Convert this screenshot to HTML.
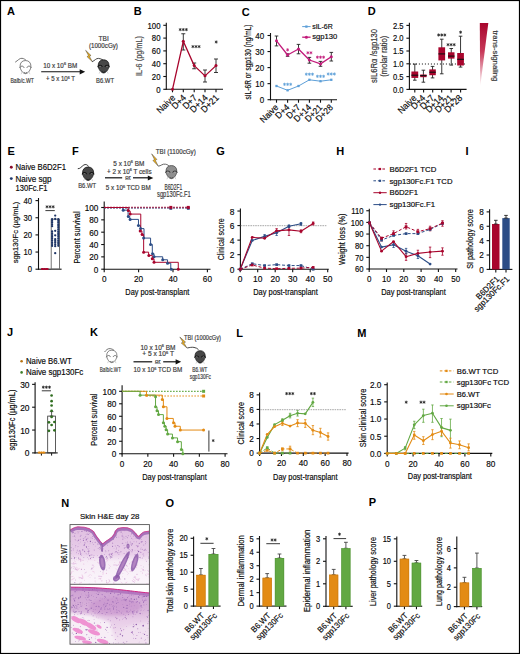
<!DOCTYPE html>
<html><head><meta charset="utf-8"><style>
html,body{margin:0;padding:0;background:#fff;}
body{width:520px;height:654px;overflow:hidden;}
svg{display:block;}
text{font-family:"Liberation Sans", sans-serif;}
</style></head><body>
<svg width="520" height="654" viewBox="0 0 520 654">
<defs>

<filter id="soft" x="-20%" y="-20%" width="140%" height="140%"><feGaussianBlur stdDeviation="1.6"/></filter>
<filter id="soft2" x="-20%" y="-20%" width="140%" height="140%"><feGaussianBlur stdDeviation="0.5"/></filter>
<linearGradient id="derm1" x1="0" y1="0" x2="0" y2="1">
<stop offset="0" stop-color="#dfbde0"/><stop offset="0.5" stop-color="#e9cfea"/><stop offset="0.62" stop-color="#f6ecf6"/><stop offset="1" stop-color="#fbf5fb"/>
</linearGradient>
<linearGradient id="derm2" x1="0" y1="0" x2="0" y2="1">
<stop offset="0" stop-color="#cc9ed2"/><stop offset="0.4" stop-color="#d8b2da"/><stop offset="0.6" stop-color="#e8cde8"/><stop offset="1" stop-color="#f4e6f3"/>
</linearGradient>
<linearGradient id="trig" x1="0" y1="0" x2="0" y2="1">
<stop offset="0" stop-color="#a8052d"/><stop offset="0.45" stop-color="#c83a5a"/><stop offset="1" stop-color="#ffffff"/>
</linearGradient>

</defs>
<rect x="0" y="0" width="520" height="654" fill="#fff"/>
<text x="7" y="15.3" font-size="11" font-weight="bold" fill="#000">A</text>
<text x="103.6" y="40.6" font-size="6.6" text-anchor="middle" fill="#3a3a3a" stroke="#3a3a3a" stroke-width="0.18">TBI</text>
<text x="103.4" y="48.2" font-size="6.8" text-anchor="middle" fill="#3a3a3a" stroke="#3a3a3a" stroke-width="0.18" textLength="29" lengthAdjust="spacingAndGlyphs">(1000cGy)</text>
<path d="M25.5,60.55 C29.11,60.55 30.91,62.93 30.91,66.25 C30.91,69.58 28.16,73.66 25.5,73.66 C22.84,73.66 20.09,69.58 20.09,66.25 C20.09,62.93 21.89,60.55 25.5,60.55 Z" fill="#ffffff" stroke="#5a5a5a" stroke-width="0.76" />
<path d="M19.71,67.96 C20.56,65.68 23.22,65.49 24.17,67.77" fill="none" stroke="#555" stroke-width="0.85" />
<path d="M31.29,67.96 C30.44,65.68 27.78,65.49 26.83,67.77" fill="none" stroke="#555" stroke-width="0.85" />
<path d="M23.79,72.33 Q25.5,74.04 27.21,72.33" fill="none" stroke="#5a5a5a" stroke-width="0.85" />
<line x1="22.08" y1="71.95" x2="21.05" y2="74.23" stroke="#b5b5b5" stroke-width="0.57"/>
<line x1="28.92" y1="71.95" x2="29.95" y2="74.23" stroke="#b5b5b5" stroke-width="0.57"/>
<path d="M15.2,62.2 C18,60.5 19.5,58 22,58.3 C24,58.5 25,59.5 26,60.2" fill="none" stroke="#666" stroke-width="0.9" />
<text x="22.2" y="83" font-size="6.6" text-anchor="middle" fill="#3a3a3a" stroke="#3a3a3a" stroke-width="0.18" textLength="23.5" lengthAdjust="spacingAndGlyphs">Balb/c.WT</text>
<line x1="41.2" y1="71.8" x2="81.2" y2="71.8" stroke="#111" stroke-width="1.1"/>
<path d="M85.2,71.8 L79.7,69.2 L79.7,74.4 Z" fill="#111" stroke="none" stroke-width="1" />
<text x="60.2" y="67.5" font-size="6.6" text-anchor="middle" fill="#3a3a3a" stroke="#3a3a3a" stroke-width="0.18" textLength="34" lengthAdjust="spacingAndGlyphs">10 x 10<tspan dy="-2.4" font-size="3.96">6</tspan><tspan dy="2.4"> BM</tspan></text>
<text x="60.5" y="81" font-size="6.6" text-anchor="middle" fill="#3a3a3a" stroke="#3a3a3a" stroke-width="0.18" textLength="29" lengthAdjust="spacingAndGlyphs">+ 5 x 10<tspan dy="-2.4" font-size="3.96">6</tspan><tspan dy="2.4"> T</tspan></text>
<path d="M85.6,50.3 L91.04,55.54 L89.41,56.34 L92.4,61.7 L86.96,56.57 L88.59,55.66 L85.6,50.3 Z" fill="#f1b21d" stroke="#3a3a3a" stroke-width="0.45" />
<path d="M92.1,61.7 C95,60.5 96,58.2 98.5,58.4 C100.5,58.6 101.5,59.2 103,60" fill="none" stroke="#333" stroke-width="0.9" />
<path d="M103.6,59.85 C107.21,59.85 109.02,62.23 109.02,65.55 C109.02,68.88 106.26,72.96 103.6,72.96 C100.94,72.96 98.18,68.88 98.18,65.55 C98.18,62.23 99.99,59.85 103.6,59.85 Z" fill="#474747" stroke="#1a1a1a" stroke-width="0.76" />
<path d="M97.8,67.26 C98.66,64.98 101.32,64.79 102.27,67.07" fill="none" stroke="#111" stroke-width="1.23" />
<path d="M109.39,67.26 C108.54,64.98 105.88,64.79 104.93,67.07" fill="none" stroke="#111" stroke-width="1.23" />
<path d="M98.56,67.07 C99.23,65.93 100.84,65.83 101.51,67.07" fill="none" stroke="#9a9a9a" stroke-width="0.57" />
<path d="M108.63,67.07 C107.97,65.93 106.35,65.83 105.69,67.07" fill="none" stroke="#9a9a9a" stroke-width="0.57" />
<path d="M101.89,71.63 Q103.6,73.34 105.31,71.63" fill="none" stroke="#1a1a1a" stroke-width="0.85" />
<line x1="100.18" y1="71.25" x2="99.15" y2="73.53" stroke="#b5b5b5" stroke-width="0.57"/>
<line x1="107.02" y1="71.25" x2="108.05" y2="73.53" stroke="#b5b5b5" stroke-width="0.57"/>
<text x="105" y="83" font-size="6.6" text-anchor="middle" fill="#3a3a3a" stroke="#3a3a3a" stroke-width="0.18" textLength="18" lengthAdjust="spacingAndGlyphs">B6.WT</text>
<text x="133.8" y="15.4" font-size="11" font-weight="bold" fill="#000">B</text>
<line x1="166.3" y1="22.8" x2="166.3" y2="89.85" stroke="#111" stroke-width="1.1"/>
<line x1="163.3" y1="25.3" x2="166.3" y2="25.3" stroke="#111" stroke-width="1.1"/>
<text x="160.5" y="28.51" font-size="8.97" text-anchor="end" stroke="#222" stroke-width="0.18" textLength="13.02" lengthAdjust="spacingAndGlyphs">100</text>
<line x1="163.3" y1="38.1" x2="166.3" y2="38.1" stroke="#111" stroke-width="1.1"/>
<text x="160.5" y="41.31" font-size="8.97" text-anchor="end" stroke="#222" stroke-width="0.18" textLength="8.68" lengthAdjust="spacingAndGlyphs">80</text>
<line x1="163.3" y1="50.9" x2="166.3" y2="50.9" stroke="#111" stroke-width="1.1"/>
<text x="160.5" y="54.11" font-size="8.97" text-anchor="end" stroke="#222" stroke-width="0.18" textLength="8.68" lengthAdjust="spacingAndGlyphs">60</text>
<line x1="163.3" y1="63.7" x2="166.3" y2="63.7" stroke="#111" stroke-width="1.1"/>
<text x="160.5" y="66.91" font-size="8.97" text-anchor="end" stroke="#222" stroke-width="0.18" textLength="8.68" lengthAdjust="spacingAndGlyphs">40</text>
<line x1="163.3" y1="76.5" x2="166.3" y2="76.5" stroke="#111" stroke-width="1.1"/>
<text x="160.5" y="79.71" font-size="8.97" text-anchor="end" stroke="#222" stroke-width="0.18" textLength="8.68" lengthAdjust="spacingAndGlyphs">20</text>
<line x1="163.3" y1="89.3" x2="166.3" y2="89.3" stroke="#111" stroke-width="1.1"/>
<text x="160.5" y="92.51" font-size="8.97" text-anchor="end" stroke="#222" stroke-width="0.18" textLength="4.34" lengthAdjust="spacingAndGlyphs">0</text>
<line x1="165.75" y1="89.3" x2="223" y2="89.3" stroke="#111" stroke-width="1.1"/>
<line x1="172.5" y1="89.3" x2="172.5" y2="92.3" stroke="#111" stroke-width="1.1"/>
<line x1="183.3" y1="89.3" x2="183.3" y2="92.3" stroke="#111" stroke-width="1.1"/>
<line x1="194.2" y1="89.3" x2="194.2" y2="92.3" stroke="#111" stroke-width="1.1"/>
<line x1="205" y1="89.3" x2="205" y2="92.3" stroke="#111" stroke-width="1.1"/>
<line x1="216" y1="89.3" x2="216" y2="92.3" stroke="#111" stroke-width="1.1"/>
<text x="175.9" y="98.4" font-size="9.13" text-anchor="end" stroke="#222" stroke-width="0.18" textLength="22.18" lengthAdjust="spacingAndGlyphs" transform="rotate(-45 175.9 98.4)">Naive</text>
<text x="186.7" y="98.4" font-size="9.13" text-anchor="end" stroke="#222" stroke-width="0.18" textLength="16.15" lengthAdjust="spacingAndGlyphs" transform="rotate(-45 186.7 98.4)">D+4</text>
<text x="197.6" y="98.4" font-size="9.13" text-anchor="end" stroke="#222" stroke-width="0.18" textLength="16.15" lengthAdjust="spacingAndGlyphs" transform="rotate(-45 197.6 98.4)">D+7</text>
<text x="208.4" y="98.4" font-size="9.13" text-anchor="end" stroke="#222" stroke-width="0.18" textLength="20.98" lengthAdjust="spacingAndGlyphs" transform="rotate(-45 208.4 98.4)">D+14</text>
<text x="219.4" y="98.4" font-size="9.13" text-anchor="end" stroke="#222" stroke-width="0.18" textLength="20.98" lengthAdjust="spacingAndGlyphs" transform="rotate(-45 219.4 98.4)">D+21</text>
<text x="142.3" y="56" font-size="9.4" text-anchor="middle" fill="#4a4a4a" stroke="#4a4a4a" stroke-width="0.18" textLength="40" lengthAdjust="spacingAndGlyphs" transform="rotate(-90 142.3 56)">IL-6 (pg/mL)</text>
<line x1="183.3" y1="33.75" x2="183.3" y2="50" stroke="#222" stroke-width="0.9"/>
<line x1="181.3" y1="33.75" x2="185.3" y2="33.75" stroke="#222" stroke-width="0.9"/>
<line x1="181.3" y1="50" x2="185.3" y2="50" stroke="#222" stroke-width="0.9"/>
<line x1="194.2" y1="63" x2="194.2" y2="68.75" stroke="#222" stroke-width="0.9"/>
<line x1="192.2" y1="63" x2="196.2" y2="63" stroke="#222" stroke-width="0.9"/>
<line x1="192.2" y1="68.75" x2="196.2" y2="68.75" stroke="#222" stroke-width="0.9"/>
<line x1="205" y1="70" x2="205" y2="82" stroke="#222" stroke-width="0.9"/>
<line x1="203" y1="70" x2="207" y2="70" stroke="#222" stroke-width="0.9"/>
<line x1="203" y1="82" x2="207" y2="82" stroke="#222" stroke-width="0.9"/>
<line x1="216" y1="59" x2="216" y2="72.5" stroke="#222" stroke-width="0.9"/>
<line x1="214" y1="59" x2="218" y2="59" stroke="#222" stroke-width="0.9"/>
<line x1="214" y1="72.5" x2="218" y2="72.5" stroke="#222" stroke-width="0.9"/>
<polyline points="172.5,89.3 183.3,41.3 194.2,65.62 205,75.86 216,65.62" fill="none" stroke="#a8052d" stroke-width="1.3" stroke-linejoin="round"/>
<circle cx="172.5" cy="89.3" r="1.5" fill="#a8052d"/>
<circle cx="183.3" cy="41.3" r="1.5" fill="#a8052d"/>
<circle cx="194.2" cy="65.62" r="1.5" fill="#a8052d"/>
<circle cx="205" cy="75.86" r="1.5" fill="#a8052d"/>
<circle cx="216" cy="65.62" r="1.5" fill="#a8052d"/>
<path d="M180.2,28.05L180.2,31.15M178.86,28.83L181.54,30.38M181.54,28.83L178.86,30.38M183.3,28.05L183.3,31.15M181.96,28.83L184.64,30.38M184.64,28.83L181.96,30.38M186.4,28.05L186.4,31.15M185.06,28.83L187.74,30.38M187.74,28.83L185.06,30.38" stroke="#222" stroke-width="0.8" fill="none"/>
<path d="M192.9,45.05L192.9,48.15M191.56,45.83L194.24,47.38M194.24,45.83L191.56,47.38M196,45.05L196,48.15M194.66,45.83L197.34,47.38M197.34,45.83L194.66,47.38M199.1,45.05L199.1,48.15M197.76,45.83L200.44,47.38M200.44,45.83L197.76,47.38" stroke="#222" stroke-width="0.8" fill="none"/>
<path d="M216.2,40.45L216.2,43.55M214.86,41.23L217.54,42.77M217.54,41.23L214.86,42.77" stroke="#222" stroke-width="0.8" fill="none"/>
<text x="241.8" y="15.5" font-size="11" font-weight="bold" fill="#000">C</text>
<line x1="270.5" y1="33" x2="270.5" y2="100.25" stroke="#111" stroke-width="1.1"/>
<line x1="267.5" y1="35.5" x2="270.5" y2="35.5" stroke="#111" stroke-width="1.1"/>
<text x="264.2" y="38.79" font-size="9.2" text-anchor="end" stroke="#222" stroke-width="0.18" textLength="8.9" lengthAdjust="spacingAndGlyphs">40</text>
<line x1="267.5" y1="51.55" x2="270.5" y2="51.55" stroke="#111" stroke-width="1.1"/>
<text x="264.2" y="54.84" font-size="9.2" text-anchor="end" stroke="#222" stroke-width="0.18" textLength="8.9" lengthAdjust="spacingAndGlyphs">30</text>
<line x1="267.5" y1="67.6" x2="270.5" y2="67.6" stroke="#111" stroke-width="1.1"/>
<text x="264.2" y="70.89" font-size="9.2" text-anchor="end" stroke="#222" stroke-width="0.18" textLength="8.9" lengthAdjust="spacingAndGlyphs">20</text>
<line x1="267.5" y1="83.65" x2="270.5" y2="83.65" stroke="#111" stroke-width="1.1"/>
<text x="264.2" y="86.94" font-size="9.2" text-anchor="end" stroke="#222" stroke-width="0.18" textLength="8.9" lengthAdjust="spacingAndGlyphs">10</text>
<line x1="267.5" y1="99.7" x2="270.5" y2="99.7" stroke="#111" stroke-width="1.1"/>
<text x="264.2" y="102.99" font-size="9.2" text-anchor="end" stroke="#222" stroke-width="0.18" textLength="4.45" lengthAdjust="spacingAndGlyphs">0</text>
<line x1="269.95" y1="99.7" x2="337" y2="99.7" stroke="#111" stroke-width="1.1"/>
<line x1="276.5" y1="99.7" x2="276.5" y2="102.7" stroke="#111" stroke-width="1.1"/>
<line x1="287.6" y1="99.7" x2="287.6" y2="102.7" stroke="#111" stroke-width="1.1"/>
<line x1="298.5" y1="99.7" x2="298.5" y2="102.7" stroke="#111" stroke-width="1.1"/>
<line x1="309.4" y1="99.7" x2="309.4" y2="102.7" stroke="#111" stroke-width="1.1"/>
<line x1="320.5" y1="99.7" x2="320.5" y2="102.7" stroke="#111" stroke-width="1.1"/>
<line x1="331.3" y1="99.7" x2="331.3" y2="102.7" stroke="#111" stroke-width="1.1"/>
<text x="278.9" y="108" font-size="8.91" text-anchor="end" stroke="#222" stroke-width="0.18" textLength="21.64" lengthAdjust="spacingAndGlyphs" transform="rotate(-45 278.9 108)">Naive</text>
<text x="290" y="108" font-size="8.91" text-anchor="end" stroke="#222" stroke-width="0.18" textLength="15.76" lengthAdjust="spacingAndGlyphs" transform="rotate(-45 290 108)">D+4</text>
<text x="300.9" y="108" font-size="8.91" text-anchor="end" stroke="#222" stroke-width="0.18" textLength="15.76" lengthAdjust="spacingAndGlyphs" transform="rotate(-45 300.9 108)">D+7</text>
<text x="311.8" y="108" font-size="8.91" text-anchor="end" stroke="#222" stroke-width="0.18" textLength="20.47" lengthAdjust="spacingAndGlyphs" transform="rotate(-45 311.8 108)">D+14</text>
<text x="322.9" y="108" font-size="8.91" text-anchor="end" stroke="#222" stroke-width="0.18" textLength="20.47" lengthAdjust="spacingAndGlyphs" transform="rotate(-45 322.9 108)">D+21</text>
<text x="333.7" y="108" font-size="8.91" text-anchor="end" stroke="#222" stroke-width="0.18" textLength="20.47" lengthAdjust="spacingAndGlyphs" transform="rotate(-45 333.7 108)">D+28</text>
<text x="251.07" y="62" font-size="8.4" text-anchor="middle" stroke="#222" stroke-width="0.18" textLength="75" lengthAdjust="spacingAndGlyphs" transform="rotate(-90 251.07 62)">sIL-6R or sgp130 (ng/mL)</text>
<line x1="276.5" y1="36" x2="276.5" y2="45.9" stroke="#222" stroke-width="0.9"/>
<line x1="274.7" y1="36" x2="278.3" y2="36" stroke="#222" stroke-width="0.9"/>
<line x1="274.7" y1="45.9" x2="278.3" y2="45.9" stroke="#222" stroke-width="0.9"/>
<line x1="287.6" y1="53.8" x2="287.6" y2="56.3" stroke="#222" stroke-width="0.9"/>
<line x1="285.8" y1="53.8" x2="289.4" y2="53.8" stroke="#222" stroke-width="0.9"/>
<line x1="285.8" y1="56.3" x2="289.4" y2="56.3" stroke="#222" stroke-width="0.9"/>
<line x1="298.5" y1="44.4" x2="298.5" y2="53.8" stroke="#222" stroke-width="0.9"/>
<line x1="296.7" y1="44.4" x2="300.3" y2="44.4" stroke="#222" stroke-width="0.9"/>
<line x1="296.7" y1="53.8" x2="300.3" y2="53.8" stroke="#222" stroke-width="0.9"/>
<line x1="309.4" y1="57.4" x2="309.4" y2="63.2" stroke="#222" stroke-width="0.9"/>
<line x1="307.6" y1="57.4" x2="311.2" y2="57.4" stroke="#222" stroke-width="0.9"/>
<line x1="307.6" y1="63.2" x2="311.2" y2="63.2" stroke="#222" stroke-width="0.9"/>
<line x1="320.5" y1="61.4" x2="320.5" y2="66.3" stroke="#222" stroke-width="0.9"/>
<line x1="318.7" y1="61.4" x2="322.3" y2="61.4" stroke="#222" stroke-width="0.9"/>
<line x1="318.7" y1="66.3" x2="322.3" y2="66.3" stroke="#222" stroke-width="0.9"/>
<line x1="331.3" y1="52.4" x2="331.3" y2="61" stroke="#222" stroke-width="0.9"/>
<line x1="329.5" y1="52.4" x2="333.1" y2="52.4" stroke="#222" stroke-width="0.9"/>
<line x1="329.5" y1="61" x2="333.1" y2="61" stroke="#222" stroke-width="0.9"/>
<polyline points="276.5,40.8 287.6,55 298.5,49 309.4,60 320.5,63.9 331.3,56.7" fill="none" stroke="#c21a7a" stroke-width="1.3" stroke-linejoin="round"/>
<circle cx="276.5" cy="40.8" r="1.5" fill="#c21a7a"/>
<circle cx="287.6" cy="55" r="1.5" fill="#c21a7a"/>
<circle cx="298.5" cy="49" r="1.5" fill="#c21a7a"/>
<circle cx="309.4" cy="60" r="1.5" fill="#c21a7a"/>
<circle cx="320.5" cy="63.9" r="1.5" fill="#c21a7a"/>
<circle cx="331.3" cy="56.7" r="1.5" fill="#c21a7a"/>
<polyline points="276.5,86 287.6,90.3 298.5,86 309.4,79.8 320.5,81.2 331.3,79.8" fill="none" stroke="#5d9fd8" stroke-width="1" stroke-linejoin="round"/>
<rect x="275.35" y="84.85" width="2.3" height="2.3" fill="#5d9fd8"/>
<rect x="286.45" y="89.15" width="2.3" height="2.3" fill="#5d9fd8"/>
<rect x="297.35" y="84.85" width="2.3" height="2.3" fill="#5d9fd8"/>
<rect x="308.25" y="78.65" width="2.3" height="2.3" fill="#5d9fd8"/>
<rect x="319.35" y="80.05" width="2.3" height="2.3" fill="#5d9fd8"/>
<rect x="330.15" y="78.65" width="2.3" height="2.3" fill="#5d9fd8"/>
<path d="M287.6,48.25L287.6,51.35M286.26,49.02L288.94,50.57M288.94,49.02L286.26,50.57" stroke="#c21a7a" stroke-width="0.8" fill="none"/>
<path d="M307.85,51.25L307.85,54.35M306.51,52.02L309.19,53.57M309.19,52.02L306.51,53.57M310.95,51.25L310.95,54.35M309.61,52.02L312.29,53.57M312.29,52.02L309.61,53.57" stroke="#c21a7a" stroke-width="0.8" fill="none"/>
<path d="M317.4,55.65L317.4,58.75M316.06,56.43L318.74,57.98M318.74,56.43L316.06,57.98M320.5,55.65L320.5,58.75M319.16,56.43L321.84,57.98M321.84,56.43L319.16,57.98M323.6,55.65L323.6,58.75M322.26,56.43L324.94,57.98M324.94,56.43L322.26,57.98" stroke="#c21a7a" stroke-width="0.8" fill="none"/>
<path d="M284.5,82.75L284.5,85.85M283.16,83.52L285.84,85.08M285.84,83.52L283.16,85.08M287.6,82.75L287.6,85.85M286.26,83.52L288.94,85.08M288.94,83.52L286.26,85.08M290.7,82.75L290.7,85.85M289.36,83.52L292.04,85.08M292.04,83.52L289.36,85.08" stroke="#5d9fd8" stroke-width="0.8" fill="none"/>
<path d="M306.3,72.65L306.3,75.75M304.96,73.42L307.64,74.98M307.64,73.42L304.96,74.98M309.4,72.65L309.4,75.75M308.06,73.42L310.74,74.98M310.74,73.42L308.06,74.98M312.5,72.65L312.5,75.75M311.16,73.42L313.84,74.98M313.84,73.42L311.16,74.98" stroke="#5d9fd8" stroke-width="0.8" fill="none"/>
<path d="M317.4,74.75L317.4,77.85M316.06,75.52L318.74,77.08M318.74,75.52L316.06,77.08M320.5,74.75L320.5,77.85M319.16,75.52L321.84,77.08M321.84,75.52L319.16,77.08M323.6,74.75L323.6,77.85M322.26,75.52L324.94,77.08M324.94,75.52L322.26,77.08" stroke="#5d9fd8" stroke-width="0.8" fill="none"/>
<path d="M328.2,72.45L328.2,75.55M326.86,73.22L329.54,74.78M329.54,73.22L326.86,74.78M331.3,72.45L331.3,75.55M329.96,73.22L332.64,74.78M332.64,73.22L329.96,74.78M334.4,72.45L334.4,75.55M333.06,73.22L335.74,74.78M335.74,73.22L333.06,74.78" stroke="#5d9fd8" stroke-width="0.8" fill="none"/>
<line x1="302.2" y1="26.6" x2="310.6" y2="26.6" stroke="#5d9fd8" stroke-width="1"/>
<rect x="305.25" y="25.45" width="2.3" height="2.3" fill="#5d9fd8"/>
<text x="312.2" y="29.3" font-size="7.6" stroke="#222" stroke-width="0.18" textLength="20.5" lengthAdjust="spacingAndGlyphs">sIL-6R</text>
<line x1="302.2" y1="37.2" x2="310.6" y2="37.2" stroke="#c21a7a" stroke-width="1.3"/>
<circle cx="306.4" cy="37.2" r="1.5" fill="#c21a7a"/>
<text x="312.2" y="39.4" font-size="7.6" stroke="#222" stroke-width="0.18" textLength="25" lengthAdjust="spacingAndGlyphs">sgp130</text>
<text x="367.7" y="15.4" font-size="11" font-weight="bold" fill="#000">D</text>
<line x1="409.4" y1="22.7" x2="409.4" y2="89.95" stroke="#111" stroke-width="1.1"/>
<line x1="406.4" y1="25.4" x2="409.4" y2="25.4" stroke="#111" stroke-width="1.1"/>
<text x="403.6" y="28.53" font-size="8.74" text-anchor="end" stroke="#222" stroke-width="0.18" textLength="10.57" lengthAdjust="spacingAndGlyphs">2.5</text>
<line x1="406.4" y1="38.2" x2="409.4" y2="38.2" stroke="#111" stroke-width="1.1"/>
<text x="403.6" y="41.33" font-size="8.74" text-anchor="end" stroke="#222" stroke-width="0.18" textLength="10.57" lengthAdjust="spacingAndGlyphs">2.0</text>
<line x1="406.4" y1="51" x2="409.4" y2="51" stroke="#111" stroke-width="1.1"/>
<text x="403.6" y="54.13" font-size="8.74" text-anchor="end" stroke="#222" stroke-width="0.18" textLength="10.57" lengthAdjust="spacingAndGlyphs">1.5</text>
<line x1="406.4" y1="63.8" x2="409.4" y2="63.8" stroke="#111" stroke-width="1.1"/>
<text x="403.6" y="66.93" font-size="8.74" text-anchor="end" stroke="#222" stroke-width="0.18" textLength="10.57" lengthAdjust="spacingAndGlyphs">1.0</text>
<line x1="406.4" y1="76.6" x2="409.4" y2="76.6" stroke="#111" stroke-width="1.1"/>
<text x="403.6" y="79.73" font-size="8.74" text-anchor="end" stroke="#222" stroke-width="0.18" textLength="10.57" lengthAdjust="spacingAndGlyphs">0.5</text>
<line x1="406.4" y1="89.4" x2="409.4" y2="89.4" stroke="#111" stroke-width="1.1"/>
<text x="403.6" y="92.53" font-size="8.74" text-anchor="end" stroke="#222" stroke-width="0.18" textLength="10.57" lengthAdjust="spacingAndGlyphs">0.0</text>
<line x1="408.85" y1="89.4" x2="466.6" y2="89.4" stroke="#111" stroke-width="1.1"/>
<line x1="414.8" y1="89.4" x2="414.8" y2="92.4" stroke="#111" stroke-width="1.1"/>
<line x1="423.6" y1="89.4" x2="423.6" y2="92.4" stroke="#111" stroke-width="1.1"/>
<line x1="432.7" y1="89.4" x2="432.7" y2="92.4" stroke="#111" stroke-width="1.1"/>
<line x1="441.7" y1="89.4" x2="441.7" y2="92.4" stroke="#111" stroke-width="1.1"/>
<line x1="451.1" y1="89.4" x2="451.1" y2="92.4" stroke="#111" stroke-width="1.1"/>
<line x1="460.6" y1="89.4" x2="460.6" y2="92.4" stroke="#111" stroke-width="1.1"/>
<text x="417.1" y="98.5" font-size="9.13" text-anchor="end" stroke="#222" stroke-width="0.18" textLength="22.18" lengthAdjust="spacingAndGlyphs" transform="rotate(-45 417.1 98.5)">Naive</text>
<text x="425.9" y="98.5" font-size="9.13" text-anchor="end" stroke="#222" stroke-width="0.18" textLength="16.15" lengthAdjust="spacingAndGlyphs" transform="rotate(-45 425.9 98.5)">D+4</text>
<text x="435" y="98.5" font-size="9.13" text-anchor="end" stroke="#222" stroke-width="0.18" textLength="16.15" lengthAdjust="spacingAndGlyphs" transform="rotate(-45 435 98.5)">D+7</text>
<text x="444" y="98.5" font-size="9.13" text-anchor="end" stroke="#222" stroke-width="0.18" textLength="20.98" lengthAdjust="spacingAndGlyphs" transform="rotate(-45 444 98.5)">D+14</text>
<text x="453.4" y="98.5" font-size="9.13" text-anchor="end" stroke="#222" stroke-width="0.18" textLength="20.98" lengthAdjust="spacingAndGlyphs" transform="rotate(-45 453.4 98.5)">D+21</text>
<text x="462.9" y="98.5" font-size="9.13" text-anchor="end" stroke="#222" stroke-width="0.18" textLength="20.98" lengthAdjust="spacingAndGlyphs" transform="rotate(-45 462.9 98.5)">D+28</text>
<line x1="409.9" y1="64" x2="466" y2="64" stroke="#222" stroke-width="1" stroke-dasharray="1.1,1.9"/>
<line x1="414.8" y1="64.1" x2="414.8" y2="80.2" stroke="#222" stroke-width="0.9"/>
<line x1="413" y1="64.1" x2="416.6" y2="64.1" stroke="#222" stroke-width="0.9"/>
<line x1="413" y1="80.2" x2="416.6" y2="80.2" stroke="#222" stroke-width="0.9"/>
<rect x="411.4" y="71.5" width="6.8" height="6.4" fill="#a8052d"/>
<line x1="411.4" y1="75.2" x2="418.2" y2="75.2" stroke="#111" stroke-width="1.1"/>
<line x1="423.4" y1="70.2" x2="423.4" y2="82.2" stroke="#222" stroke-width="0.9"/>
<line x1="421.6" y1="70.2" x2="425.2" y2="70.2" stroke="#222" stroke-width="0.9"/>
<line x1="421.6" y1="82.2" x2="425.2" y2="82.2" stroke="#222" stroke-width="0.9"/>
<rect x="420.2" y="74.5" width="6.4" height="2.7" fill="#a8052d"/>
<line x1="420.2" y1="75.6" x2="426.6" y2="75.6" stroke="#111" stroke-width="1.1"/>
<line x1="432.55" y1="66.4" x2="432.55" y2="77.9" stroke="#222" stroke-width="0.9"/>
<line x1="430.75" y1="66.4" x2="434.35" y2="66.4" stroke="#222" stroke-width="0.9"/>
<line x1="430.75" y1="77.9" x2="434.35" y2="77.9" stroke="#222" stroke-width="0.9"/>
<rect x="429.3" y="69.4" width="6.5" height="5.8" fill="#a8052d"/>
<line x1="429.3" y1="72.2" x2="435.8" y2="72.2" stroke="#111" stroke-width="1.1"/>
<line x1="441.75" y1="39.2" x2="441.75" y2="73.8" stroke="#222" stroke-width="0.9"/>
<line x1="439.95" y1="39.2" x2="443.55" y2="39.2" stroke="#222" stroke-width="0.9"/>
<line x1="439.95" y1="73.8" x2="443.55" y2="73.8" stroke="#222" stroke-width="0.9"/>
<rect x="438.4" y="47.3" width="6.7" height="13.1" fill="#a8052d"/>
<line x1="438.4" y1="53.9" x2="445.1" y2="53.9" stroke="#111" stroke-width="1.1"/>
<line x1="451.25" y1="48.5" x2="451.25" y2="65.1" stroke="#222" stroke-width="0.9"/>
<line x1="449.45" y1="48.5" x2="453.05" y2="48.5" stroke="#222" stroke-width="0.9"/>
<line x1="449.45" y1="65.1" x2="453.05" y2="65.1" stroke="#222" stroke-width="0.9"/>
<rect x="448" y="52.3" width="6.5" height="6.3" fill="#a8052d"/>
<line x1="448" y1="56.1" x2="454.5" y2="56.1" stroke="#111" stroke-width="1.1"/>
<line x1="460.55" y1="36.2" x2="460.55" y2="67.1" stroke="#222" stroke-width="0.9"/>
<line x1="458.75" y1="36.2" x2="462.35" y2="36.2" stroke="#222" stroke-width="0.9"/>
<line x1="458.75" y1="67.1" x2="462.35" y2="67.1" stroke="#222" stroke-width="0.9"/>
<rect x="457.2" y="53" width="6.7" height="12.5" fill="#a8052d"/>
<line x1="457.2" y1="59.3" x2="463.9" y2="59.3" stroke="#111" stroke-width="1.1"/>
<path d="M438.6,33.45L438.6,36.55M437.26,34.23L439.94,35.77M439.94,34.23L437.26,35.77M441.7,33.45L441.7,36.55M440.36,34.23L443.04,35.77M443.04,34.23L440.36,35.77M444.8,33.45L444.8,36.55M443.46,34.23L446.14,35.77M446.14,34.23L443.46,35.77" stroke="#222" stroke-width="0.8" fill="none"/>
<path d="M448,43.15L448,46.25M446.66,43.93L449.34,45.48M449.34,43.93L446.66,45.48M451.1,43.15L451.1,46.25M449.76,43.93L452.44,45.48M452.44,43.93L449.76,45.48M454.2,43.15L454.2,46.25M452.86,43.93L455.54,45.48M455.54,43.93L452.86,45.48" stroke="#222" stroke-width="0.8" fill="none"/>
<path d="M460.6,30.65L460.6,33.75M459.26,31.43L461.94,32.98M461.94,31.43L459.26,32.98" stroke="#222" stroke-width="0.8" fill="none"/>
<text x="377" y="56" font-size="8.4" text-anchor="middle" fill="#333" stroke="#333" stroke-width="0.18" textLength="54" lengthAdjust="spacingAndGlyphs" transform="rotate(-90 377 56)">sIL6R&#945; /sgp130</text>
<text x="387.3" y="56.2" font-size="8.4" text-anchor="middle" fill="#333" stroke="#333" stroke-width="0.18" textLength="41" lengthAdjust="spacingAndGlyphs" transform="rotate(-90 387.3 56.2)">(molar ratio)</text>
<path d="M479.8,23 L488.3,23 L480.2,86.8 Z" fill="url(#trig)" stroke="none" stroke-width="1" />
<text x="492.9" y="56" font-size="7.2" text-anchor="middle" fill="#333" stroke="#333" stroke-width="0.18" textLength="51" lengthAdjust="spacingAndGlyphs" transform="rotate(90 492.9 56)">trans-signaling</text>
<text x="7.5" y="155.2" font-size="11" font-weight="bold" fill="#000">E</text>
<circle cx="11.3" cy="167.2" r="1.45" fill="#8a0a28"/>
<text x="15.5" y="169.9" font-size="9.4" stroke="#222" stroke-width="0.18" textLength="50.5" lengthAdjust="spacingAndGlyphs">Naive B6D2F1</text>
<circle cx="11.3" cy="178.6" r="1.45" fill="#1f3a6e"/>
<text x="15.5" y="181.7" font-size="9.4" stroke="#222" stroke-width="0.18" textLength="36" lengthAdjust="spacingAndGlyphs">Naive sgp</text>
<text x="15.5" y="191.3" font-size="9.4" stroke="#222" stroke-width="0.18" textLength="32" lengthAdjust="spacingAndGlyphs">130Fc.F1</text>
<line x1="38.5" y1="198" x2="38.5" y2="269.75" stroke="#111" stroke-width="1.1"/>
<line x1="35.5" y1="200.6" x2="38.5" y2="200.6" stroke="#111" stroke-width="1.1"/>
<text x="32" y="203.77" font-size="8.85" text-anchor="end" stroke="#222" stroke-width="0.18" textLength="8.57" lengthAdjust="spacingAndGlyphs">40</text>
<line x1="35.5" y1="217.75" x2="38.5" y2="217.75" stroke="#111" stroke-width="1.1"/>
<text x="32" y="220.92" font-size="8.85" text-anchor="end" stroke="#222" stroke-width="0.18" textLength="8.57" lengthAdjust="spacingAndGlyphs">30</text>
<line x1="35.5" y1="234.9" x2="38.5" y2="234.9" stroke="#111" stroke-width="1.1"/>
<text x="32" y="238.07" font-size="8.85" text-anchor="end" stroke="#222" stroke-width="0.18" textLength="8.57" lengthAdjust="spacingAndGlyphs">20</text>
<line x1="35.5" y1="252.05" x2="38.5" y2="252.05" stroke="#111" stroke-width="1.1"/>
<text x="32" y="255.22" font-size="8.85" text-anchor="end" stroke="#222" stroke-width="0.18" textLength="8.57" lengthAdjust="spacingAndGlyphs">10</text>
<line x1="35.5" y1="269.2" x2="38.5" y2="269.2" stroke="#111" stroke-width="1.1"/>
<text x="32" y="272.37" font-size="8.85" text-anchor="end" stroke="#222" stroke-width="0.18" textLength="4.28" lengthAdjust="spacingAndGlyphs">0</text>
<line x1="38.1" y1="269.2" x2="61.6" y2="269.2" stroke="#111" stroke-width="1.1"/>
<rect x="51.2" y="219.2" width="8.3" height="50" fill="none" stroke="#666" stroke-width="0.9"/>
<line x1="41" y1="269" x2="48.6" y2="269" stroke="#a8052d" stroke-width="1.6"/>
<circle cx="42.5" cy="269" r="1" fill="#a8052d"/>
<circle cx="44.7" cy="269" r="1" fill="#a8052d"/>
<circle cx="46.9" cy="269" r="1" fill="#a8052d"/>
<circle cx="52.1" cy="219.2" r="1.15" fill="#1e3566"/>
<circle cx="52.1" cy="220.9" r="1.15" fill="#1e3566"/>
<circle cx="52.1" cy="222.6" r="1.15" fill="#1e3566"/>
<circle cx="52.1" cy="224.3" r="1.15" fill="#1e3566"/>
<circle cx="52.1" cy="226.2" r="1.15" fill="#1e3566"/>
<circle cx="52.1" cy="231.5" r="1.15" fill="#1e3566"/>
<circle cx="52.1" cy="233.3" r="1.15" fill="#1e3566"/>
<circle cx="52.1" cy="235.1" r="1.15" fill="#1e3566"/>
<circle cx="52.1" cy="236.9" r="1.15" fill="#1e3566"/>
<circle cx="52.1" cy="238.7" r="1.15" fill="#1e3566"/>
<circle cx="52.1" cy="240.5" r="1.15" fill="#1e3566"/>
<circle cx="52.1" cy="242.3" r="1.15" fill="#1e3566"/>
<circle cx="52.1" cy="244.1" r="1.15" fill="#1e3566"/>
<circle cx="52.1" cy="245.9" r="1.15" fill="#1e3566"/>
<circle cx="58.3" cy="219.2" r="1.15" fill="#1e3566"/>
<circle cx="58.3" cy="220.9" r="1.15" fill="#1e3566"/>
<circle cx="58.3" cy="222.6" r="1.15" fill="#1e3566"/>
<circle cx="58.3" cy="224.3" r="1.15" fill="#1e3566"/>
<circle cx="58.3" cy="226" r="1.15" fill="#1e3566"/>
<circle cx="58.3" cy="227.8" r="1.15" fill="#1e3566"/>
<circle cx="58.3" cy="229.6" r="1.15" fill="#1e3566"/>
<circle cx="58.3" cy="231.4" r="1.15" fill="#1e3566"/>
<circle cx="58.3" cy="233.2" r="1.15" fill="#1e3566"/>
<circle cx="58.3" cy="235" r="1.15" fill="#1e3566"/>
<circle cx="58.3" cy="236.8" r="1.15" fill="#1e3566"/>
<circle cx="58.3" cy="238.6" r="1.15" fill="#1e3566"/>
<circle cx="58.3" cy="240.4" r="1.15" fill="#1e3566"/>
<circle cx="58.3" cy="242.2" r="1.15" fill="#1e3566"/>
<circle cx="58.3" cy="244" r="1.15" fill="#1e3566"/>
<circle cx="58.3" cy="245.8" r="1.15" fill="#1e3566"/>
<circle cx="55.2" cy="219" r="1.15" fill="#1e3566"/>
<circle cx="55.2" cy="230.8" r="1.15" fill="#1e3566"/>
<circle cx="55.2" cy="235.3" r="1.15" fill="#1e3566"/>
<circle cx="55.2" cy="239.2" r="1.15" fill="#1e3566"/>
<circle cx="55.2" cy="240.9" r="1.15" fill="#1e3566"/>
<circle cx="55.2" cy="242.6" r="1.15" fill="#1e3566"/>
<circle cx="55.2" cy="244.3" r="1.15" fill="#1e3566"/>
<circle cx="55.2" cy="246.2" r="1.15" fill="#1e3566"/>
<circle cx="55.2" cy="215.6" r="1.15" fill="#1e3566"/>
<circle cx="55.2" cy="253.2" r="1.15" fill="#1e3566"/>
<path d="M47,205.25L47,208.35M45.66,206.03L48.34,207.58M48.34,206.03L45.66,207.58M50.1,205.25L50.1,208.35M48.76,206.03L51.44,207.58M51.44,206.03L48.76,207.58M53.2,205.25L53.2,208.35M51.86,206.03L54.54,207.58M54.54,206.03L51.86,207.58" stroke="#222" stroke-width="0.8" fill="none"/>
<line x1="45.4" y1="210.6" x2="54.8" y2="210.6" stroke="#222" stroke-width="0.9"/>
<text x="17.74" y="232.5" font-size="8" text-anchor="middle" stroke="#222" stroke-width="0.18" textLength="61.5" lengthAdjust="spacingAndGlyphs" transform="rotate(-90 17.74 232.5)">sgp130Fc (&#181;g/mL)</text>
<text x="72.1" y="155.2" font-size="11" font-weight="bold" fill="#000">F</text>
<path d="M77.8,168.7 C80,169 81.5,166.5 83.8,165 C85.5,164 87.5,164.5 88.5,166.5" fill="none" stroke="#222" stroke-width="0.9" />
<path d="M88.1,167.01 C91.79,167.01 93.63,169.44 93.63,172.83 C93.63,176.23 90.82,180.4 88.1,180.4 C85.38,180.4 82.57,176.23 82.57,172.83 C82.57,169.44 84.41,167.01 88.1,167.01 Z" fill="#474747" stroke="#1a1a1a" stroke-width="0.78" />
<path d="M82.18,174.58 C83.06,172.25 85.77,172.05 86.74,174.38" fill="none" stroke="#111" stroke-width="1.26" />
<path d="M94.02,174.58 C93.14,172.25 90.43,172.05 89.46,174.38" fill="none" stroke="#111" stroke-width="1.26" />
<path d="M82.96,174.38 C83.64,173.22 85.29,173.12 85.97,174.38" fill="none" stroke="#9a9a9a" stroke-width="0.58" />
<path d="M93.24,174.38 C92.56,173.22 90.91,173.12 90.23,174.38" fill="none" stroke="#9a9a9a" stroke-width="0.58" />
<path d="M86.35,179.04 Q88.1,180.78 89.85,179.04" fill="none" stroke="#1a1a1a" stroke-width="0.87" />
<line x1="84.61" y1="178.65" x2="83.56" y2="180.98" stroke="#b5b5b5" stroke-width="0.58"/>
<line x1="91.59" y1="178.65" x2="92.64" y2="180.98" stroke="#b5b5b5" stroke-width="0.58"/>
<text x="87.2" y="188.1" font-size="7.4" text-anchor="middle" fill="#3a3a3a" stroke="#3a3a3a" stroke-width="0.18" textLength="18" lengthAdjust="spacingAndGlyphs">B6.WT</text>
<text x="128.8" y="165.6" font-size="6.6" text-anchor="middle" fill="#3a3a3a" stroke="#3a3a3a" stroke-width="0.18" textLength="31" lengthAdjust="spacingAndGlyphs">5 x 10<tspan dy="-2.4" font-size="3.96">6</tspan><tspan dy="2.4"> BM</tspan></text>
<text x="129.3" y="173.8" font-size="6.6" text-anchor="middle" fill="#3a3a3a" stroke="#3a3a3a" stroke-width="0.18" textLength="44.5" lengthAdjust="spacingAndGlyphs">+ 2 x 10<tspan dy="-2.4" font-size="3.96">6</tspan><tspan dy="2.4"> T cells</tspan></text>
<line x1="105" y1="177.8" x2="122.2" y2="177.8" stroke="#111" stroke-width="1.2"/>
<line x1="133" y1="177.8" x2="149" y2="177.8" stroke="#111" stroke-width="1.2"/>
<path d="M153.3,178 L147.8,175.4 L147.8,180.6 Z" fill="#111" stroke="none" stroke-width="1" />
<text x="128" y="178.7" font-size="6.2" text-anchor="middle" fill="#3a3a3a" stroke="#3a3a3a" stroke-width="0.18">or</text>
<line x1="125" y1="179.4" x2="131" y2="179.4" stroke="#444" stroke-width="0.5"/>
<text x="128.3" y="190.3" font-size="6.6" text-anchor="middle" fill="#3a3a3a" stroke="#3a3a3a" stroke-width="0.18" textLength="45" lengthAdjust="spacingAndGlyphs">5 x 10<tspan dy="-2.4" font-size="3.96">6</tspan><tspan dy="2.4"> TCD BM</tspan></text>
<text x="175.8" y="153.8" font-size="6.8" text-anchor="middle" fill="#3a3a3a" stroke="#3a3a3a" stroke-width="0.18" textLength="40" lengthAdjust="spacingAndGlyphs">TBI (1100cGy)</text>
<path d="M151.6,153.8 L156.88,159.41 L155.3,160.27 L158.2,166 L152.92,160.51 L154.5,159.53 L151.6,153.8 Z" fill="#f1b21d" stroke="#3a3a3a" stroke-width="0.45" />
<path d="M158.2,166.2 C161,166 162.5,163.5 165.5,164.2 C167.5,164.6 168.5,165.3 169.5,166.5" fill="none" stroke="#555" stroke-width="0.9" />
<path d="M171.4,165.55 C175.01,165.55 176.81,167.92 176.81,171.25 C176.81,174.57 174.06,178.66 171.4,178.66 C168.74,178.66 165.99,174.57 165.99,171.25 C165.99,167.92 167.79,165.55 171.4,165.55 Z" fill="#8f8f8f" stroke="#4a4a4a" stroke-width="0.76" />
<path d="M165.61,172.96 C166.46,170.68 169.12,170.49 170.07,172.77" fill="none" stroke="#3a3a3a" stroke-width="1.14" />
<path d="M177.19,172.96 C176.34,170.68 173.68,170.49 172.73,172.77" fill="none" stroke="#3a3a3a" stroke-width="1.14" />
<path d="M166.37,172.77 C167.03,171.63 168.65,171.53 169.31,172.77" fill="none" stroke="#d0d0d0" stroke-width="0.57" />
<path d="M176.44,172.77 C175.77,171.63 174.16,171.53 173.49,172.77" fill="none" stroke="#d0d0d0" stroke-width="0.57" />
<path d="M169.69,177.33 Q171.4,179.04 173.11,177.33" fill="none" stroke="#4a4a4a" stroke-width="0.85" />
<line x1="167.98" y1="176.95" x2="166.95" y2="179.23" stroke="#b5b5b5" stroke-width="0.57"/>
<line x1="174.82" y1="176.95" x2="175.85" y2="179.23" stroke="#b5b5b5" stroke-width="0.57"/>
<text x="173.3" y="189.7" font-size="8.2" text-anchor="middle" fill="#3a3a3a" stroke="#3a3a3a" stroke-width="0.18" textLength="17.8" lengthAdjust="spacingAndGlyphs">B6D2F1</text>
<text x="173.9" y="196.5" font-size="8.2" text-anchor="middle" fill="#3a3a3a" stroke="#3a3a3a" stroke-width="0.18" textLength="33.8" lengthAdjust="spacingAndGlyphs">sgp130Fc.F1</text>
<line x1="104.2" y1="201.5" x2="104.2" y2="269.75" stroke="#111" stroke-width="1.1"/>
<line x1="101.2" y1="207.5" x2="104.2" y2="207.5" stroke="#111" stroke-width="1.1"/>
<text x="98.4" y="210.88" font-size="9.43" text-anchor="end" stroke="#222" stroke-width="0.18" textLength="13.69" lengthAdjust="spacingAndGlyphs">100</text>
<line x1="101.2" y1="219.84" x2="104.2" y2="219.84" stroke="#111" stroke-width="1.1"/>
<text x="98.4" y="223.22" font-size="9.43" text-anchor="end" stroke="#222" stroke-width="0.18" textLength="9.13" lengthAdjust="spacingAndGlyphs">80</text>
<line x1="101.2" y1="232.18" x2="104.2" y2="232.18" stroke="#111" stroke-width="1.1"/>
<text x="98.4" y="235.56" font-size="9.43" text-anchor="end" stroke="#222" stroke-width="0.18" textLength="9.13" lengthAdjust="spacingAndGlyphs">60</text>
<line x1="101.2" y1="244.52" x2="104.2" y2="244.52" stroke="#111" stroke-width="1.1"/>
<text x="98.4" y="247.9" font-size="9.43" text-anchor="end" stroke="#222" stroke-width="0.18" textLength="9.13" lengthAdjust="spacingAndGlyphs">40</text>
<line x1="101.2" y1="256.86" x2="104.2" y2="256.86" stroke="#111" stroke-width="1.1"/>
<text x="98.4" y="260.24" font-size="9.43" text-anchor="end" stroke="#222" stroke-width="0.18" textLength="9.13" lengthAdjust="spacingAndGlyphs">20</text>
<line x1="101.2" y1="269.2" x2="104.2" y2="269.2" stroke="#111" stroke-width="1.1"/>
<text x="98.4" y="272.58" font-size="9.43" text-anchor="end" stroke="#222" stroke-width="0.18" textLength="4.56" lengthAdjust="spacingAndGlyphs">0</text>
<line x1="103.65" y1="269.2" x2="210.5" y2="269.2" stroke="#111" stroke-width="1.1"/>
<line x1="104.2" y1="269.2" x2="104.2" y2="272.2" stroke="#111" stroke-width="1.1"/>
<text x="104.2" y="282.38" font-size="9.43" text-anchor="middle" stroke="#222" stroke-width="0.18" textLength="4.56" lengthAdjust="spacingAndGlyphs">0</text>
<line x1="138.6" y1="269.2" x2="138.6" y2="272.2" stroke="#111" stroke-width="1.1"/>
<text x="138.6" y="282.38" font-size="9.43" text-anchor="middle" stroke="#222" stroke-width="0.18" textLength="9.13" lengthAdjust="spacingAndGlyphs">20</text>
<line x1="173" y1="269.2" x2="173" y2="272.2" stroke="#111" stroke-width="1.1"/>
<text x="173" y="282.38" font-size="9.43" text-anchor="middle" stroke="#222" stroke-width="0.18" textLength="9.13" lengthAdjust="spacingAndGlyphs">40</text>
<line x1="207.4" y1="269.2" x2="207.4" y2="272.2" stroke="#111" stroke-width="1.1"/>
<text x="207.4" y="282.38" font-size="9.43" text-anchor="middle" stroke="#222" stroke-width="0.18" textLength="9.13" lengthAdjust="spacingAndGlyphs">60</text>
<text x="79.7" y="237.5" font-size="8.8" text-anchor="middle" stroke="#222" stroke-width="0.18" textLength="52.2" lengthAdjust="spacingAndGlyphs" transform="rotate(-90 79.7 237.5)">Percent survival</text>
<text x="157.3" y="295.2" font-size="8.6" text-anchor="middle" stroke="#222" stroke-width="0.18" textLength="64" lengthAdjust="spacingAndGlyphs">Day post-transplant</text>
<line x1="104.2" y1="207.5" x2="188.5" y2="207.5" stroke="#a8052d" stroke-width="1.4" stroke-dasharray="1.6,1.4"/>
<line x1="104.2" y1="208.2" x2="188.5" y2="208.2" stroke="#2c4d86" stroke-width="0.8" stroke-dasharray="1.6,1.4"/>
<rect x="169.4" y="207" width="2.8" height="2.8" fill="#2c4d86"/>
<rect x="186.9" y="207" width="2.8" height="2.8" fill="#2c4d86"/>
<rect x="169.3" y="205.9" width="3" height="3" fill="#a8052d"/>
<rect x="186.8" y="205.9" width="3" height="3" fill="#a8052d"/>
<polyline points="104.2,207.5 122.88,207.5 122.88,210.15 128.08,210.15 128.08,216.38 129.81,216.38 129.81,219.38 138.46,219.38 138.46,225.61 140.54,225.61 140.54,228.61 144,228.61 144,238.08 150.58,238.08 150.58,244.42 152.31,244.42 152.31,253.65 154.04,253.65 154.04,256.77 162.69,256.77 162.69,259.77 167.54,259.77 167.54,263.23 170.77,263.23 170.77,269.23" fill="none" stroke="#2c4d86" stroke-width="1" stroke-linejoin="miter"/>
<polyline points="104.2,207.5 128.08,207.5 128.08,210.96 130.15,210.96 130.15,214.08 140.77,214.08 140.77,230.92 141.92,230.92 141.92,234.61 143.65,234.61 143.65,252.15 148.61,252.15 148.61,255.38 152.31,255.38 152.31,258.84 154.04,258.84 154.04,262.31 178.27,262.31 178.27,269.23" fill="none" stroke="#a8052d" stroke-width="1" stroke-linejoin="miter"/>
<circle cx="123.23" cy="210.15" r="1.5" fill="#2c4d86"/>
<circle cx="128.31" cy="216.38" r="1.5" fill="#2c4d86"/>
<circle cx="130.15" cy="219.38" r="1.5" fill="#2c4d86"/>
<circle cx="138.46" cy="225.61" r="1.5" fill="#2c4d86"/>
<circle cx="140.54" cy="228.61" r="1.5" fill="#2c4d86"/>
<circle cx="143.65" cy="238.08" r="1.5" fill="#2c4d86"/>
<circle cx="150.58" cy="244.42" r="1.5" fill="#2c4d86"/>
<circle cx="152.54" cy="253.65" r="1.5" fill="#2c4d86"/>
<circle cx="154.04" cy="256.77" r="1.5" fill="#2c4d86"/>
<circle cx="162.69" cy="259.77" r="1.5" fill="#2c4d86"/>
<circle cx="167.54" cy="263.23" r="1.5" fill="#2c4d86"/>
<circle cx="171.34" cy="269.23" r="1.5" fill="#2c4d86"/>
<circle cx="128.31" cy="210.61" r="1.5" fill="#a8052d"/>
<circle cx="130.15" cy="214.08" r="1.5" fill="#a8052d"/>
<circle cx="140.19" cy="230.92" r="1.5" fill="#a8052d"/>
<circle cx="142.15" cy="234.61" r="1.5" fill="#a8052d"/>
<circle cx="143.65" cy="252.15" r="1.5" fill="#a8052d"/>
<circle cx="148.85" cy="255.38" r="1.5" fill="#a8052d"/>
<circle cx="152.31" cy="258.84" r="1.5" fill="#a8052d"/>
<circle cx="154.04" cy="262.31" r="1.5" fill="#a8052d"/>
<circle cx="178.27" cy="269.23" r="1.5" fill="#a8052d"/>
<text x="216.2" y="155.2" font-size="11" font-weight="bold" fill="#000">G</text>
<line x1="240.4" y1="208.5" x2="240.4" y2="269.75" stroke="#111" stroke-width="1.1"/>
<line x1="237.4" y1="211.04" x2="240.4" y2="211.04" stroke="#111" stroke-width="1.1"/>
<text x="234.3" y="214.5" font-size="9.66" text-anchor="end" stroke="#222" stroke-width="0.18" textLength="4.67" lengthAdjust="spacingAndGlyphs">8</text>
<line x1="237.4" y1="225.58" x2="240.4" y2="225.58" stroke="#111" stroke-width="1.1"/>
<text x="234.3" y="229.04" font-size="9.66" text-anchor="end" stroke="#222" stroke-width="0.18" textLength="4.67" lengthAdjust="spacingAndGlyphs">6</text>
<line x1="237.4" y1="240.12" x2="240.4" y2="240.12" stroke="#111" stroke-width="1.1"/>
<text x="234.3" y="243.58" font-size="9.66" text-anchor="end" stroke="#222" stroke-width="0.18" textLength="4.67" lengthAdjust="spacingAndGlyphs">4</text>
<line x1="237.4" y1="254.66" x2="240.4" y2="254.66" stroke="#111" stroke-width="1.1"/>
<text x="234.3" y="258.12" font-size="9.66" text-anchor="end" stroke="#222" stroke-width="0.18" textLength="4.67" lengthAdjust="spacingAndGlyphs">2</text>
<line x1="237.4" y1="269.2" x2="240.4" y2="269.2" stroke="#111" stroke-width="1.1"/>
<text x="234.3" y="272.66" font-size="9.66" text-anchor="end" stroke="#222" stroke-width="0.18" textLength="4.67" lengthAdjust="spacingAndGlyphs">0</text>
<line x1="239.85" y1="269.2" x2="328.8" y2="269.2" stroke="#111" stroke-width="1.1"/>
<line x1="240.2" y1="269.2" x2="240.2" y2="272.2" stroke="#111" stroke-width="1.1"/>
<text x="240.2" y="282.46" font-size="9.66" text-anchor="middle" stroke="#222" stroke-width="0.18" textLength="4.67" lengthAdjust="spacingAndGlyphs">0</text>
<line x1="257.7" y1="269.2" x2="257.7" y2="272.2" stroke="#111" stroke-width="1.1"/>
<text x="257.7" y="282.46" font-size="9.66" text-anchor="middle" stroke="#222" stroke-width="0.18" textLength="9.35" lengthAdjust="spacingAndGlyphs">10</text>
<line x1="275.2" y1="269.2" x2="275.2" y2="272.2" stroke="#111" stroke-width="1.1"/>
<text x="275.2" y="282.46" font-size="9.66" text-anchor="middle" stroke="#222" stroke-width="0.18" textLength="9.35" lengthAdjust="spacingAndGlyphs">20</text>
<line x1="292.7" y1="269.2" x2="292.7" y2="272.2" stroke="#111" stroke-width="1.1"/>
<text x="292.7" y="282.46" font-size="9.66" text-anchor="middle" stroke="#222" stroke-width="0.18" textLength="9.35" lengthAdjust="spacingAndGlyphs">30</text>
<line x1="310.2" y1="269.2" x2="310.2" y2="272.2" stroke="#111" stroke-width="1.1"/>
<text x="310.2" y="282.46" font-size="9.66" text-anchor="middle" stroke="#222" stroke-width="0.18" textLength="9.35" lengthAdjust="spacingAndGlyphs">40</text>
<line x1="327.7" y1="269.2" x2="327.7" y2="272.2" stroke="#111" stroke-width="1.1"/>
<text x="327.7" y="282.46" font-size="9.66" text-anchor="middle" stroke="#222" stroke-width="0.18" textLength="9.35" lengthAdjust="spacingAndGlyphs">50</text>
<text x="224.5" y="239.3" font-size="8.8" text-anchor="middle" stroke="#222" stroke-width="0.18" textLength="42" lengthAdjust="spacingAndGlyphs" transform="rotate(-90 224.5 239.3)">Clinical score</text>
<text x="285.5" y="295.2" font-size="8.6" text-anchor="middle" stroke="#222" stroke-width="0.18" textLength="64.5" lengthAdjust="spacingAndGlyphs">Day post-transplant</text>
<line x1="240.8" y1="225.7" x2="327" y2="225.7" stroke="#a8a8a8" stroke-width="1" stroke-dasharray="1.6,0.8"/>
<line x1="264.61" y1="234.54" x2="264.61" y2="238.6" stroke="#2c4d86" stroke-width="0.8"/>
<line x1="263.41" y1="234.54" x2="265.81" y2="234.54" stroke="#2c4d86" stroke-width="0.8"/>
<line x1="263.41" y1="238.6" x2="265.81" y2="238.6" stroke="#2c4d86" stroke-width="0.8"/>
<line x1="276.61" y1="230.48" x2="276.61" y2="235.46" stroke="#2c4d86" stroke-width="0.8"/>
<line x1="275.41" y1="230.48" x2="277.81" y2="230.48" stroke="#2c4d86" stroke-width="0.8"/>
<line x1="275.41" y1="235.46" x2="277.81" y2="235.46" stroke="#2c4d86" stroke-width="0.8"/>
<line x1="276.61" y1="228.63" x2="276.61" y2="233.06" stroke="#a8052d" stroke-width="0.8"/>
<line x1="275.41" y1="228.63" x2="277.81" y2="228.63" stroke="#a8052d" stroke-width="0.8"/>
<line x1="275.41" y1="233.06" x2="277.81" y2="233.06" stroke="#a8052d" stroke-width="0.8"/>
<line x1="288.98" y1="227.15" x2="288.98" y2="235.46" stroke="#a8052d" stroke-width="0.8"/>
<line x1="287.78" y1="227.15" x2="290.18" y2="227.15" stroke="#a8052d" stroke-width="0.8"/>
<line x1="287.78" y1="235.46" x2="290.18" y2="235.46" stroke="#a8052d" stroke-width="0.8"/>
<line x1="288.98" y1="224.94" x2="288.98" y2="227.52" stroke="#2c4d86" stroke-width="0.8"/>
<line x1="287.78" y1="224.94" x2="290.18" y2="224.94" stroke="#2c4d86" stroke-width="0.8"/>
<line x1="287.78" y1="227.52" x2="290.18" y2="227.52" stroke="#2c4d86" stroke-width="0.8"/>
<line x1="300.98" y1="222.54" x2="300.98" y2="225.31" stroke="#2c4d86" stroke-width="0.8"/>
<line x1="299.78" y1="222.54" x2="302.18" y2="222.54" stroke="#2c4d86" stroke-width="0.8"/>
<line x1="299.78" y1="225.31" x2="302.18" y2="225.31" stroke="#2c4d86" stroke-width="0.8"/>
<line x1="300.98" y1="229.92" x2="300.98" y2="232.69" stroke="#a8052d" stroke-width="0.8"/>
<line x1="299.78" y1="229.92" x2="302.18" y2="229.92" stroke="#a8052d" stroke-width="0.8"/>
<line x1="299.78" y1="232.69" x2="302.18" y2="232.69" stroke="#a8052d" stroke-width="0.8"/>
<line x1="313.16" y1="221.98" x2="313.16" y2="224.94" stroke="#a8052d" stroke-width="0.8"/>
<line x1="311.96" y1="221.98" x2="314.36" y2="221.98" stroke="#a8052d" stroke-width="0.8"/>
<line x1="311.96" y1="224.94" x2="314.36" y2="224.94" stroke="#a8052d" stroke-width="0.8"/>
<polyline points="240.25,269.24 252.25,263.7 264.61,265.55 276.61,264.63 288.98,265.55 300.98,265.55 313.16,269.24" fill="none" stroke="#2c4d86" stroke-width="1" stroke-linejoin="round" stroke-dasharray="3,1.8"/>
<polyline points="240.25,269.24 252.25,265 264.61,268.13 276.61,268.69 288.98,268.32 300.98,268.13 313.16,267.4" fill="none" stroke="#a8052d" stroke-width="1" stroke-linejoin="round" stroke-dasharray="3,1.8"/>
<rect x="238.9" y="267.89" width="2.7" height="2.7" fill="#2c4d86"/>
<rect x="250.9" y="262.35" width="2.7" height="2.7" fill="#2c4d86"/>
<rect x="263.26" y="264.2" width="2.7" height="2.7" fill="#2c4d86"/>
<rect x="275.26" y="263.28" width="2.7" height="2.7" fill="#2c4d86"/>
<rect x="287.63" y="264.2" width="2.7" height="2.7" fill="#2c4d86"/>
<rect x="299.63" y="264.2" width="2.7" height="2.7" fill="#2c4d86"/>
<rect x="311.81" y="267.89" width="2.7" height="2.7" fill="#2c4d86"/>
<rect x="238.9" y="267.89" width="2.7" height="2.7" fill="#a8052d"/>
<rect x="250.9" y="263.65" width="2.7" height="2.7" fill="#a8052d"/>
<rect x="263.26" y="266.78" width="2.7" height="2.7" fill="#a8052d"/>
<rect x="275.26" y="267.34" width="2.7" height="2.7" fill="#a8052d"/>
<rect x="287.63" y="266.97" width="2.7" height="2.7" fill="#a8052d"/>
<rect x="299.63" y="266.78" width="2.7" height="2.7" fill="#a8052d"/>
<rect x="311.81" y="266.05" width="2.7" height="2.7" fill="#a8052d"/>
<polyline points="240.25,269.24 252.25,240.44 264.61,236.38 276.61,232.69 288.98,226.23 300.98,223.83" fill="none" stroke="#2c4d86" stroke-width="1.1" stroke-linejoin="round"/>
<polyline points="240.25,269.24 252.25,237.31 264.61,238.23 276.61,230.84 288.98,229.92 300.98,231.21 313.16,223.46" fill="none" stroke="#a8052d" stroke-width="1.1" stroke-linejoin="round"/>
<circle cx="240.25" cy="269.24" r="1.4" fill="#2c4d86"/>
<circle cx="252.25" cy="240.44" r="1.4" fill="#2c4d86"/>
<circle cx="264.61" cy="236.38" r="1.4" fill="#2c4d86"/>
<circle cx="276.61" cy="232.69" r="1.4" fill="#2c4d86"/>
<circle cx="288.98" cy="226.23" r="1.4" fill="#2c4d86"/>
<circle cx="300.98" cy="223.83" r="1.4" fill="#2c4d86"/>
<circle cx="240.25" cy="269.24" r="1.4" fill="#a8052d"/>
<circle cx="252.25" cy="237.31" r="1.4" fill="#a8052d"/>
<circle cx="264.61" cy="238.23" r="1.4" fill="#a8052d"/>
<circle cx="276.61" cy="230.84" r="1.4" fill="#a8052d"/>
<circle cx="288.98" cy="229.92" r="1.4" fill="#a8052d"/>
<circle cx="300.98" cy="231.21" r="1.4" fill="#a8052d"/>
<circle cx="313.16" cy="223.46" r="1.4" fill="#a8052d"/>
<text x="336.2" y="155.2" font-size="11" font-weight="bold" fill="#000">H</text>
<line x1="369.3" y1="208.7" x2="369.3" y2="269.55" stroke="#111" stroke-width="1.1"/>
<line x1="366.3" y1="210.75" x2="369.3" y2="210.75" stroke="#111" stroke-width="1.1"/>
<text x="363.5" y="213.92" font-size="8.85" text-anchor="end" stroke="#222" stroke-width="0.18" textLength="12.28" lengthAdjust="spacingAndGlyphs">110</text>
<line x1="366.3" y1="222.4" x2="369.3" y2="222.4" stroke="#111" stroke-width="1.1"/>
<text x="363.5" y="225.57" font-size="8.85" text-anchor="end" stroke="#222" stroke-width="0.18" textLength="12.85" lengthAdjust="spacingAndGlyphs">100</text>
<line x1="366.3" y1="234.05" x2="369.3" y2="234.05" stroke="#111" stroke-width="1.1"/>
<text x="363.5" y="237.22" font-size="8.85" text-anchor="end" stroke="#222" stroke-width="0.18" textLength="8.57" lengthAdjust="spacingAndGlyphs">90</text>
<line x1="366.3" y1="245.7" x2="369.3" y2="245.7" stroke="#111" stroke-width="1.1"/>
<text x="363.5" y="248.87" font-size="8.85" text-anchor="end" stroke="#222" stroke-width="0.18" textLength="8.57" lengthAdjust="spacingAndGlyphs">80</text>
<line x1="366.3" y1="257.35" x2="369.3" y2="257.35" stroke="#111" stroke-width="1.1"/>
<text x="363.5" y="260.52" font-size="8.85" text-anchor="end" stroke="#222" stroke-width="0.18" textLength="8.57" lengthAdjust="spacingAndGlyphs">70</text>
<line x1="366.3" y1="269" x2="369.3" y2="269" stroke="#111" stroke-width="1.1"/>
<text x="363.5" y="272.17" font-size="8.85" text-anchor="end" stroke="#222" stroke-width="0.18" textLength="8.57" lengthAdjust="spacingAndGlyphs">60</text>
<line x1="368.75" y1="269" x2="457.5" y2="269" stroke="#111" stroke-width="1.1"/>
<line x1="369.2" y1="269" x2="369.2" y2="272" stroke="#111" stroke-width="1.1"/>
<text x="369.2" y="282.09" font-size="9.2" text-anchor="middle" stroke="#222" stroke-width="0.18" textLength="4.45" lengthAdjust="spacingAndGlyphs">0</text>
<line x1="386.5" y1="269" x2="386.5" y2="272" stroke="#111" stroke-width="1.1"/>
<text x="386.5" y="282.09" font-size="9.2" text-anchor="middle" stroke="#222" stroke-width="0.18" textLength="8.9" lengthAdjust="spacingAndGlyphs">10</text>
<line x1="403.8" y1="269" x2="403.8" y2="272" stroke="#111" stroke-width="1.1"/>
<text x="403.8" y="282.09" font-size="9.2" text-anchor="middle" stroke="#222" stroke-width="0.18" textLength="8.9" lengthAdjust="spacingAndGlyphs">20</text>
<line x1="421.1" y1="269" x2="421.1" y2="272" stroke="#111" stroke-width="1.1"/>
<text x="421.1" y="282.09" font-size="9.2" text-anchor="middle" stroke="#222" stroke-width="0.18" textLength="8.9" lengthAdjust="spacingAndGlyphs">30</text>
<line x1="438.4" y1="269" x2="438.4" y2="272" stroke="#111" stroke-width="1.1"/>
<text x="438.4" y="282.09" font-size="9.2" text-anchor="middle" stroke="#222" stroke-width="0.18" textLength="8.9" lengthAdjust="spacingAndGlyphs">40</text>
<line x1="455.7" y1="269" x2="455.7" y2="272" stroke="#111" stroke-width="1.1"/>
<text x="455.7" y="282.09" font-size="9.2" text-anchor="middle" stroke="#222" stroke-width="0.18" textLength="8.9" lengthAdjust="spacingAndGlyphs">50</text>
<text x="345.5" y="239.3" font-size="8.8" text-anchor="middle" stroke="#222" stroke-width="0.18" textLength="51.5" lengthAdjust="spacingAndGlyphs" transform="rotate(-90 345.5 239.3)">Weight loss (%)</text>
<text x="413.5" y="295.2" font-size="8.6" text-anchor="middle" stroke="#222" stroke-width="0.18" textLength="64.5" lengthAdjust="spacingAndGlyphs">Day post-transplant</text>
<line x1="406.09" y1="223.46" x2="406.09" y2="229" stroke="#a8052d" stroke-width="0.8"/>
<line x1="404.89" y1="223.46" x2="407.29" y2="223.46" stroke="#a8052d" stroke-width="0.8"/>
<line x1="404.89" y1="229" x2="407.29" y2="229" stroke="#a8052d" stroke-width="0.8"/>
<line x1="442.46" y1="220.69" x2="442.46" y2="226.23" stroke="#a8052d" stroke-width="0.8"/>
<line x1="441.26" y1="220.69" x2="443.66" y2="220.69" stroke="#a8052d" stroke-width="0.8"/>
<line x1="441.26" y1="226.23" x2="443.66" y2="226.23" stroke="#a8052d" stroke-width="0.8"/>
<line x1="393.54" y1="230.84" x2="393.54" y2="235.46" stroke="#a8052d" stroke-width="0.8"/>
<line x1="392.34" y1="230.84" x2="394.74" y2="230.84" stroke="#a8052d" stroke-width="0.8"/>
<line x1="392.34" y1="235.46" x2="394.74" y2="235.46" stroke="#a8052d" stroke-width="0.8"/>
<line x1="430.09" y1="226.23" x2="430.09" y2="230.84" stroke="#a8052d" stroke-width="0.8"/>
<line x1="428.89" y1="226.23" x2="431.29" y2="226.23" stroke="#a8052d" stroke-width="0.8"/>
<line x1="428.89" y1="230.84" x2="431.29" y2="230.84" stroke="#a8052d" stroke-width="0.8"/>
<line x1="417.9" y1="229.37" x2="417.9" y2="234.17" stroke="#a8052d" stroke-width="0.8"/>
<line x1="416.7" y1="229.37" x2="419.1" y2="229.37" stroke="#a8052d" stroke-width="0.8"/>
<line x1="416.7" y1="234.17" x2="419.1" y2="234.17" stroke="#a8052d" stroke-width="0.8"/>
<line x1="406.09" y1="253.37" x2="406.09" y2="260.38" stroke="#a8052d" stroke-width="0.8"/>
<line x1="404.89" y1="253.37" x2="407.29" y2="253.37" stroke="#a8052d" stroke-width="0.8"/>
<line x1="404.89" y1="260.38" x2="407.29" y2="260.38" stroke="#a8052d" stroke-width="0.8"/>
<line x1="430.09" y1="247.09" x2="430.09" y2="257.61" stroke="#a8052d" stroke-width="0.8"/>
<line x1="428.89" y1="247.09" x2="431.29" y2="247.09" stroke="#a8052d" stroke-width="0.8"/>
<line x1="428.89" y1="257.61" x2="431.29" y2="257.61" stroke="#a8052d" stroke-width="0.8"/>
<line x1="442.46" y1="247.83" x2="442.46" y2="255.21" stroke="#a8052d" stroke-width="0.8"/>
<line x1="441.26" y1="247.83" x2="443.66" y2="247.83" stroke="#a8052d" stroke-width="0.8"/>
<line x1="441.26" y1="255.21" x2="443.66" y2="255.21" stroke="#a8052d" stroke-width="0.8"/>
<line x1="417.9" y1="250.23" x2="417.9" y2="255.77" stroke="#a8052d" stroke-width="0.8"/>
<line x1="416.7" y1="250.23" x2="419.1" y2="250.23" stroke="#a8052d" stroke-width="0.8"/>
<line x1="416.7" y1="255.77" x2="419.1" y2="255.77" stroke="#a8052d" stroke-width="0.8"/>
<line x1="393.54" y1="241.92" x2="393.54" y2="247.46" stroke="#2c4d86" stroke-width="0.8"/>
<line x1="392.34" y1="241.92" x2="394.74" y2="241.92" stroke="#2c4d86" stroke-width="0.8"/>
<line x1="392.34" y1="247.46" x2="394.74" y2="247.46" stroke="#2c4d86" stroke-width="0.8"/>
<line x1="406.09" y1="248.38" x2="406.09" y2="253.92" stroke="#2c4d86" stroke-width="0.8"/>
<line x1="404.89" y1="248.38" x2="407.29" y2="248.38" stroke="#2c4d86" stroke-width="0.8"/>
<line x1="404.89" y1="253.92" x2="407.29" y2="253.92" stroke="#2c4d86" stroke-width="0.8"/>
<line x1="417.9" y1="253.37" x2="417.9" y2="258.54" stroke="#2c4d86" stroke-width="0.8"/>
<line x1="416.7" y1="253.37" x2="419.1" y2="253.37" stroke="#2c4d86" stroke-width="0.8"/>
<line x1="416.7" y1="258.54" x2="419.1" y2="258.54" stroke="#2c4d86" stroke-width="0.8"/>
<line x1="381.54" y1="237.31" x2="381.54" y2="241" stroke="#a8052d" stroke-width="0.8"/>
<line x1="380.34" y1="237.31" x2="382.74" y2="237.31" stroke="#a8052d" stroke-width="0.8"/>
<line x1="380.34" y1="241" x2="382.74" y2="241" stroke="#a8052d" stroke-width="0.8"/>
<polyline points="369.54,222.91 381.54,240.07 393.54,235.46 406.09,233.61 417.9,233.61 430.09,229.37 442.46,223.46" fill="none" stroke="#2c4d86" stroke-width="1" stroke-linejoin="round" stroke-dasharray="3,1.8"/>
<polyline points="369.54,222.91 381.54,238.23 393.54,233.61 406.09,226.78 417.9,231.77 430.09,228.63 442.46,223.09" fill="none" stroke="#a8052d" stroke-width="1" stroke-linejoin="round" stroke-dasharray="3,1.8"/>
<rect x="368.19" y="221.56" width="2.7" height="2.7" fill="#2c4d86"/>
<rect x="380.19" y="238.72" width="2.7" height="2.7" fill="#2c4d86"/>
<rect x="392.19" y="234.11" width="2.7" height="2.7" fill="#2c4d86"/>
<rect x="404.74" y="232.26" width="2.7" height="2.7" fill="#2c4d86"/>
<rect x="416.55" y="232.26" width="2.7" height="2.7" fill="#2c4d86"/>
<rect x="428.74" y="228.02" width="2.7" height="2.7" fill="#2c4d86"/>
<rect x="441.11" y="222.11" width="2.7" height="2.7" fill="#2c4d86"/>
<rect x="368.14" y="221.51" width="2.8" height="2.8" fill="#a8052d"/>
<rect x="380.14" y="236.83" width="2.8" height="2.8" fill="#a8052d"/>
<rect x="392.14" y="232.21" width="2.8" height="2.8" fill="#a8052d"/>
<rect x="404.69" y="225.38" width="2.8" height="2.8" fill="#a8052d"/>
<rect x="416.5" y="230.37" width="2.8" height="2.8" fill="#a8052d"/>
<rect x="428.69" y="227.23" width="2.8" height="2.8" fill="#a8052d"/>
<rect x="441.06" y="221.69" width="2.8" height="2.8" fill="#a8052d"/>
<polyline points="369.54,222.91 381.54,247.09 393.54,244.69 406.09,251.15 417.9,255.77 430.09,264.07" fill="none" stroke="#2c4d86" stroke-width="1.1" stroke-linejoin="round"/>
<polyline points="369.54,222.91 381.54,251.15 393.54,241.55 406.09,256.69 417.9,253.37 430.09,252.07 442.46,251.15" fill="none" stroke="#a8052d" stroke-width="1.1" stroke-linejoin="round"/>
<circle cx="369.54" cy="222.91" r="1.4" fill="#2c4d86"/>
<circle cx="381.54" cy="247.09" r="1.4" fill="#2c4d86"/>
<circle cx="393.54" cy="244.69" r="1.4" fill="#2c4d86"/>
<circle cx="406.09" cy="251.15" r="1.4" fill="#2c4d86"/>
<circle cx="417.9" cy="255.77" r="1.4" fill="#2c4d86"/>
<circle cx="430.09" cy="264.07" r="1.4" fill="#2c4d86"/>
<circle cx="369.54" cy="222.91" r="1.4" fill="#a8052d"/>
<circle cx="381.54" cy="251.15" r="1.4" fill="#a8052d"/>
<circle cx="393.54" cy="241.55" r="1.4" fill="#a8052d"/>
<circle cx="406.09" cy="256.69" r="1.4" fill="#a8052d"/>
<circle cx="417.9" cy="253.37" r="1.4" fill="#a8052d"/>
<circle cx="430.09" cy="252.07" r="1.4" fill="#a8052d"/>
<circle cx="442.46" cy="251.15" r="1.4" fill="#a8052d"/>
<line x1="373.4" y1="169" x2="386.7" y2="169" stroke="#a8052d" stroke-width="1" stroke-dasharray="2.6,1.9"/>
<rect x="378.9" y="167.9" width="2.2" height="2.2" fill="#a8052d"/>
<text x="389.5" y="171.7" font-size="7.6" stroke="#222" stroke-width="0.18" textLength="46.8" lengthAdjust="spacingAndGlyphs">B6D2F1 TCD</text>
<line x1="373.4" y1="180.8" x2="386.7" y2="180.8" stroke="#2c4d86" stroke-width="1" stroke-dasharray="2.6,1.9"/>
<rect x="378.9" y="179.7" width="2.2" height="2.2" fill="#2c4d86"/>
<text x="389.5" y="183.5" font-size="7.6" stroke="#222" stroke-width="0.18" textLength="63" lengthAdjust="spacingAndGlyphs">sgp130Fc.F1 TCD</text>
<line x1="373.4" y1="192.7" x2="386.7" y2="192.7" stroke="#a8052d" stroke-width="1"/>
<circle cx="380" cy="192.7" r="1.2" fill="#a8052d"/>
<text x="389.5" y="195.4" font-size="7.6" stroke="#222" stroke-width="0.18" textLength="28.5" lengthAdjust="spacingAndGlyphs">B6D2F1</text>
<line x1="373.4" y1="204.6" x2="386.7" y2="204.6" stroke="#2c4d86" stroke-width="1"/>
<circle cx="380" cy="204.6" r="1.2" fill="#2c4d86"/>
<text x="389.5" y="207.3" font-size="7.6" stroke="#222" stroke-width="0.18" textLength="45.5" lengthAdjust="spacingAndGlyphs">sgp130Fc.F1</text>
<text x="465.5" y="155.2" font-size="11" font-weight="bold" fill="#000">I</text>
<line x1="489.6" y1="209.3" x2="489.6" y2="269.95" stroke="#111" stroke-width="1.1"/>
<line x1="486.6" y1="211.88" x2="489.6" y2="211.88" stroke="#111" stroke-width="1.1"/>
<text x="483.8" y="215.26" font-size="9.43" text-anchor="end" stroke="#222" stroke-width="0.18" textLength="4.56" lengthAdjust="spacingAndGlyphs">8</text>
<line x1="486.6" y1="226.26" x2="489.6" y2="226.26" stroke="#111" stroke-width="1.1"/>
<text x="483.8" y="229.64" font-size="9.43" text-anchor="end" stroke="#222" stroke-width="0.18" textLength="4.56" lengthAdjust="spacingAndGlyphs">6</text>
<line x1="486.6" y1="240.64" x2="489.6" y2="240.64" stroke="#111" stroke-width="1.1"/>
<text x="483.8" y="244.02" font-size="9.43" text-anchor="end" stroke="#222" stroke-width="0.18" textLength="4.56" lengthAdjust="spacingAndGlyphs">4</text>
<line x1="486.6" y1="255.02" x2="489.6" y2="255.02" stroke="#111" stroke-width="1.1"/>
<text x="483.8" y="258.4" font-size="9.43" text-anchor="end" stroke="#222" stroke-width="0.18" textLength="4.56" lengthAdjust="spacingAndGlyphs">2</text>
<line x1="486.6" y1="269.4" x2="489.6" y2="269.4" stroke="#111" stroke-width="1.1"/>
<text x="483.8" y="272.78" font-size="9.43" text-anchor="end" stroke="#222" stroke-width="0.18" textLength="4.56" lengthAdjust="spacingAndGlyphs">0</text>
<line x1="489.05" y1="269.4" x2="512.4" y2="269.4" stroke="#111" stroke-width="1.1"/>
<line x1="495.8" y1="269.4" x2="495.8" y2="272.4" stroke="#111" stroke-width="1.1"/>
<line x1="506" y1="269.4" x2="506" y2="272.4" stroke="#111" stroke-width="1.1"/>
<rect x="492" y="224" width="7.5" height="45.4" fill="#a8052d"/>
<rect x="502.3" y="218.1" width="7.4" height="51.3" fill="#2c4d86"/>
<line x1="495.8" y1="220.3" x2="495.8" y2="224" stroke="#222" stroke-width="0.9"/>
<line x1="494" y1="220.3" x2="497.6" y2="220.3" stroke="#222" stroke-width="0.9"/>
<line x1="494" y1="224" x2="497.6" y2="224" stroke="#222" stroke-width="0.9"/>
<line x1="506" y1="215.4" x2="506" y2="218.1" stroke="#222" stroke-width="0.9"/>
<line x1="504.2" y1="215.4" x2="507.8" y2="215.4" stroke="#222" stroke-width="0.9"/>
<line x1="504.2" y1="218.1" x2="507.8" y2="218.1" stroke="#222" stroke-width="0.9"/>
<text x="472.7" y="239" font-size="8.8" text-anchor="middle" stroke="#222" stroke-width="0.18" textLength="59.5" lengthAdjust="spacingAndGlyphs" transform="rotate(-90 472.7 239)">SI pathology score</text>
<text x="499.8" y="279.5" font-size="8.36" text-anchor="end" stroke="#222" stroke-width="0.18" textLength="29.14" lengthAdjust="spacingAndGlyphs" transform="rotate(-45 499.8 279.5)">B6D2F1</text>
<text x="510" y="279.5" font-size="8.36" text-anchor="end" stroke="#222" stroke-width="0.18" textLength="46.35" lengthAdjust="spacingAndGlyphs" transform="rotate(-45 510 279.5)">sgp130Fc.F1</text>
<text x="6.9" y="336.3" font-size="11" font-weight="bold" fill="#000">J</text>
<circle cx="21.6" cy="361.3" r="1.3" fill="#b8720f"/>
<text x="26" y="364.3" font-size="9.2" stroke="#222" stroke-width="0.18" textLength="45.8" lengthAdjust="spacingAndGlyphs">Naive B6.WT</text>
<circle cx="21.6" cy="372.4" r="1.3" fill="#3f7f2a"/>
<text x="26" y="375.4" font-size="9.2" stroke="#222" stroke-width="0.18" textLength="57.3" lengthAdjust="spacingAndGlyphs">Naive sgp130Fc</text>
<line x1="35.1" y1="382.3" x2="35.1" y2="453.45" stroke="#111" stroke-width="1.1"/>
<line x1="32.1" y1="384.35" x2="35.1" y2="384.35" stroke="#111" stroke-width="1.1"/>
<text x="29.5" y="387.81" font-size="9.66" text-anchor="end" stroke="#222" stroke-width="0.18" textLength="9.35" lengthAdjust="spacingAndGlyphs">30</text>
<line x1="32.1" y1="407.2" x2="35.1" y2="407.2" stroke="#111" stroke-width="1.1"/>
<text x="29.5" y="410.66" font-size="9.66" text-anchor="end" stroke="#222" stroke-width="0.18" textLength="9.35" lengthAdjust="spacingAndGlyphs">20</text>
<line x1="32.1" y1="430.05" x2="35.1" y2="430.05" stroke="#111" stroke-width="1.1"/>
<text x="29.5" y="433.51" font-size="9.66" text-anchor="end" stroke="#222" stroke-width="0.18" textLength="9.35" lengthAdjust="spacingAndGlyphs">10</text>
<line x1="32.1" y1="452.9" x2="35.1" y2="452.9" stroke="#111" stroke-width="1.1"/>
<text x="29.5" y="456.36" font-size="9.66" text-anchor="end" stroke="#222" stroke-width="0.18" textLength="4.67" lengthAdjust="spacingAndGlyphs">0</text>
<line x1="34.6" y1="452.9" x2="57.7" y2="452.9" stroke="#111" stroke-width="1.1"/>
<line x1="41.4" y1="452.9" x2="41.4" y2="455.6" stroke="#111" stroke-width="1"/>
<line x1="51.6" y1="452.9" x2="51.6" y2="455.6" stroke="#111" stroke-width="1"/>
<rect x="47.7" y="416.1" width="7.8" height="36.8" fill="none" stroke="#333" stroke-width="0.8"/>
<line x1="51.6" y1="411.6" x2="51.6" y2="416.1" stroke="#333" stroke-width="0.8"/>
<line x1="49.8" y1="411.6" x2="53.4" y2="411.6" stroke="#333" stroke-width="0.8"/>
<line x1="49.8" y1="416.1" x2="53.4" y2="416.1" stroke="#333" stroke-width="0.8"/>
<line x1="37.8" y1="452.6" x2="45.4" y2="452.6" stroke="#e38b14" stroke-width="1.6"/>
<circle cx="39.3" cy="452.6" r="1" fill="#e38b14"/>
<circle cx="41.5" cy="452.6" r="1" fill="#e38b14"/>
<circle cx="43.7" cy="452.6" r="1" fill="#e38b14"/>
<circle cx="51.6" cy="395.5" r="1.35" fill="#2f6e1f"/>
<circle cx="51.6" cy="401.2" r="1.35" fill="#2f6e1f"/>
<circle cx="51.6" cy="405.5" r="1.35" fill="#2f6e1f"/>
<circle cx="51.6" cy="410.8" r="1.35" fill="#2f6e1f"/>
<circle cx="51.6" cy="416.9" r="1.35" fill="#2f6e1f"/>
<circle cx="48.9" cy="422.3" r="1.35" fill="#2f6e1f"/>
<circle cx="54.4" cy="422" r="1.35" fill="#2f6e1f"/>
<circle cx="51.6" cy="425" r="1.35" fill="#2f6e1f"/>
<circle cx="48.9" cy="430.8" r="1.35" fill="#2f6e1f"/>
<circle cx="54.4" cy="430.3" r="1.35" fill="#2f6e1f"/>
<path d="M43.3,385.65L43.3,388.75M41.96,386.43L44.64,387.97M44.64,386.43L41.96,387.97M46.4,385.65L46.4,388.75M45.06,386.43L47.74,387.97M47.74,386.43L45.06,387.97M49.5,385.65L49.5,388.75M48.16,386.43L50.84,387.97M50.84,386.43L48.16,387.97" stroke="#222" stroke-width="0.8" fill="none"/>
<line x1="41.8" y1="390.8" x2="51" y2="390.8" stroke="#222" stroke-width="0.9"/>
<text x="15.34" y="420" font-size="8.6" text-anchor="middle" stroke="#222" stroke-width="0.18" textLength="61" lengthAdjust="spacingAndGlyphs" transform="rotate(-90 15.34 420)">sgp130Fc (&#181;g/mL)</text>
<text x="90" y="336.4" font-size="11" font-weight="bold" fill="#000">K</text>
<path d="M104.5,352 C106,350.5 107.5,348.2 110.2,348.6 C112,348.9 113,349.5 114,350.3" fill="none" stroke="#666" stroke-width="0.9" />
<path d="M111.8,350.2 C115.22,350.2 116.93,352.45 116.93,355.6 C116.93,358.75 114.32,362.62 111.8,362.62 C109.28,362.62 106.67,358.75 106.67,355.6 C106.67,352.45 108.38,350.2 111.8,350.2 Z" fill="#ffffff" stroke="#5a5a5a" stroke-width="0.72" />
<path d="M106.31,357.22 C107.12,355.06 109.64,354.88 110.54,357.04" fill="none" stroke="#555" stroke-width="0.81" />
<path d="M117.29,357.22 C116.48,355.06 113.96,354.88 113.06,357.04" fill="none" stroke="#555" stroke-width="0.81" />
<path d="M110.18,361.36 Q111.8,362.98 113.42,361.36" fill="none" stroke="#5a5a5a" stroke-width="0.81" />
<line x1="108.56" y1="361" x2="107.59" y2="363.16" stroke="#b5b5b5" stroke-width="0.54"/>
<line x1="115.04" y1="361" x2="116.01" y2="363.16" stroke="#b5b5b5" stroke-width="0.54"/>
<text x="110.4" y="372" font-size="6.8" text-anchor="middle" fill="#3a3a3a" stroke="#3a3a3a" stroke-width="0.18" textLength="21.3" lengthAdjust="spacingAndGlyphs">Balb/c.WT</text>
<text x="158" y="349.5" font-size="6.6" text-anchor="middle" fill="#3a3a3a" stroke="#3a3a3a" stroke-width="0.18" textLength="35" lengthAdjust="spacingAndGlyphs">10 x 10<tspan dy="-2.4" font-size="3.96">6</tspan><tspan dy="2.4"> BM</tspan></text>
<text x="158.1" y="356.3" font-size="6.6" text-anchor="middle" fill="#3a3a3a" stroke="#3a3a3a" stroke-width="0.18" textLength="31.7" lengthAdjust="spacingAndGlyphs">+ 5 x 10<tspan dy="-2.4" font-size="3.96">6</tspan><tspan dy="2.4"> T</tspan></text>
<line x1="133.5" y1="361.8" x2="152.2" y2="361.8" stroke="#111" stroke-width="1.2"/>
<line x1="163.2" y1="361.8" x2="177" y2="361.8" stroke="#111" stroke-width="1.2"/>
<path d="M181.2,361.8 L175.6,359.2 L175.6,364.4 Z" fill="#111" stroke="none" stroke-width="1" />
<text x="157.8" y="362.7" font-size="6.2" text-anchor="middle" fill="#3a3a3a" stroke="#3a3a3a" stroke-width="0.18">or</text>
<line x1="154.8" y1="363.4" x2="160.8" y2="363.4" stroke="#444" stroke-width="0.5"/>
<text x="157.9" y="372" font-size="6.6" text-anchor="middle" fill="#3a3a3a" stroke="#3a3a3a" stroke-width="0.18" textLength="48.7" lengthAdjust="spacingAndGlyphs">10 x 10<tspan dy="-2.4" font-size="3.96">6</tspan><tspan dy="2.4"> TCD BM</tspan></text>
<path d="M179.8,337 L185.56,342.06 L183.83,342.83 L187,348 L181.24,343.05 L182.97,342.17 L179.8,337 Z" fill="#f1b21d" stroke="#3a3a3a" stroke-width="0.45" />
<text x="202.5" y="339.5" font-size="6.8" text-anchor="middle" fill="#3a3a3a" stroke="#3a3a3a" stroke-width="0.18" textLength="37" lengthAdjust="spacingAndGlyphs">TBI (1000cGy)</text>
<path d="M187.2,348 C190,347.5 191.5,347 194,347.4 C196,347.8 197.5,348.5 198.5,349.6" fill="none" stroke="#333" stroke-width="0.9" />
<path d="M200.1,350.7 C203.52,350.7 205.23,352.95 205.23,356.1 C205.23,359.25 202.62,363.12 200.1,363.12 C197.58,363.12 194.97,359.25 194.97,356.1 C194.97,352.95 196.68,350.7 200.1,350.7 Z" fill="#474747" stroke="#1a1a1a" stroke-width="0.72" />
<path d="M194.61,357.72 C195.42,355.56 197.94,355.38 198.84,357.54" fill="none" stroke="#111" stroke-width="1.17" />
<path d="M205.59,357.72 C204.78,355.56 202.26,355.38 201.36,357.54" fill="none" stroke="#111" stroke-width="1.17" />
<path d="M195.33,357.54 C195.96,356.46 197.49,356.37 198.12,357.54" fill="none" stroke="#9a9a9a" stroke-width="0.54" />
<path d="M204.87,357.54 C204.24,356.46 202.71,356.37 202.08,357.54" fill="none" stroke="#9a9a9a" stroke-width="0.54" />
<path d="M198.48,361.86 Q200.1,363.48 201.72,361.86" fill="none" stroke="#1a1a1a" stroke-width="0.81" />
<line x1="196.86" y1="361.5" x2="195.89" y2="363.66" stroke="#b5b5b5" stroke-width="0.54"/>
<line x1="203.34" y1="361.5" x2="204.31" y2="363.66" stroke="#b5b5b5" stroke-width="0.54"/>
<text x="199.8" y="372" font-size="6.8" text-anchor="middle" fill="#3a3a3a" stroke="#3a3a3a" stroke-width="0.18" textLength="15" lengthAdjust="spacingAndGlyphs">B6.WT</text>
<text x="200.4" y="378.7" font-size="6.8" text-anchor="middle" fill="#3a3a3a" stroke="#3a3a3a" stroke-width="0.18" textLength="21.3" lengthAdjust="spacingAndGlyphs">sgp130Fc</text>
<line x1="122.1" y1="385.3" x2="122.1" y2="454.3" stroke="#111" stroke-width="1.1"/>
<line x1="119.1" y1="391.3" x2="122.1" y2="391.3" stroke="#111" stroke-width="1.1"/>
<text x="116.3" y="394.68" font-size="9.43" text-anchor="end" stroke="#222" stroke-width="0.18" textLength="13.69" lengthAdjust="spacingAndGlyphs">100</text>
<line x1="119.1" y1="403.79" x2="122.1" y2="403.79" stroke="#111" stroke-width="1.1"/>
<text x="116.3" y="407.17" font-size="9.43" text-anchor="end" stroke="#222" stroke-width="0.18" textLength="9.13" lengthAdjust="spacingAndGlyphs">80</text>
<line x1="119.1" y1="416.28" x2="122.1" y2="416.28" stroke="#111" stroke-width="1.1"/>
<text x="116.3" y="419.66" font-size="9.43" text-anchor="end" stroke="#222" stroke-width="0.18" textLength="9.13" lengthAdjust="spacingAndGlyphs">60</text>
<line x1="119.1" y1="428.77" x2="122.1" y2="428.77" stroke="#111" stroke-width="1.1"/>
<text x="116.3" y="432.15" font-size="9.43" text-anchor="end" stroke="#222" stroke-width="0.18" textLength="9.13" lengthAdjust="spacingAndGlyphs">40</text>
<line x1="119.1" y1="441.26" x2="122.1" y2="441.26" stroke="#111" stroke-width="1.1"/>
<text x="116.3" y="444.64" font-size="9.43" text-anchor="end" stroke="#222" stroke-width="0.18" textLength="9.13" lengthAdjust="spacingAndGlyphs">20</text>
<line x1="119.1" y1="453.75" x2="122.1" y2="453.75" stroke="#111" stroke-width="1.1"/>
<text x="116.3" y="457.13" font-size="9.43" text-anchor="end" stroke="#222" stroke-width="0.18" textLength="4.56" lengthAdjust="spacingAndGlyphs">0</text>
<line x1="121.55" y1="453.75" x2="227.5" y2="453.75" stroke="#111" stroke-width="1.1"/>
<line x1="122.1" y1="453.75" x2="122.1" y2="456.75" stroke="#111" stroke-width="1.1"/>
<text x="122.1" y="466.93" font-size="9.43" text-anchor="middle" stroke="#222" stroke-width="0.18" textLength="4.56" lengthAdjust="spacingAndGlyphs">0</text>
<line x1="147.85" y1="453.75" x2="147.85" y2="456.75" stroke="#111" stroke-width="1.1"/>
<text x="147.85" y="466.93" font-size="9.43" text-anchor="middle" stroke="#222" stroke-width="0.18" textLength="9.13" lengthAdjust="spacingAndGlyphs">20</text>
<line x1="173.6" y1="453.75" x2="173.6" y2="456.75" stroke="#111" stroke-width="1.1"/>
<text x="173.6" y="466.93" font-size="9.43" text-anchor="middle" stroke="#222" stroke-width="0.18" textLength="9.13" lengthAdjust="spacingAndGlyphs">40</text>
<line x1="199.35" y1="453.75" x2="199.35" y2="456.75" stroke="#111" stroke-width="1.1"/>
<text x="199.35" y="466.93" font-size="9.43" text-anchor="middle" stroke="#222" stroke-width="0.18" textLength="9.13" lengthAdjust="spacingAndGlyphs">60</text>
<line x1="225.1" y1="453.75" x2="225.1" y2="456.75" stroke="#111" stroke-width="1.1"/>
<text x="225.1" y="466.93" font-size="9.43" text-anchor="middle" stroke="#222" stroke-width="0.18" textLength="9.13" lengthAdjust="spacingAndGlyphs">80</text>
<text x="97.3" y="419.6" font-size="8.8" text-anchor="middle" stroke="#222" stroke-width="0.18" textLength="52.2" lengthAdjust="spacingAndGlyphs" transform="rotate(-90 97.3 419.6)">Percent survival</text>
<text x="174.5" y="479.6" font-size="8.6" text-anchor="middle" stroke="#222" stroke-width="0.18" textLength="64.5" lengthAdjust="spacingAndGlyphs">Day post-transplant</text>
<line x1="122.1" y1="391.3" x2="203.6" y2="391.3" stroke="#62a843" stroke-width="1.2" stroke-dasharray="1.5,1.5"/>
<rect x="202.1" y="389.8" width="3" height="3" fill="#62a843"/>
<line x1="146.4" y1="396" x2="203.6" y2="396" stroke="#e38b14" stroke-width="1.2" stroke-dasharray="1.5,1.5"/>
<rect x="202.1" y="394.5" width="3" height="3" fill="#e38b14"/>
<polyline points="122.1,391.3 146.44,391.3 146.44,395.15 162.31,395.15 162.31,399.39 163.37,399.39 163.37,406.79 166.96,406.79 166.96,418.43 173.31,418.43 173.31,422.66 175,422.66 175,426.25 180.29,426.25 180.29,430.06 203.56,430.06" fill="none" stroke="#e38b14" stroke-width="1" stroke-linejoin="miter"/>
<polyline points="122.1,391.3 140.1,391.3 140.1,395.15 155.54,395.15 155.54,406.79 157.02,406.79 157.02,410.81 158.5,410.81 158.5,414.62 163.37,414.62 163.37,422.66 164.43,422.66 164.43,426.25 166.12,426.25 166.12,429.85 167.6,429.85 167.6,434.08 172.46,434.08 172.46,437.89 177.54,437.89 177.54,441.7 181.35,441.7 181.35,449.52 182.83,449.52 182.83,453.75" fill="none" stroke="#62a843" stroke-width="1" stroke-linejoin="miter"/>
<circle cx="146.44" cy="395.15" r="1.5" fill="#e38b14"/>
<circle cx="162.31" cy="399.39" r="1.5" fill="#e38b14"/>
<circle cx="163.37" cy="406.79" r="1.5" fill="#e38b14"/>
<circle cx="166.96" cy="418.43" r="1.5" fill="#e38b14"/>
<circle cx="173.52" cy="422.66" r="1.5" fill="#e38b14"/>
<circle cx="175" cy="426.25" r="1.5" fill="#e38b14"/>
<circle cx="180.29" cy="430.06" r="1.5" fill="#e38b14"/>
<circle cx="203.56" cy="430.06" r="1.5" fill="#e38b14"/>
<circle cx="140.1" cy="395.15" r="1.5" fill="#62a843"/>
<circle cx="155.54" cy="396.64" r="1.5" fill="#62a843"/>
<circle cx="155.54" cy="406.79" r="1.5" fill="#62a843"/>
<circle cx="157.02" cy="410.81" r="1.5" fill="#62a843"/>
<circle cx="158.5" cy="414.62" r="1.5" fill="#62a843"/>
<circle cx="163.37" cy="422.66" r="1.5" fill="#62a843"/>
<circle cx="164.85" cy="426.25" r="1.5" fill="#62a843"/>
<circle cx="166.12" cy="429.85" r="1.5" fill="#62a843"/>
<circle cx="167.6" cy="434.08" r="1.5" fill="#62a843"/>
<circle cx="172.46" cy="437.89" r="1.5" fill="#62a843"/>
<circle cx="177.54" cy="441.7" r="1.5" fill="#62a843"/>
<circle cx="181.35" cy="449.52" r="1.5" fill="#62a843"/>
<circle cx="182.83" cy="453.75" r="1.5" fill="#62a843"/>
<line x1="208.9" y1="430.5" x2="208.9" y2="451.6" stroke="#222" stroke-width="0.9"/>
<path d="M213.2,439.15L213.2,442.05M211.94,439.87L214.46,441.33M214.46,439.87L211.94,441.33" stroke="#222" stroke-width="0.75" fill="none"/>
<text x="236.2" y="336.5" font-size="11" font-weight="bold" fill="#000">L</text>
<line x1="259.6" y1="392.5" x2="259.6" y2="453.65" stroke="#111" stroke-width="1.1"/>
<line x1="256.6" y1="394.86" x2="259.6" y2="394.86" stroke="#111" stroke-width="1.1"/>
<text x="253.8" y="398.24" font-size="9.43" text-anchor="end" stroke="#222" stroke-width="0.18" textLength="4.56" lengthAdjust="spacingAndGlyphs">8</text>
<line x1="256.6" y1="409.42" x2="259.6" y2="409.42" stroke="#111" stroke-width="1.1"/>
<text x="253.8" y="412.8" font-size="9.43" text-anchor="end" stroke="#222" stroke-width="0.18" textLength="4.56" lengthAdjust="spacingAndGlyphs">6</text>
<line x1="256.6" y1="423.98" x2="259.6" y2="423.98" stroke="#111" stroke-width="1.1"/>
<text x="253.8" y="427.36" font-size="9.43" text-anchor="end" stroke="#222" stroke-width="0.18" textLength="4.56" lengthAdjust="spacingAndGlyphs">4</text>
<line x1="256.6" y1="438.54" x2="259.6" y2="438.54" stroke="#111" stroke-width="1.1"/>
<text x="253.8" y="441.92" font-size="9.43" text-anchor="end" stroke="#222" stroke-width="0.18" textLength="4.56" lengthAdjust="spacingAndGlyphs">2</text>
<line x1="256.6" y1="453.1" x2="259.6" y2="453.1" stroke="#111" stroke-width="1.1"/>
<text x="253.8" y="456.48" font-size="9.43" text-anchor="end" stroke="#222" stroke-width="0.18" textLength="4.56" lengthAdjust="spacingAndGlyphs">0</text>
<line x1="259.05" y1="453.1" x2="348.6" y2="453.1" stroke="#111" stroke-width="1.1"/>
<line x1="259.6" y1="453.1" x2="259.6" y2="456.1" stroke="#111" stroke-width="1.1"/>
<text x="259.6" y="466.28" font-size="9.43" text-anchor="middle" stroke="#222" stroke-width="0.18" textLength="4.56" lengthAdjust="spacingAndGlyphs">0</text>
<line x1="281.45" y1="453.1" x2="281.45" y2="456.1" stroke="#111" stroke-width="1.1"/>
<text x="281.45" y="466.28" font-size="9.43" text-anchor="middle" stroke="#222" stroke-width="0.18" textLength="9.13" lengthAdjust="spacingAndGlyphs">20</text>
<line x1="303.3" y1="453.1" x2="303.3" y2="456.1" stroke="#111" stroke-width="1.1"/>
<text x="303.3" y="466.28" font-size="9.43" text-anchor="middle" stroke="#222" stroke-width="0.18" textLength="9.13" lengthAdjust="spacingAndGlyphs">40</text>
<line x1="325.15" y1="453.1" x2="325.15" y2="456.1" stroke="#111" stroke-width="1.1"/>
<text x="325.15" y="466.28" font-size="9.43" text-anchor="middle" stroke="#222" stroke-width="0.18" textLength="9.13" lengthAdjust="spacingAndGlyphs">60</text>
<line x1="347" y1="453.1" x2="347" y2="456.1" stroke="#111" stroke-width="1.1"/>
<text x="347" y="466.28" font-size="9.43" text-anchor="middle" stroke="#222" stroke-width="0.18" textLength="9.13" lengthAdjust="spacingAndGlyphs">80</text>
<text x="244.2" y="423.2" font-size="8.8" text-anchor="middle" stroke="#222" stroke-width="0.18" textLength="42.5" lengthAdjust="spacingAndGlyphs" transform="rotate(-90 244.2 423.2)">Clinical score</text>
<text x="305.3" y="479.6" font-size="8.6" text-anchor="middle" stroke="#222" stroke-width="0.18" textLength="64.5" lengthAdjust="spacingAndGlyphs">Day post-transplant</text>
<line x1="260.2" y1="409.7" x2="346" y2="409.7" stroke="#a8a8a8" stroke-width="1" stroke-dasharray="1.6,0.8"/>
<line x1="312.91" y1="398.15" x2="312.91" y2="406.56" stroke="#62a843" stroke-width="0.8"/>
<line x1="311.71" y1="398.15" x2="314.11" y2="398.15" stroke="#62a843" stroke-width="0.8"/>
<line x1="311.71" y1="406.56" x2="314.11" y2="406.56" stroke="#62a843" stroke-width="0.8"/>
<line x1="297.56" y1="410.58" x2="297.56" y2="416.06" stroke="#62a843" stroke-width="0.8"/>
<line x1="296.36" y1="410.58" x2="298.76" y2="410.58" stroke="#62a843" stroke-width="0.8"/>
<line x1="296.36" y1="416.06" x2="298.76" y2="416.06" stroke="#62a843" stroke-width="0.8"/>
<line x1="290.07" y1="413.32" x2="290.07" y2="417.88" stroke="#62a843" stroke-width="0.8"/>
<line x1="288.87" y1="413.32" x2="291.27" y2="413.32" stroke="#62a843" stroke-width="0.8"/>
<line x1="288.87" y1="417.88" x2="291.27" y2="417.88" stroke="#62a843" stroke-width="0.8"/>
<line x1="282.4" y1="418.8" x2="282.4" y2="421.54" stroke="#62a843" stroke-width="0.8"/>
<line x1="281.2" y1="418.8" x2="283.6" y2="418.8" stroke="#62a843" stroke-width="0.8"/>
<line x1="281.2" y1="421.54" x2="283.6" y2="421.54" stroke="#62a843" stroke-width="0.8"/>
<line x1="297.56" y1="419.71" x2="297.56" y2="426.65" stroke="#e38b14" stroke-width="0.8"/>
<line x1="296.36" y1="419.71" x2="298.76" y2="419.71" stroke="#e38b14" stroke-width="0.8"/>
<line x1="296.36" y1="426.65" x2="298.76" y2="426.65" stroke="#e38b14" stroke-width="0.8"/>
<line x1="305.24" y1="419.71" x2="305.24" y2="427.38" stroke="#e38b14" stroke-width="0.8"/>
<line x1="304.04" y1="419.71" x2="306.44" y2="419.71" stroke="#e38b14" stroke-width="0.8"/>
<line x1="304.04" y1="427.38" x2="306.44" y2="427.38" stroke="#e38b14" stroke-width="0.8"/>
<line x1="312.91" y1="425.56" x2="312.91" y2="434.69" stroke="#e38b14" stroke-width="0.8"/>
<line x1="311.71" y1="425.56" x2="314.11" y2="425.56" stroke="#e38b14" stroke-width="0.8"/>
<line x1="311.71" y1="434.69" x2="314.11" y2="434.69" stroke="#e38b14" stroke-width="0.8"/>
<line x1="320.4" y1="428.3" x2="320.4" y2="437.06" stroke="#e38b14" stroke-width="0.8"/>
<line x1="319.2" y1="428.3" x2="321.6" y2="428.3" stroke="#e38b14" stroke-width="0.8"/>
<line x1="319.2" y1="437.06" x2="321.6" y2="437.06" stroke="#e38b14" stroke-width="0.8"/>
<line x1="328.07" y1="432.86" x2="328.07" y2="440.17" stroke="#e38b14" stroke-width="0.8"/>
<line x1="326.87" y1="432.86" x2="329.27" y2="432.86" stroke="#e38b14" stroke-width="0.8"/>
<line x1="326.87" y1="440.17" x2="329.27" y2="440.17" stroke="#e38b14" stroke-width="0.8"/>
<line x1="282.4" y1="421.17" x2="282.4" y2="425.56" stroke="#e38b14" stroke-width="0.8"/>
<line x1="281.2" y1="421.17" x2="283.6" y2="421.17" stroke="#e38b14" stroke-width="0.8"/>
<line x1="281.2" y1="425.56" x2="283.6" y2="425.56" stroke="#e38b14" stroke-width="0.8"/>
<line x1="290.07" y1="446.2" x2="290.07" y2="452.23" stroke="#e38b14" stroke-width="0.8"/>
<line x1="288.87" y1="446.2" x2="291.27" y2="446.2" stroke="#e38b14" stroke-width="0.8"/>
<line x1="288.87" y1="452.23" x2="291.27" y2="452.23" stroke="#e38b14" stroke-width="0.8"/>
<line x1="282.4" y1="448.03" x2="282.4" y2="450.77" stroke="#e38b14" stroke-width="0.8"/>
<line x1="281.2" y1="448.03" x2="283.6" y2="448.03" stroke="#e38b14" stroke-width="0.8"/>
<line x1="281.2" y1="450.77" x2="283.6" y2="450.77" stroke="#e38b14" stroke-width="0.8"/>
<line x1="267.24" y1="446.75" x2="267.24" y2="449.3" stroke="#62a843" stroke-width="0.8"/>
<line x1="266.04" y1="446.75" x2="268.44" y2="446.75" stroke="#62a843" stroke-width="0.8"/>
<line x1="266.04" y1="449.3" x2="268.44" y2="449.3" stroke="#62a843" stroke-width="0.8"/>
<polyline points="259.57,453.14 267.24,448.03 274.55,453.14 282.4,453.14 290.07,453.14" fill="none" stroke="#62a843" stroke-width="1" stroke-linejoin="round" stroke-dasharray="3,1.8"/>
<polyline points="259.57,453.14 267.24,450.4 274.55,453.14 282.4,448.94 290.07,448.94 297.56,453.14 305.24,453.14 312.91,453.14 320.4,453.14 328.07,453.14" fill="none" stroke="#e38b14" stroke-width="1" stroke-linejoin="round" stroke-dasharray="3,1.8"/>
<rect x="258.22" y="451.79" width="2.7" height="2.7" fill="#62a843"/>
<rect x="265.89" y="446.68" width="2.7" height="2.7" fill="#62a843"/>
<rect x="273.2" y="451.79" width="2.7" height="2.7" fill="#62a843"/>
<rect x="281.05" y="451.79" width="2.7" height="2.7" fill="#62a843"/>
<rect x="288.72" y="451.79" width="2.7" height="2.7" fill="#62a843"/>
<rect x="258.22" y="451.79" width="2.7" height="2.7" fill="#e38b14"/>
<rect x="265.89" y="449.05" width="2.7" height="2.7" fill="#e38b14"/>
<rect x="273.2" y="451.79" width="2.7" height="2.7" fill="#e38b14"/>
<rect x="281.05" y="447.59" width="2.7" height="2.7" fill="#e38b14"/>
<rect x="288.72" y="447.59" width="2.7" height="2.7" fill="#e38b14"/>
<rect x="296.21" y="451.79" width="2.7" height="2.7" fill="#e38b14"/>
<rect x="303.89" y="451.79" width="2.7" height="2.7" fill="#e38b14"/>
<rect x="311.56" y="451.79" width="2.7" height="2.7" fill="#e38b14"/>
<rect x="319.05" y="451.79" width="2.7" height="2.7" fill="#e38b14"/>
<rect x="326.72" y="451.79" width="2.7" height="2.7" fill="#e38b14"/>
<polyline points="259.57,453.14 267.24,437.43 274.55,424.64 282.4,420.26 290.07,415.69 297.56,413.32 305.24,413.86 312.91,402.35" fill="none" stroke="#62a843" stroke-width="1.1" stroke-linejoin="round"/>
<polyline points="259.57,453.14 267.24,434.32 274.55,426.65 282.4,423.36 290.07,426.1 297.56,423 305.24,423.36 312.91,430.31 320.4,432.5 328.07,436.52" fill="none" stroke="#e38b14" stroke-width="1.1" stroke-linejoin="round"/>
<circle cx="259.57" cy="453.14" r="1.4" fill="#62a843"/>
<circle cx="267.24" cy="437.43" r="1.4" fill="#62a843"/>
<circle cx="274.55" cy="424.64" r="1.4" fill="#62a843"/>
<circle cx="282.4" cy="420.26" r="1.4" fill="#62a843"/>
<circle cx="290.07" cy="415.69" r="1.4" fill="#62a843"/>
<circle cx="297.56" cy="413.32" r="1.4" fill="#62a843"/>
<circle cx="305.24" cy="413.86" r="1.4" fill="#62a843"/>
<circle cx="312.91" cy="402.35" r="1.4" fill="#62a843"/>
<circle cx="259.57" cy="453.14" r="1.4" fill="#e38b14"/>
<circle cx="267.24" cy="434.32" r="1.4" fill="#e38b14"/>
<circle cx="274.55" cy="426.65" r="1.4" fill="#e38b14"/>
<circle cx="282.4" cy="423.36" r="1.4" fill="#e38b14"/>
<circle cx="290.07" cy="426.1" r="1.4" fill="#e38b14"/>
<circle cx="297.56" cy="423" r="1.4" fill="#e38b14"/>
<circle cx="305.24" cy="423.36" r="1.4" fill="#e38b14"/>
<circle cx="312.91" cy="430.31" r="1.4" fill="#e38b14"/>
<circle cx="320.4" cy="432.5" r="1.4" fill="#e38b14"/>
<circle cx="328.07" cy="436.52" r="1.4" fill="#e38b14"/>
<path d="M286.6,392.05L286.6,395.15M285.26,392.83L287.94,394.38M287.94,392.83L285.26,394.38M289.7,392.05L289.7,395.15M288.36,392.83L291.04,394.38M291.04,392.83L288.36,394.38M292.8,392.05L292.8,395.15M291.46,392.83L294.14,394.38M294.14,392.83L291.46,394.38" stroke="#222" stroke-width="0.8" fill="none"/>
<path d="M311.35,392.05L311.35,395.15M310.01,392.83L312.69,394.38M312.69,392.83L310.01,394.38M314.45,392.05L314.45,395.15M313.11,392.83L315.79,394.38M315.79,392.83L313.11,394.38" stroke="#222" stroke-width="0.8" fill="none"/>
<text x="357.2" y="336.5" font-size="11" font-weight="bold" fill="#000">M</text>
<line x1="387.2" y1="382.4" x2="387.2" y2="453.95" stroke="#111" stroke-width="1.1"/>
<line x1="384.2" y1="384.7" x2="387.2" y2="384.7" stroke="#111" stroke-width="1.1"/>
<text x="381.4" y="388.08" font-size="9.43" text-anchor="end" stroke="#222" stroke-width="0.18" textLength="11.4" lengthAdjust="spacingAndGlyphs">2.0</text>
<line x1="384.2" y1="401.88" x2="387.2" y2="401.88" stroke="#111" stroke-width="1.1"/>
<text x="381.4" y="405.25" font-size="9.43" text-anchor="end" stroke="#222" stroke-width="0.18" textLength="11.4" lengthAdjust="spacingAndGlyphs">1.5</text>
<line x1="384.2" y1="419.05" x2="387.2" y2="419.05" stroke="#111" stroke-width="1.1"/>
<text x="381.4" y="422.43" font-size="9.43" text-anchor="end" stroke="#222" stroke-width="0.18" textLength="11.4" lengthAdjust="spacingAndGlyphs">1.0</text>
<line x1="384.2" y1="436.22" x2="387.2" y2="436.22" stroke="#111" stroke-width="1.1"/>
<text x="381.4" y="439.6" font-size="9.43" text-anchor="end" stroke="#222" stroke-width="0.18" textLength="11.4" lengthAdjust="spacingAndGlyphs">0.5</text>
<line x1="384.2" y1="453.4" x2="387.2" y2="453.4" stroke="#111" stroke-width="1.1"/>
<text x="381.4" y="456.78" font-size="9.43" text-anchor="end" stroke="#222" stroke-width="0.18" textLength="11.4" lengthAdjust="spacingAndGlyphs">0.0</text>
<line x1="386.65" y1="453.4" x2="492.3" y2="453.4" stroke="#111" stroke-width="1.1"/>
<line x1="387.2" y1="453.4" x2="387.2" y2="456.4" stroke="#111" stroke-width="1.1"/>
<text x="387.2" y="466.58" font-size="9.43" text-anchor="middle" stroke="#222" stroke-width="0.18" textLength="4.56" lengthAdjust="spacingAndGlyphs">0</text>
<line x1="413.1" y1="453.4" x2="413.1" y2="456.4" stroke="#111" stroke-width="1.1"/>
<text x="413.1" y="466.58" font-size="9.43" text-anchor="middle" stroke="#222" stroke-width="0.18" textLength="9.13" lengthAdjust="spacingAndGlyphs">20</text>
<line x1="439" y1="453.4" x2="439" y2="456.4" stroke="#111" stroke-width="1.1"/>
<text x="439" y="466.58" font-size="9.43" text-anchor="middle" stroke="#222" stroke-width="0.18" textLength="9.13" lengthAdjust="spacingAndGlyphs">40</text>
<line x1="464.9" y1="453.4" x2="464.9" y2="456.4" stroke="#111" stroke-width="1.1"/>
<text x="464.9" y="466.58" font-size="9.43" text-anchor="middle" stroke="#222" stroke-width="0.18" textLength="9.13" lengthAdjust="spacingAndGlyphs">60</text>
<line x1="490.8" y1="453.4" x2="490.8" y2="456.4" stroke="#111" stroke-width="1.1"/>
<text x="490.8" y="466.58" font-size="9.43" text-anchor="middle" stroke="#222" stroke-width="0.18" textLength="9.13" lengthAdjust="spacingAndGlyphs">80</text>
<text x="366.1" y="418" font-size="8.8" text-anchor="middle" stroke="#222" stroke-width="0.18" textLength="58.5" lengthAdjust="spacingAndGlyphs" transform="rotate(-90 366.1 418)">Skin clinical score</text>
<text x="439.8" y="478.6" font-size="8.6" text-anchor="middle" stroke="#222" stroke-width="0.18" textLength="64" lengthAdjust="spacingAndGlyphs">Day post-transplant</text>
<line x1="405.16" y1="446.64" x2="405.16" y2="449.81" stroke="#62a843" stroke-width="0.8"/>
<line x1="403.96" y1="446.64" x2="406.36" y2="446.64" stroke="#62a843" stroke-width="0.8"/>
<line x1="403.96" y1="449.81" x2="406.36" y2="449.81" stroke="#62a843" stroke-width="0.8"/>
<line x1="414.25" y1="421.25" x2="414.25" y2="428.66" stroke="#62a843" stroke-width="0.8"/>
<line x1="413.05" y1="421.25" x2="415.45" y2="421.25" stroke="#62a843" stroke-width="0.8"/>
<line x1="413.05" y1="428.66" x2="415.45" y2="428.66" stroke="#62a843" stroke-width="0.8"/>
<line x1="423.35" y1="409.19" x2="423.35" y2="422.31" stroke="#62a843" stroke-width="0.8"/>
<line x1="422.15" y1="409.19" x2="424.55" y2="409.19" stroke="#62a843" stroke-width="0.8"/>
<line x1="422.15" y1="422.31" x2="424.55" y2="422.31" stroke="#62a843" stroke-width="0.8"/>
<line x1="432.45" y1="404.96" x2="432.45" y2="422.31" stroke="#62a843" stroke-width="0.8"/>
<line x1="431.25" y1="404.96" x2="433.65" y2="404.96" stroke="#62a843" stroke-width="0.8"/>
<line x1="431.25" y1="422.31" x2="433.65" y2="422.31" stroke="#62a843" stroke-width="0.8"/>
<line x1="441.54" y1="418.5" x2="441.54" y2="436.7" stroke="#62a843" stroke-width="0.8"/>
<line x1="440.34" y1="418.5" x2="442.74" y2="418.5" stroke="#62a843" stroke-width="0.8"/>
<line x1="440.34" y1="436.7" x2="442.74" y2="436.7" stroke="#62a843" stroke-width="0.8"/>
<line x1="450.43" y1="419.14" x2="450.43" y2="441.35" stroke="#62a843" stroke-width="0.8"/>
<line x1="449.23" y1="419.14" x2="451.63" y2="419.14" stroke="#62a843" stroke-width="0.8"/>
<line x1="449.23" y1="441.35" x2="451.63" y2="441.35" stroke="#62a843" stroke-width="0.8"/>
<line x1="414.25" y1="431.41" x2="414.25" y2="439.23" stroke="#e38b14" stroke-width="0.8"/>
<line x1="413.05" y1="431.41" x2="415.45" y2="431.41" stroke="#e38b14" stroke-width="0.8"/>
<line x1="413.05" y1="439.23" x2="415.45" y2="439.23" stroke="#e38b14" stroke-width="0.8"/>
<line x1="423.35" y1="436.7" x2="423.35" y2="444.52" stroke="#e38b14" stroke-width="0.8"/>
<line x1="422.15" y1="436.7" x2="424.55" y2="436.7" stroke="#e38b14" stroke-width="0.8"/>
<line x1="422.15" y1="444.52" x2="424.55" y2="444.52" stroke="#e38b14" stroke-width="0.8"/>
<line x1="432.45" y1="429.71" x2="432.45" y2="439.66" stroke="#e38b14" stroke-width="0.8"/>
<line x1="431.25" y1="429.71" x2="433.65" y2="429.71" stroke="#e38b14" stroke-width="0.8"/>
<line x1="431.25" y1="439.66" x2="433.65" y2="439.66" stroke="#e38b14" stroke-width="0.8"/>
<line x1="441.54" y1="426.96" x2="441.54" y2="435.43" stroke="#e38b14" stroke-width="0.8"/>
<line x1="440.34" y1="426.96" x2="442.74" y2="426.96" stroke="#e38b14" stroke-width="0.8"/>
<line x1="440.34" y1="435.43" x2="442.74" y2="435.43" stroke="#e38b14" stroke-width="0.8"/>
<line x1="450.43" y1="438.18" x2="450.43" y2="448.12" stroke="#e38b14" stroke-width="0.8"/>
<line x1="449.23" y1="438.18" x2="451.63" y2="438.18" stroke="#e38b14" stroke-width="0.8"/>
<line x1="449.23" y1="448.12" x2="451.63" y2="448.12" stroke="#e38b14" stroke-width="0.8"/>
<line x1="459.52" y1="440.93" x2="459.52" y2="448.75" stroke="#e38b14" stroke-width="0.8"/>
<line x1="458.32" y1="440.93" x2="460.72" y2="440.93" stroke="#e38b14" stroke-width="0.8"/>
<line x1="458.32" y1="448.75" x2="460.72" y2="448.75" stroke="#e38b14" stroke-width="0.8"/>
<line x1="468.62" y1="443.89" x2="468.62" y2="450.87" stroke="#e38b14" stroke-width="0.8"/>
<line x1="467.42" y1="443.89" x2="469.82" y2="443.89" stroke="#e38b14" stroke-width="0.8"/>
<line x1="467.42" y1="450.87" x2="469.82" y2="450.87" stroke="#e38b14" stroke-width="0.8"/>
<polyline points="387.17,453.41 396.27,453.41 405.16,453.41 414.25,453.41 423.35,453.41 432.45,453.41 441.54,453.41 450.43,453.41 459.52,453.41 468.62,453.41" fill="none" stroke="#62a843" stroke-width="1" stroke-linejoin="round" stroke-dasharray="3,1.8"/>
<rect x="385.82" y="452.06" width="2.7" height="2.7" fill="#e38b14"/>
<rect x="394.92" y="452.06" width="2.7" height="2.7" fill="#e38b14"/>
<rect x="403.81" y="452.06" width="2.7" height="2.7" fill="#e38b14"/>
<rect x="412.9" y="452.06" width="2.7" height="2.7" fill="#e38b14"/>
<rect x="422" y="452.06" width="2.7" height="2.7" fill="#e38b14"/>
<rect x="431.1" y="452.06" width="2.7" height="2.7" fill="#e38b14"/>
<rect x="440.19" y="452.06" width="2.7" height="2.7" fill="#e38b14"/>
<rect x="449.08" y="452.06" width="2.7" height="2.7" fill="#e38b14"/>
<rect x="458.17" y="452.06" width="2.7" height="2.7" fill="#e38b14"/>
<rect x="467.27" y="452.06" width="2.7" height="2.7" fill="#e38b14"/>
<polyline points="387.17,453.41 396.27,453.41 405.16,448.12 414.25,424.85 423.35,415.54 432.45,413.21 441.54,427.6 450.43,430.35" fill="none" stroke="#62a843" stroke-width="1.1" stroke-linejoin="round"/>
<polyline points="387.17,453.41 396.27,453.41 405.16,453.41 414.25,435 423.35,440.72 432.45,434.58 441.54,431.2 450.43,443.04 459.52,444.73 468.62,447.7" fill="none" stroke="#e38b14" stroke-width="1.1" stroke-linejoin="round"/>
<circle cx="387.17" cy="453.41" r="1.4" fill="#62a843"/>
<circle cx="396.27" cy="453.41" r="1.4" fill="#62a843"/>
<circle cx="405.16" cy="448.12" r="1.4" fill="#62a843"/>
<circle cx="414.25" cy="424.85" r="1.4" fill="#62a843"/>
<circle cx="423.35" cy="415.54" r="1.4" fill="#62a843"/>
<circle cx="432.45" cy="413.21" r="1.4" fill="#62a843"/>
<circle cx="441.54" cy="427.6" r="1.4" fill="#62a843"/>
<circle cx="450.43" cy="430.35" r="1.4" fill="#62a843"/>
<circle cx="387.17" cy="453.41" r="1.4" fill="#e38b14"/>
<circle cx="396.27" cy="453.41" r="1.4" fill="#e38b14"/>
<circle cx="405.16" cy="453.41" r="1.4" fill="#e38b14"/>
<circle cx="414.25" cy="435" r="1.4" fill="#e38b14"/>
<circle cx="423.35" cy="440.72" r="1.4" fill="#e38b14"/>
<circle cx="432.45" cy="434.58" r="1.4" fill="#e38b14"/>
<circle cx="441.54" cy="431.2" r="1.4" fill="#e38b14"/>
<circle cx="450.43" cy="443.04" r="1.4" fill="#e38b14"/>
<circle cx="459.52" cy="444.73" r="1.4" fill="#e38b14"/>
<circle cx="468.62" cy="447.7" r="1.4" fill="#e38b14"/>
<path d="M406.2,400.65L406.2,403.75M404.86,401.43L407.54,402.97M407.54,401.43L404.86,402.97" stroke="#222" stroke-width="0.8" fill="none"/>
<path d="M420.95,400.65L420.95,403.75M419.61,401.43L422.29,402.97M422.29,401.43L419.61,402.97M424.05,400.65L424.05,403.75M422.71,401.43L425.39,402.97M425.39,401.43L422.71,402.97" stroke="#222" stroke-width="0.8" fill="none"/>
<line x1="439.8" y1="370.9" x2="453.7" y2="370.9" stroke="#e38b14" stroke-width="1" stroke-dasharray="2.6,1.9"/>
<rect x="445.35" y="369.75" width="2.3" height="2.3" fill="#e38b14"/>
<text x="456.8" y="373.5" font-size="7.4" stroke="#222" stroke-width="0.18" textLength="41.5" lengthAdjust="spacingAndGlyphs">B6.WT TCD</text>
<line x1="439.8" y1="382" x2="453.7" y2="382" stroke="#62a843" stroke-width="1" stroke-dasharray="2.6,1.9"/>
<rect x="445.35" y="380.85" width="2.3" height="2.3" fill="#62a843"/>
<text x="456.8" y="384.6" font-size="7.4" stroke="#222" stroke-width="0.18" textLength="52.3" lengthAdjust="spacingAndGlyphs">sgp130Fc TCD</text>
<line x1="439.8" y1="394" x2="453.7" y2="394" stroke="#e38b14" stroke-width="1"/>
<circle cx="446.5" cy="394" r="1.3" fill="#e38b14"/>
<text x="456.8" y="396.6" font-size="7.4" stroke="#222" stroke-width="0.18" textLength="23" lengthAdjust="spacingAndGlyphs">B6.WT</text>
<line x1="439.8" y1="405.8" x2="453.7" y2="405.8" stroke="#62a843" stroke-width="1"/>
<circle cx="446.5" cy="405.8" r="1.3" fill="#62a843"/>
<text x="456.8" y="408.4" font-size="7.4" stroke="#222" stroke-width="0.18" textLength="34.2" lengthAdjust="spacingAndGlyphs">sgp130Fc</text>
<text x="61.3" y="506.6" font-size="11" font-weight="bold" fill="#000">N</text>
<text x="80" y="519.4" font-size="7.9" stroke="#222" stroke-width="0.18" textLength="59.5" lengthAdjust="spacingAndGlyphs">Skin H&amp;E day 28</text>
<text x="66.6" y="553.5" font-size="8.2" text-anchor="middle" stroke="#222" stroke-width="0.18" textLength="19.5" lengthAdjust="spacingAndGlyphs" transform="rotate(-90 66.6 553.5)">B6.WT</text>
<text x="66.6" y="614.5" font-size="8.2" text-anchor="middle" stroke="#222" stroke-width="0.18" textLength="34.5" lengthAdjust="spacingAndGlyphs" transform="rotate(-90 66.6 614.5)">sgp130Fc</text>
<clipPath id="cp1"><rect x="70.0" y="524.6" width="79.4" height="59.4"/></clipPath>
<clipPath id="cp1d"><path d="M70.42,529.8 L74.46,527.6 L77.69,526.8 L84.15,527.2 L89,528.5 L93.04,531.09 L95.46,535.12 L97.89,538.35 L100.31,541.59 L102.73,544.01 L105.96,541.26 L109.2,539.16 L112.43,536.74 L114.85,533.51 L115.98,530.28 L118.08,528.34 L122.93,527.53 L127.77,527.85 L131.81,529.47 L135.04,532.7 L137.47,535.93 L139.08,536.42 L141.51,533.51 L143.93,531.89 L149.58,531.09 L149.4,584 L70.0,584 Z"/></clipPath>
<g clip-path="url(#cp1)">
<rect x="70" y="524.6" width="79.4" height="59.4" fill="#ffffff"/>
<g clip-path="url(#cp1d)">
<rect x="70.0" y="524.6" width="79.4" height="59.4" fill="url(#derm1)"/>
<circle cx="95.71" cy="533.56" r="0.32" fill="#9a6ab5"/>
<circle cx="112.55" cy="546.32" r="0.57" fill="#9a6ab5"/>
<circle cx="87.05" cy="529.71" r="0.32" fill="#c9a2d3"/>
<circle cx="77.2" cy="549.82" r="0.34" fill="#b88cc8"/>
<circle cx="87.73" cy="561.87" r="0.31" fill="#e6b8dc"/>
<circle cx="87.55" cy="557.67" r="0.39" fill="#b384c6"/>
<circle cx="81.45" cy="531.6" r="0.47" fill="#8a5aa8"/>
<circle cx="124.15" cy="530.72" r="0.49" fill="#b88cc8"/>
<circle cx="99.57" cy="557.14" r="0.47" fill="#9a6ab5"/>
<circle cx="119.15" cy="554.09" r="0.43" fill="#b88cc8"/>
<circle cx="147.83" cy="531.61" r="0.35" fill="#c9a2d3"/>
<circle cx="146.38" cy="529.21" r="0.47" fill="#b88cc8"/>
<circle cx="139.51" cy="543.24" r="0.48" fill="#8a5aa8"/>
<circle cx="116.04" cy="551.7" r="0.58" fill="#9a6ab5"/>
<circle cx="125.7" cy="563.04" r="0.39" fill="#e6b8dc"/>
<circle cx="106.66" cy="534.58" r="0.45" fill="#9a6ab5"/>
<circle cx="87.33" cy="541.67" r="0.42" fill="#b384c6"/>
<circle cx="142.8" cy="554.09" r="0.43" fill="#b384c6"/>
<circle cx="113.63" cy="577.07" r="0.51" fill="#b894c8"/>
<circle cx="88.32" cy="529.53" r="0.37" fill="#b384c6"/>
<circle cx="88.53" cy="553.41" r="0.35" fill="#b88cc8"/>
<circle cx="92.39" cy="533.25" r="0.41" fill="#b88cc8"/>
<circle cx="74.29" cy="578.03" r="0.42" fill="#e6b8dc"/>
<circle cx="101.29" cy="553.2" r="0.32" fill="#c9a2d3"/>
<circle cx="75.35" cy="537" r="0.33" fill="#b384c6"/>
<circle cx="117.7" cy="530.68" r="0.35" fill="#b88cc8"/>
<circle cx="78.06" cy="546.2" r="0.32" fill="#9a6ab5"/>
<circle cx="86.51" cy="546.95" r="0.59" fill="#8a5aa8"/>
<circle cx="117.82" cy="552.76" r="0.55" fill="#9a6ab5"/>
<circle cx="148.85" cy="552.28" r="0.39" fill="#c9a2d3"/>
<circle cx="81.44" cy="569.13" r="0.55" fill="#e6b8dc"/>
<circle cx="82.82" cy="525.97" r="0.41" fill="#b88cc8"/>
<circle cx="124.79" cy="578.9" r="0.59" fill="#b894c8"/>
<circle cx="99.12" cy="534.52" r="0.46" fill="#b384c6"/>
<circle cx="131.86" cy="544.18" r="0.48" fill="#b384c6"/>
<circle cx="89.01" cy="548.4" r="0.36" fill="#b384c6"/>
<circle cx="109.13" cy="568.02" r="0.44" fill="#b894c8"/>
<circle cx="147.38" cy="529.38" r="0.37" fill="#9a6ab5"/>
<circle cx="85.62" cy="536.74" r="0.6" fill="#b88cc8"/>
<circle cx="118.45" cy="524.71" r="0.54" fill="#8a5aa8"/>
<circle cx="76.73" cy="563.84" r="0.44" fill="#ddb8dc"/>
<circle cx="101.87" cy="580.84" r="0.6" fill="#ddb8dc"/>
<circle cx="113.53" cy="525.87" r="0.46" fill="#9a6ab5"/>
<circle cx="144.13" cy="550.37" r="0.55" fill="#b384c6"/>
<circle cx="86.76" cy="539.56" r="0.45" fill="#8a5aa8"/>
<circle cx="130.64" cy="543.96" r="0.43" fill="#b88cc8"/>
<circle cx="106.38" cy="559.25" r="0.55" fill="#e6b8dc"/>
<circle cx="139.73" cy="532.37" r="0.46" fill="#b384c6"/>
<circle cx="71.49" cy="550.74" r="0.48" fill="#b384c6"/>
<circle cx="131.62" cy="533.5" r="0.44" fill="#b384c6"/>
<circle cx="127.58" cy="557.65" r="0.5" fill="#8a5aa8"/>
<circle cx="112.14" cy="553.26" r="0.56" fill="#9a6ab5"/>
<circle cx="74.51" cy="535.96" r="0.53" fill="#9a6ab5"/>
<circle cx="110.31" cy="557.97" r="0.43" fill="#9a6ab5"/>
<circle cx="118.63" cy="554.63" r="0.36" fill="#b88cc8"/>
<circle cx="92.01" cy="554.78" r="0.45" fill="#c9a2d3"/>
<circle cx="89.66" cy="555.68" r="0.58" fill="#8a5aa8"/>
<circle cx="140.88" cy="536.63" r="0.34" fill="#c9a2d3"/>
<circle cx="79.66" cy="550.86" r="0.5" fill="#9a6ab5"/>
<circle cx="104.01" cy="537.23" r="0.54" fill="#8a5aa8"/>
<circle cx="141.22" cy="533.77" r="0.34" fill="#8a5aa8"/>
<circle cx="145.63" cy="548.26" r="0.35" fill="#c9a2d3"/>
<circle cx="123.03" cy="537.89" r="0.6" fill="#c9a2d3"/>
<circle cx="102.06" cy="549.62" r="0.4" fill="#8a5aa8"/>
<circle cx="127.34" cy="525.76" r="0.44" fill="#b88cc8"/>
<circle cx="125.83" cy="547.43" r="0.49" fill="#b88cc8"/>
<circle cx="110.67" cy="528.42" r="0.59" fill="#b384c6"/>
<circle cx="78.32" cy="540.37" r="0.57" fill="#9a6ab5"/>
<circle cx="84.42" cy="569.49" r="0.42" fill="#b894c8"/>
<circle cx="112.61" cy="555.18" r="0.51" fill="#c9a2d3"/>
<circle cx="77.1" cy="528.02" r="0.43" fill="#b384c6"/>
<circle cx="133.65" cy="529.57" r="0.32" fill="#b384c6"/>
<circle cx="138.5" cy="551.55" r="0.6" fill="#8a5aa8"/>
<circle cx="73.43" cy="566.75" r="0.38" fill="#ddb8dc"/>
<circle cx="112.17" cy="536.83" r="0.45" fill="#c9a2d3"/>
<circle cx="84.13" cy="545.21" r="0.6" fill="#9a6ab5"/>
<circle cx="72.93" cy="525.69" r="0.47" fill="#b88cc8"/>
<circle cx="85.04" cy="552.8" r="0.33" fill="#c9a2d3"/>
<circle cx="135.02" cy="550.27" r="0.46" fill="#c9a2d3"/>
<circle cx="87.09" cy="538.24" r="0.55" fill="#b384c6"/>
<circle cx="97.6" cy="527.83" r="0.3" fill="#b384c6"/>
<circle cx="125" cy="527.29" r="0.35" fill="#b384c6"/>
<circle cx="105.4" cy="540.24" r="0.59" fill="#8a5aa8"/>
<circle cx="113.44" cy="539.12" r="0.37" fill="#8a5aa8"/>
<circle cx="84.53" cy="544.52" r="0.44" fill="#9a6ab5"/>
<circle cx="109.92" cy="536.54" r="0.53" fill="#b88cc8"/>
<circle cx="116.59" cy="548" r="0.39" fill="#8a5aa8"/>
<circle cx="129.59" cy="563.66" r="0.53" fill="#e6b8dc"/>
<circle cx="127.22" cy="553.95" r="0.52" fill="#8a5aa8"/>
<circle cx="121.07" cy="527.2" r="0.49" fill="#b88cc8"/>
<circle cx="111.59" cy="554.56" r="0.55" fill="#9a6ab5"/>
<circle cx="125.05" cy="538.26" r="0.31" fill="#9a6ab5"/>
<circle cx="105.84" cy="527.62" r="0.49" fill="#9a6ab5"/>
<circle cx="124.04" cy="553.66" r="0.44" fill="#9a6ab5"/>
<circle cx="75.57" cy="579.99" r="0.5" fill="#d2b0d8"/>
<circle cx="75.91" cy="540.37" r="0.37" fill="#b384c6"/>
<circle cx="121.6" cy="551.94" r="0.32" fill="#c9a2d3"/>
<circle cx="142.29" cy="541.67" r="0.49" fill="#9a6ab5"/>
<circle cx="121.04" cy="529.2" r="0.4" fill="#b384c6"/>
<circle cx="80.6" cy="553.26" r="0.38" fill="#c9a2d3"/>
<circle cx="93.09" cy="555.28" r="0.44" fill="#c9a2d3"/>
<circle cx="94.75" cy="529.7" r="0.31" fill="#c9a2d3"/>
<circle cx="106.44" cy="573.3" r="0.6" fill="#e6b8dc"/>
<circle cx="100.72" cy="579.04" r="0.47" fill="#d2b0d8"/>
<circle cx="81.25" cy="555.73" r="0.34" fill="#8a5aa8"/>
<circle cx="135.13" cy="554.82" r="0.51" fill="#9a6ab5"/>
<circle cx="71.97" cy="524.81" r="0.5" fill="#c9a2d3"/>
<circle cx="99.86" cy="531.78" r="0.3" fill="#8a5aa8"/>
<circle cx="143.56" cy="566.95" r="0.38" fill="#b894c8"/>
<circle cx="75.16" cy="547.78" r="0.32" fill="#b88cc8"/>
<circle cx="143.48" cy="569.49" r="0.33" fill="#b894c8"/>
<circle cx="136.27" cy="541.57" r="0.37" fill="#b384c6"/>
<circle cx="91.1" cy="554.95" r="0.53" fill="#b384c6"/>
<circle cx="132.34" cy="550.01" r="0.54" fill="#9a6ab5"/>
<circle cx="120.09" cy="578.86" r="0.52" fill="#ddb8dc"/>
<circle cx="107.49" cy="545.01" r="0.38" fill="#8a5aa8"/>
<circle cx="88.95" cy="553.3" r="0.34" fill="#c9a2d3"/>
<circle cx="121.07" cy="529.07" r="0.57" fill="#b88cc8"/>
<circle cx="109.47" cy="537.67" r="0.6" fill="#8a5aa8"/>
<circle cx="105.73" cy="532.89" r="0.37" fill="#b384c6"/>
<circle cx="83.87" cy="557.62" r="0.37" fill="#8a5aa8"/>
<circle cx="90.51" cy="558.44" r="0.52" fill="#9a6ab5"/>
<circle cx="102.77" cy="549.18" r="0.36" fill="#b88cc8"/>
<circle cx="115.6" cy="545.99" r="0.46" fill="#b88cc8"/>
<circle cx="141.21" cy="547.44" r="0.43" fill="#c9a2d3"/>
<circle cx="94.77" cy="572.97" r="0.31" fill="#ddb8dc"/>
<circle cx="116.62" cy="524.61" r="0.58" fill="#c9a2d3"/>
<circle cx="143.7" cy="555.95" r="0.59" fill="#c9a2d3"/>
<circle cx="89.73" cy="531.08" r="0.35" fill="#b384c6"/>
<circle cx="147.17" cy="531.07" r="0.33" fill="#c9a2d3"/>
<circle cx="131.68" cy="524.68" r="0.37" fill="#b384c6"/>
<circle cx="80.16" cy="539.56" r="0.51" fill="#c9a2d3"/>
<circle cx="78.9" cy="528.78" r="0.58" fill="#b88cc8"/>
<circle cx="85.22" cy="540.1" r="0.3" fill="#b88cc8"/>
<circle cx="111.79" cy="557.09" r="0.59" fill="#9a6ab5"/>
<circle cx="125.95" cy="542.86" r="0.36" fill="#9a6ab5"/>
<circle cx="88.09" cy="549.8" r="0.37" fill="#8a5aa8"/>
<circle cx="72.71" cy="544.68" r="0.41" fill="#c9a2d3"/>
<circle cx="101.47" cy="525" r="0.52" fill="#8a5aa8"/>
<circle cx="110.09" cy="536.79" r="0.39" fill="#b384c6"/>
<circle cx="135.11" cy="538.31" r="0.38" fill="#b384c6"/>
<circle cx="140.61" cy="531.08" r="0.45" fill="#b88cc8"/>
<circle cx="84.87" cy="537.87" r="0.57" fill="#c9a2d3"/>
<circle cx="74.48" cy="559.93" r="0.36" fill="#d2b0d8"/>
<circle cx="147.35" cy="533.03" r="0.51" fill="#9a6ab5"/>
<circle cx="84.62" cy="551.31" r="0.52" fill="#8a5aa8"/>
<circle cx="84.73" cy="580.19" r="0.39" fill="#d2b0d8"/>
<circle cx="127.59" cy="574.44" r="0.35" fill="#e6b8dc"/>
<circle cx="70.23" cy="541.22" r="0.43" fill="#8a5aa8"/>
<circle cx="140.28" cy="557.93" r="0.41" fill="#b384c6"/>
<circle cx="131.04" cy="542.94" r="0.33" fill="#c9a2d3"/>
<circle cx="126" cy="536.23" r="0.58" fill="#b88cc8"/>
<circle cx="85.33" cy="546.24" r="0.31" fill="#c9a2d3"/>
<circle cx="102.62" cy="572.82" r="0.41" fill="#d2b0d8"/>
<circle cx="85.48" cy="528.33" r="0.4" fill="#b88cc8"/>
<circle cx="91.89" cy="524.82" r="0.57" fill="#b88cc8"/>
<circle cx="88.57" cy="552.83" r="0.59" fill="#c9a2d3"/>
<circle cx="100.69" cy="539.51" r="0.54" fill="#c9a2d3"/>
<circle cx="80.54" cy="554.09" r="0.54" fill="#9a6ab5"/>
<circle cx="128.64" cy="573.47" r="0.4" fill="#ddb8dc"/>
<circle cx="95.37" cy="546.09" r="0.32" fill="#b88cc8"/>
<circle cx="75.14" cy="526.61" r="0.46" fill="#b88cc8"/>
<circle cx="82.76" cy="549.94" r="0.6" fill="#9a6ab5"/>
<circle cx="91.03" cy="529.59" r="0.43" fill="#9a6ab5"/>
<circle cx="80.55" cy="551.98" r="0.52" fill="#b384c6"/>
<circle cx="136.77" cy="542.05" r="0.38" fill="#b88cc8"/>
<circle cx="90.17" cy="540.06" r="0.37" fill="#c9a2d3"/>
<circle cx="89.48" cy="533.71" r="0.36" fill="#b88cc8"/>
<circle cx="75.15" cy="539.55" r="0.45" fill="#b384c6"/>
<circle cx="148.68" cy="530.68" r="0.56" fill="#c9a2d3"/>
<circle cx="88.35" cy="551.23" r="0.31" fill="#8a5aa8"/>
<circle cx="93.32" cy="531.68" r="0.48" fill="#b384c6"/>
<circle cx="135.74" cy="536.13" r="0.41" fill="#9a6ab5"/>
<circle cx="138.77" cy="551.28" r="0.53" fill="#8a5aa8"/>
<circle cx="122.78" cy="524.98" r="0.51" fill="#b88cc8"/>
<circle cx="97.77" cy="526.82" r="0.34" fill="#8a5aa8"/>
<circle cx="86.2" cy="539.74" r="0.52" fill="#b88cc8"/>
<circle cx="142.57" cy="573" r="0.5" fill="#e6b8dc"/>
<circle cx="84.7" cy="543.14" r="0.31" fill="#b384c6"/>
<circle cx="109.35" cy="553.32" r="0.33" fill="#c9a2d3"/>
<circle cx="101.39" cy="557.28" r="0.33" fill="#b88cc8"/>
<circle cx="92.49" cy="542.87" r="0.39" fill="#9a6ab5"/>
<circle cx="114.98" cy="545.82" r="0.31" fill="#c9a2d3"/>
<circle cx="101.02" cy="548.66" r="0.43" fill="#9a6ab5"/>
<circle cx="82.43" cy="531.34" r="0.42" fill="#9a6ab5"/>
<circle cx="140.1" cy="551.98" r="0.34" fill="#b384c6"/>
<circle cx="74.1" cy="533.06" r="0.33" fill="#c9a2d3"/>
<circle cx="119.4" cy="546.63" r="0.35" fill="#b88cc8"/>
<circle cx="97.63" cy="534.21" r="0.58" fill="#b384c6"/>
<circle cx="78.64" cy="553.74" r="0.39" fill="#b384c6"/>
<circle cx="136.48" cy="527.18" r="0.39" fill="#c9a2d3"/>
<circle cx="126.56" cy="565.48" r="0.49" fill="#ddb8dc"/>
<circle cx="118.81" cy="536.25" r="0.35" fill="#c9a2d3"/>
<circle cx="87.32" cy="548.34" r="0.35" fill="#b88cc8"/>
<circle cx="98.52" cy="533.48" r="0.31" fill="#b384c6"/>
<circle cx="136.55" cy="531.59" r="0.44" fill="#b88cc8"/>
<circle cx="94.47" cy="539.41" r="0.5" fill="#c9a2d3"/>
<circle cx="105.48" cy="550.64" r="0.3" fill="#9a6ab5"/>
<circle cx="148.3" cy="552.24" r="0.53" fill="#c9a2d3"/>
<circle cx="131.93" cy="551.82" r="0.54" fill="#b384c6"/>
<circle cx="101.79" cy="528.59" r="0.43" fill="#8a5aa8"/>
<circle cx="77.28" cy="550.85" r="0.5" fill="#b88cc8"/>
<circle cx="73.23" cy="532.34" r="0.53" fill="#8a5aa8"/>
<circle cx="110.61" cy="527.82" r="0.57" fill="#b88cc8"/>
<circle cx="78.7" cy="532.42" r="0.39" fill="#c9a2d3"/>
<circle cx="127.25" cy="537.73" r="0.48" fill="#8a5aa8"/>
<circle cx="90.03" cy="543.84" r="0.38" fill="#b88cc8"/>
<circle cx="134.76" cy="533.13" r="0.59" fill="#b88cc8"/>
<circle cx="88.85" cy="546.71" r="0.35" fill="#b384c6"/>
<circle cx="141.1" cy="534.62" r="0.33" fill="#8a5aa8"/>
<circle cx="139.31" cy="557.58" r="0.51" fill="#b88cc8"/>
<circle cx="141.15" cy="539.57" r="0.49" fill="#b88cc8"/>
<circle cx="130.71" cy="550.87" r="0.48" fill="#b384c6"/>
<circle cx="146.06" cy="542.21" r="0.38" fill="#b88cc8"/>
<circle cx="122.7" cy="543.17" r="0.52" fill="#9a6ab5"/>
<circle cx="87.6" cy="541.88" r="0.43" fill="#c9a2d3"/>
<circle cx="98.91" cy="527.44" r="0.37" fill="#c9a2d3"/>
<circle cx="121.86" cy="525.92" r="0.47" fill="#9a6ab5"/>
<circle cx="94.12" cy="555.67" r="0.37" fill="#b88cc8"/>
<circle cx="119.54" cy="552.81" r="0.3" fill="#b384c6"/>
<circle cx="75.06" cy="533.19" r="0.42" fill="#8a5aa8"/>
<circle cx="90.98" cy="525.28" r="0.57" fill="#b88cc8"/>
<circle cx="111.1" cy="553.88" r="0.57" fill="#b384c6"/>
<circle cx="73.49" cy="556.17" r="0.36" fill="#c9a2d3"/>
<circle cx="102.81" cy="555.38" r="0.49" fill="#b88cc8"/>
<circle cx="75.06" cy="561.78" r="0.51" fill="#e6b8dc"/>
<circle cx="70.5" cy="574.76" r="0.32" fill="#e6b8dc"/>
<circle cx="122.05" cy="535.02" r="0.38" fill="#9a6ab5"/>
<circle cx="121.14" cy="531.92" r="0.51" fill="#8a5aa8"/>
<circle cx="91.12" cy="557.49" r="0.51" fill="#c9a2d3"/>
<circle cx="110.29" cy="534.68" r="0.55" fill="#b384c6"/>
<circle cx="86.1" cy="534.06" r="0.36" fill="#8a5aa8"/>
<circle cx="137.64" cy="579.35" r="0.44" fill="#e6b8dc"/>
<circle cx="112.13" cy="524.98" r="0.43" fill="#9a6ab5"/>
<circle cx="127.54" cy="558.48" r="0.54" fill="#8a5aa8"/>
<circle cx="83.62" cy="526.56" r="0.33" fill="#9a6ab5"/>
<circle cx="143.76" cy="545.08" r="0.51" fill="#b384c6"/>
<circle cx="72.45" cy="532.82" r="0.51" fill="#9a6ab5"/>
<circle cx="128.5" cy="528.51" r="0.53" fill="#b88cc8"/>
<circle cx="122.73" cy="576.86" r="0.33" fill="#e6b8dc"/>
<circle cx="86.33" cy="531.25" r="0.58" fill="#9a6ab5"/>
<circle cx="93.38" cy="544.59" r="0.31" fill="#8a5aa8"/>
<circle cx="90.38" cy="541.39" r="0.57" fill="#8a5aa8"/>
<circle cx="92.84" cy="568.89" r="0.43" fill="#d2b0d8"/>
<circle cx="131.38" cy="545.2" r="0.46" fill="#9a6ab5"/>
<circle cx="135.09" cy="534.72" r="0.46" fill="#9a6ab5"/>
<circle cx="97.62" cy="530.28" r="0.59" fill="#b384c6"/>
<circle cx="115.89" cy="534.04" r="0.58" fill="#b384c6"/>
<circle cx="88.38" cy="534.45" r="0.45" fill="#9a6ab5"/>
<circle cx="148.69" cy="557.94" r="0.49" fill="#9a6ab5"/>
<circle cx="98.24" cy="548.44" r="0.57" fill="#c9a2d3"/>
<circle cx="129.17" cy="549.67" r="0.41" fill="#9a6ab5"/>
<circle cx="94.07" cy="550.03" r="0.45" fill="#b88cc8"/>
<circle cx="106.6" cy="556.17" r="0.49" fill="#b88cc8"/>
<circle cx="97.67" cy="544" r="0.56" fill="#b384c6"/>
<circle cx="105.75" cy="557.49" r="0.35" fill="#8a5aa8"/>
<circle cx="80.01" cy="552.04" r="0.45" fill="#b384c6"/>
<circle cx="91.24" cy="569.43" r="0.52" fill="#ddb8dc"/>
<circle cx="97.68" cy="538.63" r="0.38" fill="#b384c6"/>
<circle cx="122.24" cy="536.21" r="0.6" fill="#b384c6"/>
<circle cx="86.39" cy="547.67" r="0.3" fill="#9a6ab5"/>
<circle cx="137.83" cy="550.53" r="0.45" fill="#b384c6"/>
<circle cx="120.21" cy="552.12" r="0.38" fill="#b384c6"/>
<circle cx="128.62" cy="524.93" r="0.57" fill="#b384c6"/>
<circle cx="104.14" cy="558.69" r="0.55" fill="#e6b8dc"/>
<circle cx="123.03" cy="563.36" r="0.5" fill="#ddb8dc"/>
<circle cx="120.94" cy="551.56" r="0.38" fill="#8a5aa8"/>
<circle cx="137.45" cy="553.27" r="0.49" fill="#9a6ab5"/>
<circle cx="102.5" cy="564.71" r="0.57" fill="#ddb8dc"/>
<circle cx="96.05" cy="525.23" r="0.57" fill="#c9a2d3"/>
<circle cx="78.45" cy="539.52" r="0.35" fill="#b384c6"/>
<circle cx="126.95" cy="555.02" r="0.46" fill="#8a5aa8"/>
<circle cx="124.34" cy="547.91" r="0.52" fill="#9a6ab5"/>
<circle cx="100.32" cy="528.25" r="0.43" fill="#9a6ab5"/>
<circle cx="91.05" cy="537.93" r="0.58" fill="#c9a2d3"/>
<circle cx="111.85" cy="537.6" r="0.44" fill="#c9a2d3"/>
<circle cx="133.39" cy="536.07" r="0.52" fill="#b88cc8"/>
<circle cx="134.68" cy="533.29" r="0.44" fill="#c9a2d3"/>
<circle cx="93.37" cy="557.17" r="0.53" fill="#b384c6"/>
<circle cx="125.91" cy="565.43" r="0.44" fill="#ddb8dc"/>
<circle cx="121.96" cy="543.63" r="0.43" fill="#c9a2d3"/>
<circle cx="135.74" cy="578.4" r="0.46" fill="#ddb8dc"/>
<circle cx="86.65" cy="528.88" r="0.38" fill="#8a5aa8"/>
<circle cx="78.06" cy="533.08" r="0.36" fill="#b384c6"/>
<circle cx="101.96" cy="556.35" r="0.57" fill="#b88cc8"/>
<circle cx="140.98" cy="571.41" r="0.45" fill="#ddb8dc"/>
<circle cx="86.92" cy="529.27" r="0.5" fill="#c9a2d3"/>
<circle cx="79.29" cy="531.63" r="0.37" fill="#c9a2d3"/>
<circle cx="81.06" cy="553.89" r="0.45" fill="#9a6ab5"/>
<circle cx="83.07" cy="560.22" r="0.55" fill="#ddb8dc"/>
<circle cx="107.16" cy="558.02" r="0.55" fill="#8a5aa8"/>
<circle cx="99.77" cy="549.48" r="0.35" fill="#9a6ab5"/>
<circle cx="73.64" cy="568.35" r="0.45" fill="#d2b0d8"/>
<circle cx="138.42" cy="546.35" r="0.53" fill="#c9a2d3"/>
<circle cx="97.15" cy="539.54" r="0.55" fill="#9a6ab5"/>
<circle cx="110" cy="540.74" r="0.4" fill="#b88cc8"/>
<circle cx="86.16" cy="553.84" r="0.4" fill="#9a6ab5"/>
<circle cx="95.18" cy="542.37" r="0.59" fill="#b88cc8"/>
<circle cx="114.01" cy="548.72" r="0.31" fill="#b88cc8"/>
<circle cx="93.85" cy="524.97" r="0.55" fill="#b384c6"/>
<circle cx="109.77" cy="556.89" r="0.49" fill="#c9a2d3"/>
<circle cx="124.07" cy="537.22" r="0.49" fill="#c9a2d3"/>
<circle cx="83.81" cy="564.02" r="0.53" fill="#e6b8dc"/>
<circle cx="90.49" cy="542.54" r="0.31" fill="#c9a2d3"/>
<circle cx="71.62" cy="558.24" r="0.58" fill="#b88cc8"/>
<circle cx="74.34" cy="558.31" r="0.55" fill="#9a6ab5"/>
<circle cx="131.44" cy="549.61" r="0.43" fill="#c9a2d3"/>
<circle cx="71.12" cy="547.6" r="0.6" fill="#b88cc8"/>
<circle cx="122.36" cy="533.82" r="0.46" fill="#c9a2d3"/>
<circle cx="76.58" cy="552.65" r="0.49" fill="#b384c6"/>
<circle cx="103.9" cy="525.15" r="0.6" fill="#9a6ab5"/>
<circle cx="138.16" cy="537.56" r="0.34" fill="#9a6ab5"/>
<circle cx="128.24" cy="535.73" r="0.41" fill="#9a6ab5"/>
<circle cx="130.29" cy="542.01" r="0.51" fill="#b88cc8"/>
<circle cx="71.17" cy="563.25" r="0.42" fill="#d2b0d8"/>
<circle cx="94.81" cy="560.25" r="0.48" fill="#e6b8dc"/>
<circle cx="95.11" cy="580.96" r="0.5" fill="#e6b8dc"/>
<circle cx="100.63" cy="571.3" r="0.39" fill="#b894c8"/>
<circle cx="74.81" cy="582.45" r="0.56" fill="#b894c8"/>
<circle cx="127.62" cy="525.52" r="0.48" fill="#b384c6"/>
<circle cx="94.5" cy="550.06" r="0.41" fill="#b384c6"/>
<circle cx="124.37" cy="560.35" r="0.38" fill="#e6b8dc"/>
<circle cx="70.13" cy="540.22" r="0.35" fill="#c9a2d3"/>
<circle cx="143.1" cy="569.94" r="0.55" fill="#b894c8"/>
<circle cx="91.74" cy="575.16" r="0.4" fill="#e6b8dc"/>
<circle cx="76.75" cy="557.49" r="0.36" fill="#c9a2d3"/>
<circle cx="86.4" cy="539.73" r="0.54" fill="#9a6ab5"/>
<circle cx="106.5" cy="529.81" r="0.53" fill="#8a5aa8"/>
<circle cx="88.49" cy="559.03" r="0.44" fill="#b894c8"/>
<circle cx="116.79" cy="535.84" r="0.33" fill="#b384c6"/>
<circle cx="133.99" cy="541.81" r="0.47" fill="#b88cc8"/>
<circle cx="101.96" cy="555.32" r="0.37" fill="#b384c6"/>
<circle cx="143.26" cy="553.9" r="0.41" fill="#9a6ab5"/>
<circle cx="106.8" cy="529.46" r="0.48" fill="#8a5aa8"/>
<circle cx="97.39" cy="555.46" r="0.33" fill="#9a6ab5"/>
<circle cx="116.58" cy="537.29" r="0.43" fill="#8a5aa8"/>
<circle cx="145.15" cy="570.17" r="0.38" fill="#ddb8dc"/>
<circle cx="73.01" cy="536.54" r="0.41" fill="#b384c6"/>
<circle cx="72.19" cy="526.67" r="0.56" fill="#8a5aa8"/>
<circle cx="106.39" cy="580.86" r="0.56" fill="#d2b0d8"/>
<circle cx="120.8" cy="579.38" r="0.38" fill="#d2b0d8"/>
<circle cx="114.82" cy="562.65" r="0.35" fill="#e6b8dc"/>
<circle cx="137.47" cy="546.63" r="0.6" fill="#b384c6"/>
<circle cx="87.6" cy="526.89" r="0.58" fill="#8a5aa8"/>
<circle cx="74.71" cy="557.44" r="0.55" fill="#9a6ab5"/>
<circle cx="73.74" cy="571.31" r="0.32" fill="#e6b8dc"/>
<circle cx="81.5" cy="569.44" r="0.48" fill="#b894c8"/>
<circle cx="99.51" cy="547.77" r="0.44" fill="#8a5aa8"/>
<circle cx="83.39" cy="538.76" r="0.57" fill="#b384c6"/>
<circle cx="140.84" cy="552.39" r="0.54" fill="#b384c6"/>
<circle cx="119.12" cy="546.76" r="0.53" fill="#b384c6"/>
<circle cx="71.73" cy="529.06" r="0.4" fill="#8a5aa8"/>
<circle cx="88.57" cy="531.47" r="0.34" fill="#8a5aa8"/>
<circle cx="87.6" cy="527.97" r="0.47" fill="#c9a2d3"/>
<circle cx="102.7" cy="533.85" r="0.47" fill="#8a5aa8"/>
<circle cx="78.67" cy="551.7" r="0.33" fill="#c9a2d3"/>
<circle cx="147.7" cy="527.98" r="0.47" fill="#b384c6"/>
<circle cx="136.32" cy="531.68" r="0.59" fill="#b384c6"/>
<circle cx="104.31" cy="540.13" r="0.58" fill="#b384c6"/>
<circle cx="77.75" cy="541.79" r="0.32" fill="#b384c6"/>
<circle cx="127.68" cy="542.04" r="0.43" fill="#9a6ab5"/>
<circle cx="110.32" cy="554.94" r="0.3" fill="#c9a2d3"/>
<circle cx="136.08" cy="555.88" r="0.41" fill="#b384c6"/>
<circle cx="73.22" cy="548.89" r="0.47" fill="#8a5aa8"/>
<circle cx="80.96" cy="535.3" r="0.51" fill="#b384c6"/>
<circle cx="85.62" cy="529.31" r="0.57" fill="#9a6ab5"/>
<circle cx="85.26" cy="542.9" r="0.32" fill="#9a6ab5"/>
<circle cx="128.18" cy="548.84" r="0.46" fill="#9a6ab5"/>
<circle cx="97.6" cy="541.34" r="0.33" fill="#c9a2d3"/>
<circle cx="122.84" cy="539.35" r="0.55" fill="#b88cc8"/>
<circle cx="99.15" cy="534.31" r="0.47" fill="#8a5aa8"/>
<circle cx="138.13" cy="545.76" r="0.59" fill="#c9a2d3"/>
<circle cx="75.66" cy="545.79" r="0.54" fill="#b384c6"/>
<circle cx="138.72" cy="543.67" r="0.47" fill="#c9a2d3"/>
<circle cx="141.3" cy="541.92" r="0.59" fill="#9a6ab5"/>
<circle cx="109.29" cy="555.09" r="0.54" fill="#b88cc8"/>
<circle cx="80.67" cy="539.07" r="0.37" fill="#9a6ab5"/>
<circle cx="84.48" cy="530.7" r="0.47" fill="#8a5aa8"/>
<circle cx="145.86" cy="525.76" r="0.38" fill="#b384c6"/>
<circle cx="88.93" cy="550.99" r="0.56" fill="#8a5aa8"/>
<circle cx="126.94" cy="527.28" r="0.44" fill="#9a6ab5"/>
<circle cx="88.06" cy="538.09" r="0.44" fill="#b88cc8"/>
<circle cx="117.86" cy="526.75" r="0.53" fill="#9a6ab5"/>
<circle cx="96.88" cy="538.88" r="0.51" fill="#8a5aa8"/>
<circle cx="136.94" cy="558.13" r="0.54" fill="#8a5aa8"/>
<circle cx="137.3" cy="527.78" r="0.34" fill="#b88cc8"/>
<circle cx="124.01" cy="545.59" r="0.5" fill="#c9a2d3"/>
<circle cx="70.92" cy="531.08" r="0.32" fill="#b384c6"/>
<circle cx="104.38" cy="554.58" r="0.37" fill="#9a6ab5"/>
<circle cx="103.41" cy="548.18" r="0.49" fill="#c9a2d3"/>
<circle cx="134.26" cy="577.13" r="0.56" fill="#d2b0d8"/>
<circle cx="77.98" cy="531.83" r="0.43" fill="#9a6ab5"/>
<circle cx="145.5" cy="541.68" r="0.4" fill="#8a5aa8"/>
<circle cx="83.26" cy="528.18" r="0.57" fill="#b88cc8"/>
<circle cx="76.71" cy="559.66" r="0.34" fill="#e6b8dc"/>
<circle cx="80.43" cy="542.04" r="0.47" fill="#c9a2d3"/>
<circle cx="91.76" cy="568.31" r="0.55" fill="#b894c8"/>
<circle cx="118.43" cy="558.47" r="0.36" fill="#c9a2d3"/>
<circle cx="126.4" cy="551.98" r="0.39" fill="#b88cc8"/>
<circle cx="96.49" cy="535.81" r="0.41" fill="#b88cc8"/>
<circle cx="116.5" cy="525.31" r="0.35" fill="#8a5aa8"/>
<circle cx="145.6" cy="543.84" r="0.45" fill="#8a5aa8"/>
<circle cx="131.31" cy="534.02" r="0.48" fill="#9a6ab5"/>
<circle cx="136.25" cy="545.63" r="0.46" fill="#9a6ab5"/>
<circle cx="148.55" cy="564.85" r="0.4" fill="#e6b8dc"/>
<circle cx="128.66" cy="568.75" r="0.38" fill="#e6b8dc"/>
<circle cx="120.08" cy="562.15" r="0.56" fill="#e6b8dc"/>
<circle cx="103.18" cy="571.15" r="0.41" fill="#d2b0d8"/>
<circle cx="105.91" cy="551.8" r="0.39" fill="#8a5aa8"/>
<circle cx="101.02" cy="557.59" r="0.49" fill="#c9a2d3"/>
<circle cx="70.54" cy="568.9" r="0.43" fill="#e6b8dc"/>
<circle cx="84.63" cy="542.66" r="0.43" fill="#b384c6"/>
<circle cx="99.93" cy="538.38" r="0.4" fill="#8a5aa8"/>
<circle cx="136.97" cy="574.39" r="0.59" fill="#ddb8dc"/>
<circle cx="112.59" cy="543.16" r="0.6" fill="#b88cc8"/>
<circle cx="111.09" cy="555.33" r="0.42" fill="#c9a2d3"/>
<circle cx="77.86" cy="546.84" r="0.49" fill="#c9a2d3"/>
<circle cx="143.72" cy="533.76" r="0.59" fill="#b384c6"/>
<circle cx="108.65" cy="550.75" r="0.57" fill="#b88cc8"/>
<circle cx="116.64" cy="565.68" r="0.35" fill="#d2b0d8"/>
<circle cx="95.26" cy="582.72" r="0.33" fill="#ddb8dc"/>
<circle cx="141.02" cy="565.58" r="0.49" fill="#e6b8dc"/>
<circle cx="140.92" cy="549.09" r="0.49" fill="#9a6ab5"/>
<circle cx="117.89" cy="545.58" r="0.51" fill="#9a6ab5"/>
<circle cx="70.85" cy="524.77" r="0.3" fill="#b88cc8"/>
<circle cx="123.05" cy="536.28" r="0.53" fill="#c9a2d3"/>
<circle cx="115.02" cy="576.35" r="0.47" fill="#ddb8dc"/>
<circle cx="102.64" cy="531.82" r="0.46" fill="#b384c6"/>
<circle cx="110.45" cy="526.32" r="0.35" fill="#9a6ab5"/>
<circle cx="134.04" cy="528.29" r="0.51" fill="#9a6ab5"/>
<circle cx="115.96" cy="533.15" r="0.41" fill="#b384c6"/>
<circle cx="83.45" cy="540.44" r="0.56" fill="#9a6ab5"/>
<circle cx="145.25" cy="528.34" r="0.43" fill="#b384c6"/>
<circle cx="100.62" cy="527.85" r="0.47" fill="#c9a2d3"/>
<circle cx="146.19" cy="550.71" r="0.37" fill="#b88cc8"/>
<circle cx="87.7" cy="534.07" r="0.56" fill="#b88cc8"/>
<circle cx="94.99" cy="577.99" r="0.43" fill="#b894c8"/>
<circle cx="90.01" cy="577.28" r="0.37" fill="#d2b0d8"/>
<circle cx="132.94" cy="539.06" r="0.35" fill="#b384c6"/>
<circle cx="100.09" cy="525.05" r="0.42" fill="#8a5aa8"/>
<circle cx="98.82" cy="544.5" r="0.4" fill="#c9a2d3"/>
<circle cx="142.49" cy="557.5" r="0.36" fill="#c9a2d3"/>
<circle cx="92.52" cy="538.69" r="0.38" fill="#9a6ab5"/>
<circle cx="80.31" cy="536.26" r="0.55" fill="#b88cc8"/>
<circle cx="80.15" cy="550.93" r="0.35" fill="#b384c6"/>
<circle cx="146.1" cy="536.96" r="0.45" fill="#c9a2d3"/>
<circle cx="88.05" cy="551.49" r="0.58" fill="#b384c6"/>
<circle cx="148.6" cy="556.36" r="0.48" fill="#c9a2d3"/>
<circle cx="110.73" cy="556.83" r="0.52" fill="#8a5aa8"/>
<circle cx="130.73" cy="526.31" r="0.34" fill="#b88cc8"/>
<circle cx="131.63" cy="538.35" r="0.5" fill="#b384c6"/>
<circle cx="78.65" cy="557.98" r="0.54" fill="#8a5aa8"/>
<circle cx="130.22" cy="536.05" r="0.33" fill="#8a5aa8"/>
<circle cx="119.87" cy="561.94" r="0.35" fill="#b894c8"/>
<circle cx="141.22" cy="526.1" r="0.37" fill="#c9a2d3"/>
<circle cx="137.23" cy="545.52" r="0.35" fill="#9a6ab5"/>
<circle cx="79.15" cy="578.81" r="0.42" fill="#d2b0d8"/>
<circle cx="118.32" cy="550.18" r="0.35" fill="#8a5aa8"/>
<circle cx="128.62" cy="557.41" r="0.47" fill="#b384c6"/>
<circle cx="88.08" cy="554.17" r="0.38" fill="#b88cc8"/>
<circle cx="70.08" cy="574.16" r="0.57" fill="#b894c8"/>
<circle cx="142.54" cy="549.38" r="0.6" fill="#c9a2d3"/>
<circle cx="118.86" cy="537.72" r="0.33" fill="#b88cc8"/>
<circle cx="145.14" cy="549.78" r="0.51" fill="#8a5aa8"/>
<circle cx="105.95" cy="527.83" r="0.43" fill="#b384c6"/>
<circle cx="130.5" cy="527.2" r="0.38" fill="#b88cc8"/>
<circle cx="113.19" cy="539.43" r="0.35" fill="#9a6ab5"/>
<circle cx="97.57" cy="530.1" r="0.34" fill="#8a5aa8"/>
<circle cx="124.49" cy="553.49" r="0.37" fill="#c9a2d3"/>
<circle cx="89.19" cy="555.21" r="0.34" fill="#c9a2d3"/>
<circle cx="119.97" cy="531.61" r="0.53" fill="#c9a2d3"/>
<circle cx="106.62" cy="570.11" r="0.51" fill="#d2b0d8"/>
<circle cx="70.98" cy="553.5" r="0.32" fill="#9a6ab5"/>
<circle cx="92.3" cy="536.31" r="0.43" fill="#8a5aa8"/>
<circle cx="78.97" cy="543.87" r="0.47" fill="#c9a2d3"/>
<circle cx="92.99" cy="557.72" r="0.3" fill="#9a6ab5"/>
<circle cx="78.64" cy="553.64" r="0.45" fill="#c9a2d3"/>
<circle cx="132.24" cy="543.72" r="0.58" fill="#8a5aa8"/>
<circle cx="121.17" cy="561.89" r="0.5" fill="#b894c8"/>
<circle cx="101.38" cy="533.22" r="0.36" fill="#8a5aa8"/>
<circle cx="120.67" cy="574.84" r="0.33" fill="#ddb8dc"/>
<circle cx="127.08" cy="543.03" r="0.4" fill="#b88cc8"/>
<circle cx="99.26" cy="557.34" r="0.55" fill="#8a5aa8"/>
<circle cx="90.13" cy="528.03" r="0.47" fill="#9a6ab5"/>
<circle cx="119.88" cy="573.29" r="0.58" fill="#d2b0d8"/>
<circle cx="109.25" cy="554.27" r="0.6" fill="#b384c6"/>
<circle cx="88.06" cy="532.82" r="0.33" fill="#c9a2d3"/>
<circle cx="73.17" cy="550.71" r="0.37" fill="#b384c6"/>
<circle cx="99.58" cy="526.5" r="0.56" fill="#b88cc8"/>
<circle cx="132.48" cy="549.87" r="0.32" fill="#8a5aa8"/>
<circle cx="74.39" cy="566.82" r="0.43" fill="#d2b0d8"/>
<circle cx="122.89" cy="573.67" r="0.41" fill="#ddb8dc"/>
<circle cx="115.06" cy="552.45" r="0.4" fill="#b88cc8"/>
<circle cx="106.56" cy="582.29" r="0.59" fill="#ddb8dc"/>
<circle cx="146.37" cy="561.42" r="0.52" fill="#d2b0d8"/>
<circle cx="103.44" cy="546.5" r="0.39" fill="#b384c6"/>
<circle cx="116.11" cy="549.33" r="0.37" fill="#b88cc8"/>
<circle cx="105.04" cy="540.11" r="0.35" fill="#b384c6"/>
<circle cx="140.67" cy="557.16" r="0.37" fill="#9a6ab5"/>
<circle cx="106.38" cy="556.75" r="0.52" fill="#9a6ab5"/>
<circle cx="142.19" cy="558.27" r="0.5" fill="#c9a2d3"/>
<circle cx="133.55" cy="532.58" r="0.47" fill="#b88cc8"/>
<line x1="148.66" y1="576.93" x2="152.05" y2="578.06" stroke="#d9a6d6" stroke-width="0.6"/>
<line x1="113.22" y1="583.19" x2="115.43" y2="584.71" stroke="#e9b6dc" stroke-width="0.6"/>
<line x1="80.86" y1="578.31" x2="82.92" y2="578.69" stroke="#d9a6d6" stroke-width="0.6"/>
<line x1="73.31" y1="576.43" x2="70.69" y2="576.8" stroke="#e9b6dc" stroke-width="0.6"/>
<line x1="126.17" y1="569.42" x2="123.3" y2="570.47" stroke="#e9b6dc" stroke-width="0.6"/>
<line x1="114.7" y1="581.9" x2="112.94" y2="582.67" stroke="#efc4e6" stroke-width="0.6"/>
<line x1="136.81" y1="579.02" x2="135.78" y2="580.15" stroke="#d9a6d6" stroke-width="0.6"/>
<line x1="79.74" y1="568.07" x2="77.12" y2="570.92" stroke="#efc4e6" stroke-width="0.6"/>
<line x1="108.83" y1="579.34" x2="109.89" y2="581.48" stroke="#d9a6d6" stroke-width="0.6"/>
<line x1="133.76" y1="561.47" x2="130.66" y2="562.21" stroke="#d9a6d6" stroke-width="0.6"/>
<line x1="98.14" y1="576.23" x2="102.1" y2="576.49" stroke="#d9a6d6" stroke-width="0.6"/>
<line x1="79.02" y1="559.13" x2="82.31" y2="560.32" stroke="#e9b6dc" stroke-width="0.6"/>
<line x1="81.93" y1="582.25" x2="79" y2="583.48" stroke="#e9b6dc" stroke-width="0.6"/>
<line x1="116.71" y1="564.96" x2="113.31" y2="564.99" stroke="#d9a6d6" stroke-width="0.6"/>
<line x1="145.33" y1="558.95" x2="146.23" y2="560.6" stroke="#efc4e6" stroke-width="0.6"/>
<line x1="108.43" y1="559.4" x2="106.96" y2="560.23" stroke="#efc4e6" stroke-width="0.6"/>
<line x1="134.97" y1="575.86" x2="135.87" y2="578.4" stroke="#e9b6dc" stroke-width="0.6"/>
<line x1="125.02" y1="569.99" x2="127.95" y2="572.56" stroke="#efc4e6" stroke-width="0.6"/>
<line x1="76.03" y1="566.96" x2="78.93" y2="569.31" stroke="#efc4e6" stroke-width="0.6"/>
<line x1="119.59" y1="563.97" x2="116.8" y2="565.76" stroke="#d9a6d6" stroke-width="0.6"/>
<line x1="115.82" y1="568.45" x2="116.49" y2="569.81" stroke="#efc4e6" stroke-width="0.6"/>
<line x1="108.38" y1="564.36" x2="111.01" y2="566.95" stroke="#efc4e6" stroke-width="0.6"/>
<line x1="73.6" y1="562.3" x2="72.49" y2="564.18" stroke="#d9a6d6" stroke-width="0.6"/>
<line x1="75.04" y1="583.78" x2="76.32" y2="586.42" stroke="#efc4e6" stroke-width="0.6"/>
<line x1="145.98" y1="583.8" x2="148.87" y2="584.11" stroke="#e9b6dc" stroke-width="0.6"/>
<line x1="139.27" y1="578.27" x2="138.02" y2="581.09" stroke="#d9a6d6" stroke-width="0.6"/>
<line x1="132.88" y1="578.74" x2="135.44" y2="581.12" stroke="#e9b6dc" stroke-width="0.6"/>
<line x1="124.1" y1="566.32" x2="121.64" y2="568.59" stroke="#efc4e6" stroke-width="0.6"/>
<line x1="137.74" y1="564.83" x2="134.72" y2="566.11" stroke="#d9a6d6" stroke-width="0.6"/>
<line x1="74.8" y1="567.17" x2="76.9" y2="570.54" stroke="#d9a6d6" stroke-width="0.6"/>
<line x1="110" y1="581.31" x2="106.7" y2="583.57" stroke="#e9b6dc" stroke-width="0.6"/>
<line x1="80.77" y1="558.78" x2="78.35" y2="559.83" stroke="#d9a6d6" stroke-width="0.6"/>
<line x1="101.45" y1="578.22" x2="98.55" y2="578.87" stroke="#e9b6dc" stroke-width="0.6"/>
<line x1="93.94" y1="566.44" x2="92.06" y2="568.62" stroke="#d9a6d6" stroke-width="0.6"/>
<line x1="75.84" y1="563.43" x2="72.96" y2="564.13" stroke="#d9a6d6" stroke-width="0.6"/>
<line x1="116.09" y1="583.68" x2="117.58" y2="586.78" stroke="#d9a6d6" stroke-width="0.6"/>
<line x1="127.26" y1="582.02" x2="125.26" y2="583.14" stroke="#e9b6dc" stroke-width="0.6"/>
<line x1="91.9" y1="565.14" x2="93.81" y2="565.28" stroke="#d9a6d6" stroke-width="0.6"/>
<line x1="88.81" y1="559.11" x2="91.4" y2="559.5" stroke="#efc4e6" stroke-width="0.6"/>
<line x1="92.44" y1="571.35" x2="94.44" y2="572" stroke="#e9b6dc" stroke-width="0.6"/>
<line x1="146.47" y1="573.87" x2="149.89" y2="574.73" stroke="#efc4e6" stroke-width="0.6"/>
<line x1="97.09" y1="562.07" x2="99.45" y2="563.65" stroke="#e9b6dc" stroke-width="0.6"/>
<line x1="120.81" y1="582.04" x2="122.63" y2="583.47" stroke="#efc4e6" stroke-width="0.6"/>
<line x1="72.15" y1="570.95" x2="70.97" y2="574.25" stroke="#e9b6dc" stroke-width="0.6"/>
<line x1="74.56" y1="569.12" x2="77.6" y2="569.56" stroke="#d9a6d6" stroke-width="0.6"/>
<line x1="131.61" y1="583.69" x2="132.81" y2="587.35" stroke="#e9b6dc" stroke-width="0.6"/>
<line x1="72.04" y1="566.65" x2="70.98" y2="568.67" stroke="#d9a6d6" stroke-width="0.6"/>
<line x1="118.75" y1="576.99" x2="119.64" y2="578.48" stroke="#e9b6dc" stroke-width="0.6"/>
<line x1="86.71" y1="572.05" x2="84.61" y2="573.2" stroke="#d9a6d6" stroke-width="0.6"/>
<line x1="103.6" y1="572.28" x2="102.81" y2="575.06" stroke="#efc4e6" stroke-width="0.6"/>
<line x1="147.92" y1="573.2" x2="150.21" y2="575.22" stroke="#efc4e6" stroke-width="0.6"/>
<line x1="107.92" y1="559.4" x2="106.52" y2="562.2" stroke="#efc4e6" stroke-width="0.6"/>
<line x1="147.6" y1="570.11" x2="149.41" y2="572.26" stroke="#d9a6d6" stroke-width="0.6"/>
<line x1="80.47" y1="558.83" x2="80.71" y2="561.96" stroke="#d9a6d6" stroke-width="0.6"/>
<line x1="81.96" y1="574.57" x2="83.17" y2="578.33" stroke="#e9b6dc" stroke-width="0.6"/>
<line x1="119.6" y1="561.7" x2="119.32" y2="563.7" stroke="#e9b6dc" stroke-width="0.6"/>
<line x1="90.57" y1="573.99" x2="88.03" y2="576.76" stroke="#efc4e6" stroke-width="0.6"/>
<line x1="137.94" y1="578.39" x2="137.73" y2="580.76" stroke="#efc4e6" stroke-width="0.6"/>
<line x1="89.26" y1="583.55" x2="89.27" y2="586.64" stroke="#d9a6d6" stroke-width="0.6"/>
<line x1="141.54" y1="568.48" x2="144.27" y2="570.63" stroke="#e9b6dc" stroke-width="0.6"/>
<line x1="78.56" y1="577.23" x2="81.61" y2="577.86" stroke="#d9a6d6" stroke-width="0.6"/>
<line x1="123.53" y1="567.51" x2="125.37" y2="569.11" stroke="#d9a6d6" stroke-width="0.6"/>
<line x1="145.03" y1="574.53" x2="146.65" y2="575.91" stroke="#d9a6d6" stroke-width="0.6"/>
<line x1="126.32" y1="564.74" x2="127.34" y2="566.82" stroke="#d9a6d6" stroke-width="0.6"/>
<line x1="121.03" y1="566.18" x2="118.99" y2="566.22" stroke="#efc4e6" stroke-width="0.6"/>
<line x1="132.79" y1="570.73" x2="129.44" y2="571.44" stroke="#e9b6dc" stroke-width="0.6"/>
<line x1="135.33" y1="565.78" x2="136.7" y2="568.12" stroke="#e9b6dc" stroke-width="0.6"/>
<line x1="82.83" y1="575.94" x2="82.04" y2="578.45" stroke="#efc4e6" stroke-width="0.6"/>
<line x1="74.14" y1="578.47" x2="71.16" y2="579.97" stroke="#e9b6dc" stroke-width="0.6"/>
<line x1="131.92" y1="580.53" x2="134.99" y2="582.51" stroke="#d9a6d6" stroke-width="0.6"/>
</g>
<path d="M70.42,531.3 L74.46,529.1 L77.69,528.3 L84.15,528.7 L89,530 L93.04,532.59 L95.46,536.62 L97.89,539.85 L100.31,543.09 L102.73,545.51 L105.96,542.76 L109.2,540.66 L112.43,538.24 L114.85,535.01 L115.98,531.78 L118.08,529.84 L122.93,529.03 L127.77,529.35 L131.81,530.97 L135.04,534.2 L137.47,537.43 L139.08,537.92 L141.51,535.01 L143.93,533.39 L149.58,532.59" fill="none" stroke="#a672ba" stroke-width="3.0" stroke-linejoin="round"/>
<path d="M70.42,529.8 L74.46,527.6 L77.69,526.8 L84.15,527.2 L89,528.5 L93.04,531.09 L95.46,535.12 L97.89,538.35 L100.31,541.59 L102.73,544.01 L105.96,541.26 L109.2,539.16 L112.43,536.74 L114.85,533.51 L115.98,530.28 L118.08,528.34 L122.93,527.53 L127.77,527.85 L131.81,529.47 L135.04,532.7 L137.47,535.93 L139.08,536.42 L141.51,533.51 L143.93,531.89 L149.58,531.09" fill="none" stroke="#d0408e" stroke-width="0.9" stroke-linejoin="round"/>
<ellipse cx="102.3" cy="562.6" rx="3.1" ry="8" fill="#8a58a8" opacity="0.85" transform="rotate(-8 102.3 562.6)"/>
<ellipse cx="102.3" cy="562.6" rx="1.395" ry="4.8" fill="#b98ac6" opacity="0.8" transform="rotate(-8 102.3 562.6)"/>
<ellipse cx="116.5" cy="578.1" rx="3.8" ry="2.8" fill="#8a58a8" opacity="0.85" transform="rotate(-40 116.5 578.1)"/>
<ellipse cx="116.5" cy="578.1" rx="1.71" ry="1.68" fill="#b98ac6" opacity="0.8" transform="rotate(-40 116.5 578.1)"/>
<ellipse cx="122.5" cy="565.1" rx="2.5" ry="15.5" fill="#8a58a8" opacity="0.85" transform="rotate(26.6 122.5 565.1)"/>
<ellipse cx="122.5" cy="565.1" rx="1.125" ry="9.299999999999999" fill="#b98ac6" opacity="0.8" transform="rotate(26.6 122.5 565.1)"/>
<ellipse cx="134.7" cy="562.6" rx="2.7" ry="9.3" fill="#8a58a8" opacity="0.85" transform="rotate(18 134.7 562.6)"/>
<ellipse cx="134.7" cy="562.6" rx="1.215" ry="5.58" fill="#b98ac6" opacity="0.8" transform="rotate(18 134.7 562.6)"/>
<ellipse cx="101.8" cy="547.6" rx="1.2" ry="4.5" fill="#8a58a8" opacity="0.85" transform="rotate(-5 101.8 547.6)"/>
<ellipse cx="101.8" cy="547.6" rx="0.54" ry="2.6999999999999997" fill="#b98ac6" opacity="0.8" transform="rotate(-5 101.8 547.6)"/>
<ellipse cx="128" cy="546.1" rx="1.6" ry="2.6" fill="#8a58a8" opacity="0.85" transform="rotate(0 128 546.1)"/>
<ellipse cx="128" cy="546.1" rx="0.7200000000000001" ry="1.56" fill="#b98ac6" opacity="0.8" transform="rotate(0 128 546.1)"/>
</g>
<clipPath id="cp2"><rect x="70.0" y="584.6" width="79.4" height="59.6"/></clipPath>
<g clip-path="url(#cp2)">
<rect x="70.0" y="584.6" width="79.4" height="59.6" fill="url(#derm2)"/>
<g filter="url(#soft)">
<ellipse cx="115" cy="606.6" rx="26" ry="9" fill="#c38bca" opacity="0.5"/>
<path d="M70.0,612.6 L92,615.6 L110,622.6 L116,644.2 L70.0,644.2 Z" fill="#f7eef6"/>
<path d="M120,644.2 L122,628.6 L134,624.6 L149.4,622.6 L149.4,644.2 Z" fill="#f1e2f0" opacity="0.85"/>
</g>
<circle cx="142.47" cy="592.55" r="0.35" fill="#8a5aa8"/>
<circle cx="128.44" cy="590.41" r="0.46" fill="#a874be"/>
<circle cx="101.54" cy="609.29" r="0.61" fill="#bf92cc"/>
<circle cx="147.78" cy="586.56" r="0.37" fill="#a874be"/>
<circle cx="119.81" cy="585.52" r="0.48" fill="#a874be"/>
<circle cx="88.39" cy="610.26" r="0.55" fill="#9464b0"/>
<circle cx="78.76" cy="641.65" r="0.45" fill="#c99ad0"/>
<circle cx="128.61" cy="614.44" r="0.49" fill="#9464b0"/>
<circle cx="147.06" cy="635.45" r="0.56" fill="#a874be"/>
<circle cx="91.67" cy="595.16" r="0.39" fill="#8a5aa8"/>
<circle cx="146.73" cy="596.31" r="0.44" fill="#9464b0"/>
<circle cx="114.2" cy="606.21" r="0.41" fill="#9464b0"/>
<circle cx="73.29" cy="611.64" r="0.49" fill="#8a5aa8"/>
<circle cx="124.81" cy="643.15" r="0.44" fill="#8a5aa8"/>
<circle cx="95.27" cy="609.58" r="0.44" fill="#a874be"/>
<circle cx="100.6" cy="609.03" r="0.61" fill="#a874be"/>
<circle cx="120.42" cy="598.85" r="0.62" fill="#c99ad0"/>
<circle cx="89.12" cy="596.43" r="0.33" fill="#9464b0"/>
<circle cx="119.29" cy="586.61" r="0.44" fill="#9464b0"/>
<circle cx="123.04" cy="611.75" r="0.3" fill="#c99ad0"/>
<circle cx="126.55" cy="608.05" r="0.39" fill="#c99ad0"/>
<circle cx="133.31" cy="624.19" r="0.39" fill="#8a5aa8"/>
<circle cx="116.81" cy="618.61" r="0.62" fill="#9464b0"/>
<circle cx="134.58" cy="598.82" r="0.35" fill="#a874be"/>
<circle cx="122.55" cy="595.19" r="0.41" fill="#9464b0"/>
<circle cx="93.07" cy="611.19" r="0.46" fill="#9464b0"/>
<circle cx="107.98" cy="632.18" r="0.3" fill="#a874be"/>
<circle cx="80.36" cy="613.73" r="0.52" fill="#a874be"/>
<circle cx="114.16" cy="584.65" r="0.32" fill="#8a5aa8"/>
<circle cx="95.73" cy="599.01" r="0.33" fill="#bf92cc"/>
<circle cx="99.51" cy="587.22" r="0.43" fill="#bf92cc"/>
<circle cx="73.32" cy="629.48" r="0.53" fill="#bf92cc"/>
<circle cx="134.38" cy="605.6" r="0.6" fill="#bf92cc"/>
<circle cx="80.28" cy="621.47" r="0.43" fill="#c99ad0"/>
<circle cx="122.85" cy="604.24" r="0.33" fill="#9464b0"/>
<circle cx="105.37" cy="608.04" r="0.47" fill="#bf92cc"/>
<circle cx="117.07" cy="612.17" r="0.55" fill="#bf92cc"/>
<circle cx="75.17" cy="608.3" r="0.48" fill="#a874be"/>
<circle cx="135.48" cy="624.55" r="0.49" fill="#bf92cc"/>
<circle cx="143.51" cy="602.12" r="0.57" fill="#8a5aa8"/>
<circle cx="131.13" cy="591.64" r="0.6" fill="#a874be"/>
<circle cx="115.34" cy="585.52" r="0.33" fill="#bf92cc"/>
<circle cx="116.37" cy="644.09" r="0.41" fill="#a874be"/>
<circle cx="101.35" cy="637.39" r="0.41" fill="#8a5aa8"/>
<circle cx="138.82" cy="632.4" r="0.41" fill="#8a5aa8"/>
<circle cx="80.46" cy="596.97" r="0.63" fill="#8a5aa8"/>
<circle cx="143.88" cy="604.97" r="0.62" fill="#bf92cc"/>
<circle cx="114.16" cy="587.65" r="0.3" fill="#8a5aa8"/>
<circle cx="75.37" cy="641.3" r="0.4" fill="#9464b0"/>
<circle cx="133.21" cy="601.98" r="0.58" fill="#a874be"/>
<circle cx="117.01" cy="611.7" r="0.37" fill="#bf92cc"/>
<circle cx="86.14" cy="595.34" r="0.32" fill="#9464b0"/>
<circle cx="138.49" cy="588.89" r="0.47" fill="#c99ad0"/>
<circle cx="71.13" cy="627.59" r="0.47" fill="#a874be"/>
<circle cx="142.88" cy="596.93" r="0.46" fill="#9464b0"/>
<circle cx="86.01" cy="590.06" r="0.45" fill="#9464b0"/>
<circle cx="122.32" cy="599.95" r="0.54" fill="#bf92cc"/>
<circle cx="82.29" cy="587.98" r="0.31" fill="#a874be"/>
<circle cx="136.39" cy="602.1" r="0.61" fill="#a874be"/>
<circle cx="133.3" cy="626.73" r="0.62" fill="#8a5aa8"/>
<circle cx="72.62" cy="607.25" r="0.38" fill="#8a5aa8"/>
<circle cx="113.33" cy="590.18" r="0.35" fill="#bf92cc"/>
<circle cx="84.61" cy="604.46" r="0.34" fill="#bf92cc"/>
<circle cx="135.78" cy="591.88" r="0.65" fill="#a874be"/>
<circle cx="143.83" cy="590.14" r="0.4" fill="#bf92cc"/>
<circle cx="94.05" cy="619.4" r="0.35" fill="#a874be"/>
<circle cx="91.53" cy="637.83" r="0.5" fill="#a874be"/>
<circle cx="70.1" cy="596.18" r="0.53" fill="#a874be"/>
<circle cx="73.97" cy="604.45" r="0.47" fill="#bf92cc"/>
<circle cx="96.17" cy="606.3" r="0.58" fill="#9464b0"/>
<circle cx="93.68" cy="588.74" r="0.46" fill="#c99ad0"/>
<circle cx="129.31" cy="591.33" r="0.51" fill="#a874be"/>
<circle cx="106.63" cy="586.61" r="0.5" fill="#c99ad0"/>
<circle cx="136.47" cy="589.14" r="0.43" fill="#a874be"/>
<circle cx="122.62" cy="589.97" r="0.59" fill="#9464b0"/>
<circle cx="139.35" cy="613.22" r="0.39" fill="#a874be"/>
<circle cx="78.46" cy="598.83" r="0.47" fill="#a874be"/>
<circle cx="112.56" cy="591.61" r="0.39" fill="#bf92cc"/>
<circle cx="115.13" cy="587.11" r="0.43" fill="#8a5aa8"/>
<circle cx="85.7" cy="608.66" r="0.65" fill="#a874be"/>
<circle cx="89.03" cy="590.26" r="0.63" fill="#9464b0"/>
<circle cx="124.7" cy="598.26" r="0.35" fill="#a874be"/>
<circle cx="90.98" cy="586.44" r="0.52" fill="#bf92cc"/>
<circle cx="122.71" cy="597.57" r="0.51" fill="#a874be"/>
<circle cx="89.51" cy="620.31" r="0.38" fill="#9464b0"/>
<circle cx="131.36" cy="595.01" r="0.42" fill="#8a5aa8"/>
<circle cx="134.36" cy="612.12" r="0.3" fill="#a874be"/>
<circle cx="144.66" cy="609.15" r="0.31" fill="#bf92cc"/>
<circle cx="132.62" cy="593.42" r="0.54" fill="#c99ad0"/>
<circle cx="82.01" cy="605.12" r="0.37" fill="#a874be"/>
<circle cx="143.44" cy="625.49" r="0.65" fill="#9464b0"/>
<circle cx="132.85" cy="613.19" r="0.48" fill="#bf92cc"/>
<circle cx="96.2" cy="588.71" r="0.52" fill="#c99ad0"/>
<circle cx="85.8" cy="621.86" r="0.33" fill="#bf92cc"/>
<circle cx="126.97" cy="605.41" r="0.58" fill="#a874be"/>
<circle cx="74.19" cy="612.38" r="0.36" fill="#c99ad0"/>
<circle cx="100.63" cy="622.73" r="0.4" fill="#c99ad0"/>
<circle cx="146.3" cy="616.29" r="0.32" fill="#9464b0"/>
<circle cx="132.18" cy="632.42" r="0.38" fill="#a874be"/>
<circle cx="116.66" cy="618.07" r="0.62" fill="#c99ad0"/>
<circle cx="132.24" cy="631.9" r="0.59" fill="#8a5aa8"/>
<circle cx="102.26" cy="589.79" r="0.53" fill="#8a5aa8"/>
<circle cx="141.79" cy="610.02" r="0.3" fill="#8a5aa8"/>
<circle cx="108.83" cy="585.57" r="0.61" fill="#9464b0"/>
<circle cx="107.75" cy="609.08" r="0.46" fill="#8a5aa8"/>
<circle cx="96.63" cy="597.33" r="0.44" fill="#8a5aa8"/>
<circle cx="107" cy="586.54" r="0.33" fill="#8a5aa8"/>
<circle cx="124.23" cy="587.07" r="0.44" fill="#a874be"/>
<circle cx="96.41" cy="593.59" r="0.38" fill="#a874be"/>
<circle cx="140.65" cy="620.97" r="0.41" fill="#bf92cc"/>
<circle cx="95.29" cy="636.82" r="0.37" fill="#c99ad0"/>
<circle cx="135.95" cy="594.27" r="0.3" fill="#c99ad0"/>
<circle cx="137.77" cy="590.78" r="0.46" fill="#a874be"/>
<circle cx="134.27" cy="599.55" r="0.54" fill="#8a5aa8"/>
<circle cx="148.17" cy="628.38" r="0.35" fill="#bf92cc"/>
<circle cx="129.81" cy="599.7" r="0.33" fill="#bf92cc"/>
<circle cx="119.55" cy="611.07" r="0.43" fill="#8a5aa8"/>
<circle cx="111.46" cy="624.92" r="0.47" fill="#bf92cc"/>
<circle cx="124.91" cy="585.67" r="0.5" fill="#9464b0"/>
<circle cx="105.55" cy="629.36" r="0.56" fill="#c99ad0"/>
<circle cx="72.79" cy="603.98" r="0.3" fill="#a874be"/>
<circle cx="144.36" cy="600.78" r="0.51" fill="#a874be"/>
<circle cx="115.8" cy="587.38" r="0.36" fill="#bf92cc"/>
<circle cx="113.53" cy="608.89" r="0.58" fill="#9464b0"/>
<circle cx="123.71" cy="607.28" r="0.54" fill="#8a5aa8"/>
<circle cx="92.03" cy="594.25" r="0.47" fill="#c99ad0"/>
<circle cx="73.84" cy="616.33" r="0.48" fill="#a874be"/>
<circle cx="139.67" cy="594.26" r="0.36" fill="#c99ad0"/>
<circle cx="94.77" cy="587.79" r="0.64" fill="#8a5aa8"/>
<circle cx="131.7" cy="606.06" r="0.4" fill="#a874be"/>
<circle cx="140.76" cy="612.89" r="0.41" fill="#c99ad0"/>
<circle cx="104.8" cy="591.06" r="0.43" fill="#8a5aa8"/>
<circle cx="109.8" cy="608.93" r="0.57" fill="#a874be"/>
<circle cx="94.99" cy="593.66" r="0.46" fill="#c99ad0"/>
<circle cx="114.36" cy="624.57" r="0.44" fill="#8a5aa8"/>
<circle cx="126.95" cy="608.17" r="0.6" fill="#8a5aa8"/>
<circle cx="79.62" cy="611.4" r="0.31" fill="#9464b0"/>
<circle cx="144.63" cy="600.43" r="0.61" fill="#a874be"/>
<circle cx="139.52" cy="590.35" r="0.54" fill="#c99ad0"/>
<circle cx="94.37" cy="623.03" r="0.57" fill="#9464b0"/>
<circle cx="101.32" cy="640.65" r="0.44" fill="#8a5aa8"/>
<circle cx="109.69" cy="604.68" r="0.55" fill="#a874be"/>
<circle cx="143.62" cy="601.81" r="0.42" fill="#a874be"/>
<circle cx="75.24" cy="609.23" r="0.3" fill="#c99ad0"/>
<circle cx="115.56" cy="598.64" r="0.44" fill="#bf92cc"/>
<circle cx="115.55" cy="600.92" r="0.35" fill="#a874be"/>
<circle cx="141.33" cy="638.17" r="0.61" fill="#bf92cc"/>
<circle cx="80.42" cy="626.56" r="0.61" fill="#c99ad0"/>
<circle cx="110.42" cy="620.82" r="0.33" fill="#8a5aa8"/>
<circle cx="123.68" cy="642.7" r="0.31" fill="#8a5aa8"/>
<circle cx="111.07" cy="591.86" r="0.38" fill="#8a5aa8"/>
<circle cx="117.3" cy="586.52" r="0.59" fill="#c99ad0"/>
<circle cx="78.78" cy="597.98" r="0.64" fill="#8a5aa8"/>
<circle cx="112.14" cy="598.33" r="0.58" fill="#c99ad0"/>
<circle cx="86.59" cy="634.63" r="0.55" fill="#c99ad0"/>
<circle cx="87.71" cy="594.91" r="0.39" fill="#c99ad0"/>
<circle cx="77.11" cy="591.3" r="0.48" fill="#bf92cc"/>
<circle cx="116.75" cy="598.09" r="0.58" fill="#9464b0"/>
<circle cx="146.33" cy="604.23" r="0.32" fill="#8a5aa8"/>
<circle cx="107.94" cy="592.57" r="0.64" fill="#bf92cc"/>
<circle cx="118.89" cy="591.27" r="0.4" fill="#a874be"/>
<circle cx="104.83" cy="596.38" r="0.57" fill="#a874be"/>
<circle cx="85.97" cy="629.63" r="0.56" fill="#8a5aa8"/>
<circle cx="145.3" cy="639.43" r="0.32" fill="#9464b0"/>
<circle cx="86.33" cy="585.38" r="0.39" fill="#c99ad0"/>
<circle cx="98.22" cy="594.35" r="0.65" fill="#8a5aa8"/>
<circle cx="94.28" cy="587.24" r="0.54" fill="#a874be"/>
<circle cx="103.43" cy="586.35" r="0.57" fill="#bf92cc"/>
<circle cx="140.21" cy="613.57" r="0.62" fill="#9464b0"/>
<circle cx="133.1" cy="612.98" r="0.6" fill="#a874be"/>
<circle cx="111.95" cy="599.57" r="0.37" fill="#bf92cc"/>
<circle cx="90" cy="585.86" r="0.55" fill="#a874be"/>
<circle cx="128.15" cy="607.5" r="0.35" fill="#bf92cc"/>
<circle cx="71.02" cy="597.36" r="0.49" fill="#c99ad0"/>
<circle cx="72.19" cy="633.07" r="0.46" fill="#9464b0"/>
<circle cx="75.64" cy="603.87" r="0.5" fill="#c99ad0"/>
<circle cx="106.66" cy="630.43" r="0.39" fill="#9464b0"/>
<circle cx="141.92" cy="607.4" r="0.33" fill="#9464b0"/>
<circle cx="115.42" cy="639.46" r="0.57" fill="#bf92cc"/>
<circle cx="115.27" cy="627.46" r="0.44" fill="#a874be"/>
<circle cx="74.98" cy="598.82" r="0.3" fill="#a874be"/>
<circle cx="142.09" cy="596.53" r="0.31" fill="#9464b0"/>
<circle cx="73.87" cy="598.93" r="0.57" fill="#a874be"/>
<circle cx="102.85" cy="587.06" r="0.31" fill="#bf92cc"/>
<circle cx="130.12" cy="590.79" r="0.37" fill="#9464b0"/>
<circle cx="134.08" cy="594.3" r="0.41" fill="#c99ad0"/>
<circle cx="139.79" cy="588.9" r="0.49" fill="#9464b0"/>
<circle cx="135.22" cy="614.55" r="0.51" fill="#c99ad0"/>
<circle cx="132.87" cy="616.63" r="0.52" fill="#c99ad0"/>
<circle cx="86.56" cy="595.77" r="0.58" fill="#c99ad0"/>
<circle cx="106.36" cy="591.88" r="0.54" fill="#a874be"/>
<circle cx="88.97" cy="637.13" r="0.43" fill="#9464b0"/>
<circle cx="118.15" cy="642.92" r="0.33" fill="#9464b0"/>
<circle cx="73.46" cy="625.3" r="0.48" fill="#a874be"/>
<circle cx="106.18" cy="608.88" r="0.5" fill="#c99ad0"/>
<circle cx="86.74" cy="629.81" r="0.62" fill="#9464b0"/>
<circle cx="139.72" cy="595.32" r="0.45" fill="#8a5aa8"/>
<circle cx="126.1" cy="599.66" r="0.6" fill="#8a5aa8"/>
<circle cx="72.25" cy="607.38" r="0.46" fill="#a874be"/>
<circle cx="147.88" cy="623.58" r="0.59" fill="#c99ad0"/>
<circle cx="89.83" cy="609.18" r="0.42" fill="#9464b0"/>
<circle cx="113.19" cy="605.86" r="0.3" fill="#8a5aa8"/>
<circle cx="131.22" cy="598.83" r="0.58" fill="#8a5aa8"/>
<circle cx="112.24" cy="590.85" r="0.45" fill="#8a5aa8"/>
<circle cx="96.75" cy="588.43" r="0.64" fill="#9464b0"/>
<circle cx="142.55" cy="625.71" r="0.53" fill="#9464b0"/>
<circle cx="87.31" cy="629.6" r="0.45" fill="#8a5aa8"/>
<circle cx="118.77" cy="594.52" r="0.56" fill="#8a5aa8"/>
<circle cx="89.73" cy="599.92" r="0.33" fill="#9464b0"/>
<circle cx="75.51" cy="588.65" r="0.41" fill="#bf92cc"/>
<circle cx="75.08" cy="588.59" r="0.33" fill="#9464b0"/>
<circle cx="75.91" cy="617.82" r="0.54" fill="#c99ad0"/>
<circle cx="77.95" cy="602.67" r="0.54" fill="#bf92cc"/>
<circle cx="83.75" cy="643.56" r="0.42" fill="#bf92cc"/>
<circle cx="136.08" cy="586.43" r="0.34" fill="#a874be"/>
<circle cx="86.58" cy="605.5" r="0.4" fill="#8a5aa8"/>
<circle cx="70.78" cy="595.92" r="0.36" fill="#9464b0"/>
<circle cx="122.34" cy="619.58" r="0.32" fill="#a874be"/>
<circle cx="90.16" cy="589.9" r="0.38" fill="#c99ad0"/>
<circle cx="75.15" cy="585.48" r="0.63" fill="#a874be"/>
<circle cx="83.2" cy="624.13" r="0.4" fill="#a874be"/>
<circle cx="85.4" cy="597.65" r="0.6" fill="#bf92cc"/>
<circle cx="70.6" cy="590.54" r="0.59" fill="#bf92cc"/>
<circle cx="88.64" cy="586.35" r="0.47" fill="#bf92cc"/>
<circle cx="102.13" cy="613.5" r="0.62" fill="#a874be"/>
<circle cx="103.81" cy="588.22" r="0.32" fill="#a874be"/>
<circle cx="98.67" cy="612.56" r="0.49" fill="#8a5aa8"/>
<circle cx="75.68" cy="597.86" r="0.5" fill="#a874be"/>
<circle cx="139.1" cy="641.96" r="0.32" fill="#9464b0"/>
<circle cx="104.29" cy="587.94" r="0.36" fill="#c99ad0"/>
<circle cx="138.65" cy="597.26" r="0.47" fill="#9464b0"/>
<circle cx="107.2" cy="640.99" r="0.33" fill="#a874be"/>
<circle cx="105.97" cy="603.54" r="0.4" fill="#a874be"/>
<circle cx="132.65" cy="588.66" r="0.47" fill="#bf92cc"/>
<circle cx="84.29" cy="585.25" r="0.62" fill="#c99ad0"/>
<circle cx="121.49" cy="630.64" r="0.53" fill="#a874be"/>
<circle cx="81.52" cy="632.5" r="0.6" fill="#9464b0"/>
<circle cx="88.02" cy="620.24" r="0.46" fill="#9464b0"/>
<circle cx="137.5" cy="601.6" r="0.59" fill="#a874be"/>
<circle cx="94.17" cy="603.32" r="0.63" fill="#a874be"/>
<circle cx="145.3" cy="598.49" r="0.43" fill="#bf92cc"/>
<circle cx="137.75" cy="628.85" r="0.52" fill="#a874be"/>
<circle cx="149.37" cy="611.81" r="0.64" fill="#a874be"/>
<circle cx="130.01" cy="586.49" r="0.42" fill="#a874be"/>
<circle cx="123.09" cy="585.97" r="0.57" fill="#8a5aa8"/>
<circle cx="113.5" cy="607.64" r="0.38" fill="#8a5aa8"/>
<circle cx="140.39" cy="587.99" r="0.45" fill="#a874be"/>
<circle cx="76.37" cy="633.44" r="0.61" fill="#8a5aa8"/>
<circle cx="122.54" cy="635.87" r="0.64" fill="#8a5aa8"/>
<circle cx="126.54" cy="590.25" r="0.62" fill="#bf92cc"/>
<circle cx="78.27" cy="585.64" r="0.32" fill="#8a5aa8"/>
<circle cx="129.83" cy="595.04" r="0.45" fill="#a874be"/>
<circle cx="112.03" cy="635.19" r="0.5" fill="#c99ad0"/>
<circle cx="105.43" cy="614.38" r="0.51" fill="#c99ad0"/>
<circle cx="133.6" cy="638.17" r="0.45" fill="#a874be"/>
<circle cx="117.02" cy="599.7" r="0.36" fill="#bf92cc"/>
<circle cx="124.95" cy="599.84" r="0.44" fill="#a874be"/>
<circle cx="145.93" cy="599.94" r="0.55" fill="#9464b0"/>
<circle cx="97" cy="629.94" r="0.46" fill="#a874be"/>
<circle cx="95.75" cy="642.48" r="0.64" fill="#9464b0"/>
<circle cx="86.45" cy="608.98" r="0.62" fill="#a874be"/>
<circle cx="87.67" cy="597.41" r="0.34" fill="#8a5aa8"/>
<circle cx="121.32" cy="612.59" r="0.63" fill="#bf92cc"/>
<circle cx="115.81" cy="605.8" r="0.41" fill="#bf92cc"/>
<circle cx="134.42" cy="625.91" r="0.44" fill="#a874be"/>
<circle cx="113.69" cy="596.76" r="0.55" fill="#a874be"/>
<circle cx="146.73" cy="596.3" r="0.53" fill="#8a5aa8"/>
<circle cx="82.97" cy="588.46" r="0.6" fill="#bf92cc"/>
<circle cx="71.19" cy="616.48" r="0.31" fill="#8a5aa8"/>
<circle cx="89.76" cy="594.95" r="0.39" fill="#a874be"/>
<circle cx="79.07" cy="640.3" r="0.46" fill="#a874be"/>
<circle cx="75.82" cy="605.4" r="0.45" fill="#8a5aa8"/>
<circle cx="108.02" cy="600.01" r="0.62" fill="#9464b0"/>
<circle cx="90.96" cy="600.43" r="0.52" fill="#9464b0"/>
<circle cx="125.31" cy="600.27" r="0.42" fill="#8a5aa8"/>
<circle cx="109.05" cy="595.83" r="0.58" fill="#c99ad0"/>
<circle cx="93.43" cy="585.59" r="0.58" fill="#8a5aa8"/>
<circle cx="133.68" cy="590.21" r="0.35" fill="#c99ad0"/>
<circle cx="133.04" cy="611.55" r="0.58" fill="#bf92cc"/>
<circle cx="88.36" cy="590.16" r="0.5" fill="#bf92cc"/>
<circle cx="80.97" cy="596.09" r="0.38" fill="#c99ad0"/>
<circle cx="136.69" cy="611.86" r="0.48" fill="#8a5aa8"/>
<circle cx="111.43" cy="604.38" r="0.31" fill="#9464b0"/>
<circle cx="127.51" cy="597.77" r="0.37" fill="#8a5aa8"/>
<circle cx="127" cy="611.67" r="0.62" fill="#a874be"/>
<circle cx="86.25" cy="603.14" r="0.35" fill="#8a5aa8"/>
<circle cx="74.92" cy="612.19" r="0.59" fill="#8a5aa8"/>
<circle cx="126.87" cy="641.74" r="0.44" fill="#8a5aa8"/>
<circle cx="111.52" cy="602.86" r="0.41" fill="#c99ad0"/>
<circle cx="93.3" cy="603.97" r="0.35" fill="#a874be"/>
<circle cx="85.7" cy="591.73" r="0.55" fill="#c99ad0"/>
<circle cx="94.68" cy="589.07" r="0.52" fill="#9464b0"/>
<circle cx="104.72" cy="588.58" r="0.38" fill="#c99ad0"/>
<circle cx="95.27" cy="613.02" r="0.57" fill="#bf92cc"/>
<circle cx="99.51" cy="611.23" r="0.52" fill="#8a5aa8"/>
<circle cx="78.33" cy="611.76" r="0.35" fill="#8a5aa8"/>
<circle cx="122.22" cy="635.4" r="0.45" fill="#8a5aa8"/>
<circle cx="76.8" cy="608.07" r="0.55" fill="#9464b0"/>
<circle cx="128.44" cy="586.5" r="0.49" fill="#a874be"/>
<circle cx="125.59" cy="603.43" r="0.51" fill="#c99ad0"/>
<circle cx="102.26" cy="598.88" r="0.57" fill="#bf92cc"/>
<circle cx="103.81" cy="604.75" r="0.61" fill="#9464b0"/>
<circle cx="144.87" cy="640.61" r="0.47" fill="#bf92cc"/>
<circle cx="106.94" cy="627.28" r="0.56" fill="#a874be"/>
<circle cx="142.69" cy="613.87" r="0.42" fill="#c99ad0"/>
<circle cx="89.69" cy="599.81" r="0.58" fill="#bf92cc"/>
<circle cx="94.89" cy="628.07" r="0.53" fill="#a874be"/>
<circle cx="74.48" cy="584.61" r="0.5" fill="#a874be"/>
<circle cx="99.05" cy="606.93" r="0.44" fill="#8a5aa8"/>
<circle cx="123.66" cy="629.67" r="0.56" fill="#c99ad0"/>
<circle cx="89.4" cy="639.41" r="0.56" fill="#a874be"/>
<circle cx="134.55" cy="599.69" r="0.43" fill="#8a5aa8"/>
<circle cx="136.67" cy="592.56" r="0.55" fill="#c99ad0"/>
<circle cx="123.27" cy="587.87" r="0.6" fill="#a874be"/>
<circle cx="139.78" cy="592.89" r="0.53" fill="#c99ad0"/>
<circle cx="106.18" cy="604.82" r="0.57" fill="#bf92cc"/>
<circle cx="139.07" cy="597.36" r="0.43" fill="#8a5aa8"/>
<circle cx="75.08" cy="591.65" r="0.62" fill="#9464b0"/>
<circle cx="72.03" cy="606.65" r="0.32" fill="#c99ad0"/>
<circle cx="128.84" cy="596.43" r="0.52" fill="#bf92cc"/>
<circle cx="94.7" cy="613.01" r="0.41" fill="#bf92cc"/>
<circle cx="108.43" cy="609.42" r="0.37" fill="#a874be"/>
<circle cx="98.77" cy="606.25" r="0.53" fill="#9464b0"/>
<circle cx="115.13" cy="612.11" r="0.45" fill="#c99ad0"/>
<circle cx="126.97" cy="610.19" r="0.36" fill="#9464b0"/>
<circle cx="93.1" cy="615.31" r="0.38" fill="#9464b0"/>
<circle cx="100.22" cy="626.91" r="0.41" fill="#a874be"/>
<circle cx="148.74" cy="615.33" r="0.49" fill="#bf92cc"/>
<circle cx="133.14" cy="595.53" r="0.61" fill="#c99ad0"/>
<circle cx="74.4" cy="614.69" r="0.48" fill="#a874be"/>
<circle cx="117.81" cy="600.04" r="0.38" fill="#8a5aa8"/>
<circle cx="131.44" cy="632.44" r="0.56" fill="#a874be"/>
<circle cx="88.82" cy="599.84" r="0.59" fill="#c99ad0"/>
<circle cx="88.43" cy="595.02" r="0.64" fill="#a874be"/>
<circle cx="127.29" cy="591.14" r="0.55" fill="#bf92cc"/>
<circle cx="126.42" cy="600.84" r="0.62" fill="#bf92cc"/>
<circle cx="76.86" cy="588.75" r="0.54" fill="#c99ad0"/>
<circle cx="81.28" cy="612.01" r="0.65" fill="#a874be"/>
<circle cx="85.79" cy="594.21" r="0.42" fill="#bf92cc"/>
<circle cx="104.62" cy="603.08" r="0.46" fill="#a874be"/>
<circle cx="93.51" cy="609.49" r="0.57" fill="#bf92cc"/>
<circle cx="117.01" cy="612.79" r="0.46" fill="#8a5aa8"/>
<circle cx="83.43" cy="588.97" r="0.64" fill="#bf92cc"/>
<circle cx="102.03" cy="605.7" r="0.42" fill="#bf92cc"/>
<circle cx="110.41" cy="627.05" r="0.52" fill="#bf92cc"/>
<circle cx="82.42" cy="623.48" r="0.63" fill="#9464b0"/>
<circle cx="81.54" cy="606.4" r="0.58" fill="#bf92cc"/>
<circle cx="84.48" cy="591.48" r="0.52" fill="#9464b0"/>
<circle cx="134.04" cy="610.87" r="0.43" fill="#8a5aa8"/>
<circle cx="141.07" cy="605.45" r="0.58" fill="#c99ad0"/>
<circle cx="138.05" cy="585.6" r="0.32" fill="#bf92cc"/>
<circle cx="140.77" cy="601.76" r="0.36" fill="#bf92cc"/>
<circle cx="124.78" cy="585.9" r="0.37" fill="#a874be"/>
<circle cx="128.5" cy="592.98" r="0.38" fill="#8a5aa8"/>
<circle cx="74.57" cy="600.32" r="0.63" fill="#9464b0"/>
<circle cx="143.45" cy="610.47" r="0.31" fill="#a874be"/>
<circle cx="80.03" cy="602.58" r="0.32" fill="#9464b0"/>
<circle cx="79.86" cy="585.9" r="0.34" fill="#a874be"/>
<circle cx="82.87" cy="595.38" r="0.43" fill="#c99ad0"/>
<circle cx="144.73" cy="596.4" r="0.64" fill="#9464b0"/>
<circle cx="104.5" cy="607.9" r="0.46" fill="#8a5aa8"/>
<circle cx="108.36" cy="586.06" r="0.36" fill="#a874be"/>
<circle cx="122.03" cy="611.15" r="0.54" fill="#c99ad0"/>
<circle cx="72.66" cy="610.8" r="0.3" fill="#c99ad0"/>
<circle cx="104.86" cy="585.97" r="0.53" fill="#8a5aa8"/>
<circle cx="110.6" cy="593.39" r="0.62" fill="#9464b0"/>
<circle cx="114.53" cy="593.09" r="0.54" fill="#a874be"/>
<circle cx="143.27" cy="626.42" r="0.44" fill="#8a5aa8"/>
<circle cx="123.14" cy="618.56" r="0.42" fill="#bf92cc"/>
<circle cx="108.08" cy="619.17" r="0.41" fill="#a874be"/>
<circle cx="99.9" cy="600.63" r="0.58" fill="#a874be"/>
<circle cx="132.58" cy="633.55" r="0.41" fill="#8a5aa8"/>
<circle cx="130.15" cy="600.23" r="0.42" fill="#c99ad0"/>
<circle cx="115.54" cy="617.14" r="0.47" fill="#9464b0"/>
<circle cx="135.79" cy="587.37" r="0.57" fill="#bf92cc"/>
<circle cx="131.7" cy="590.73" r="0.61" fill="#8a5aa8"/>
<circle cx="118.13" cy="610.55" r="0.33" fill="#8a5aa8"/>
<circle cx="105.64" cy="606.55" r="0.47" fill="#9464b0"/>
<circle cx="127.31" cy="597.38" r="0.4" fill="#8a5aa8"/>
<circle cx="99.42" cy="639.43" r="0.45" fill="#c99ad0"/>
<circle cx="115.4" cy="632.79" r="0.53" fill="#bf92cc"/>
<circle cx="95.23" cy="625.33" r="0.32" fill="#9464b0"/>
<circle cx="117.79" cy="636.15" r="0.42" fill="#a874be"/>
<circle cx="110.21" cy="611.11" r="0.33" fill="#9464b0"/>
<circle cx="106.89" cy="612.55" r="0.56" fill="#9464b0"/>
<circle cx="84.76" cy="614.41" r="0.36" fill="#8a5aa8"/>
<circle cx="141.97" cy="597.9" r="0.39" fill="#a874be"/>
<circle cx="142.46" cy="597.78" r="0.41" fill="#c99ad0"/>
<circle cx="148.89" cy="588.36" r="0.49" fill="#bf92cc"/>
<circle cx="137.87" cy="611.04" r="0.45" fill="#9464b0"/>
<circle cx="107.29" cy="603.24" r="0.56" fill="#9464b0"/>
<circle cx="88.42" cy="612.21" r="0.64" fill="#c99ad0"/>
<circle cx="143.3" cy="594.17" r="0.49" fill="#9464b0"/>
<circle cx="102.17" cy="594.6" r="0.61" fill="#a874be"/>
<circle cx="77.85" cy="614.25" r="0.41" fill="#c99ad0"/>
<circle cx="97.22" cy="590.28" r="0.64" fill="#bf92cc"/>
<circle cx="147.94" cy="592.96" r="0.4" fill="#c99ad0"/>
<circle cx="131.17" cy="603.54" r="0.34" fill="#bf92cc"/>
<circle cx="118.02" cy="602.5" r="0.55" fill="#a874be"/>
<circle cx="116.57" cy="609.66" r="0.49" fill="#a874be"/>
<circle cx="136.44" cy="624.48" r="0.65" fill="#9464b0"/>
<circle cx="73.91" cy="610.02" r="0.41" fill="#8a5aa8"/>
<circle cx="115.14" cy="585.13" r="0.42" fill="#bf92cc"/>
<circle cx="115.5" cy="643.5" r="0.34" fill="#a874be"/>
<circle cx="144.01" cy="600.54" r="0.63" fill="#c99ad0"/>
<circle cx="123.58" cy="607.5" r="0.32" fill="#9464b0"/>
<circle cx="129.25" cy="600.72" r="0.45" fill="#a874be"/>
<circle cx="139.14" cy="585.92" r="0.65" fill="#9464b0"/>
<circle cx="148.89" cy="621.75" r="0.43" fill="#a874be"/>
<circle cx="99.02" cy="592.55" r="0.39" fill="#8a5aa8"/>
<circle cx="81.25" cy="594.03" r="0.34" fill="#a874be"/>
<circle cx="133.27" cy="592.04" r="0.48" fill="#8a5aa8"/>
<circle cx="113.16" cy="585.5" r="0.38" fill="#9464b0"/>
<circle cx="141.09" cy="605.9" r="0.59" fill="#9464b0"/>
<circle cx="116.76" cy="610.19" r="0.57" fill="#bf92cc"/>
<circle cx="87.65" cy="624.53" r="0.65" fill="#bf92cc"/>
<circle cx="88.96" cy="586.84" r="0.37" fill="#a874be"/>
<circle cx="90.63" cy="630.73" r="0.53" fill="#8a5aa8"/>
<circle cx="103.63" cy="602.99" r="0.57" fill="#c99ad0"/>
<circle cx="109.52" cy="643.59" r="0.59" fill="#a874be"/>
<circle cx="132.74" cy="601.58" r="0.42" fill="#9464b0"/>
<circle cx="78.14" cy="628.85" r="0.44" fill="#c99ad0"/>
<circle cx="88.18" cy="597.08" r="0.53" fill="#8a5aa8"/>
<circle cx="87.68" cy="608.34" r="0.44" fill="#a874be"/>
<circle cx="112.57" cy="601.75" r="0.42" fill="#8a5aa8"/>
<circle cx="82.37" cy="588.8" r="0.37" fill="#c99ad0"/>
<circle cx="124.03" cy="599.68" r="0.53" fill="#9464b0"/>
<circle cx="81.22" cy="613.43" r="0.53" fill="#a874be"/>
<circle cx="72" cy="595.62" r="0.58" fill="#9464b0"/>
<circle cx="132.76" cy="589.06" r="0.38" fill="#8a5aa8"/>
<circle cx="135.7" cy="594.24" r="0.45" fill="#bf92cc"/>
<circle cx="70.29" cy="590.05" r="0.6" fill="#bf92cc"/>
<circle cx="120.56" cy="593.86" r="0.55" fill="#8a5aa8"/>
<circle cx="79.15" cy="607.28" r="0.3" fill="#a874be"/>
<circle cx="73.36" cy="605.68" r="0.65" fill="#8a5aa8"/>
<circle cx="95.27" cy="638.77" r="0.45" fill="#c99ad0"/>
<circle cx="145.75" cy="631.39" r="0.37" fill="#c99ad0"/>
<circle cx="111.19" cy="613.38" r="0.34" fill="#8a5aa8"/>
<circle cx="98.17" cy="617.92" r="0.4" fill="#c99ad0"/>
<circle cx="122.73" cy="595.65" r="0.4" fill="#c99ad0"/>
<circle cx="99.77" cy="612.99" r="0.49" fill="#c99ad0"/>
<circle cx="113.2" cy="602.07" r="0.59" fill="#9464b0"/>
<circle cx="105.89" cy="605.93" r="0.46" fill="#8a5aa8"/>
<circle cx="76.84" cy="606.08" r="0.59" fill="#a874be"/>
<circle cx="148.08" cy="610.36" r="0.52" fill="#8a5aa8"/>
<circle cx="125.06" cy="600.86" r="0.42" fill="#9464b0"/>
<circle cx="102.52" cy="610.67" r="0.48" fill="#c99ad0"/>
<circle cx="123.21" cy="642.2" r="0.42" fill="#a874be"/>
<circle cx="107.5" cy="627.49" r="0.47" fill="#a874be"/>
<circle cx="99.32" cy="600.68" r="0.32" fill="#bf92cc"/>
<circle cx="80.41" cy="604.8" r="0.6" fill="#bf92cc"/>
<circle cx="104.88" cy="609.71" r="0.35" fill="#8a5aa8"/>
<circle cx="72.91" cy="594.91" r="0.45" fill="#9464b0"/>
<circle cx="71.61" cy="607.85" r="0.57" fill="#bf92cc"/>
<circle cx="128.42" cy="591.4" r="0.42" fill="#8a5aa8"/>
<circle cx="93.33" cy="596.53" r="0.38" fill="#a874be"/>
<circle cx="72.89" cy="603.99" r="0.33" fill="#c99ad0"/>
<circle cx="106.54" cy="598.75" r="0.41" fill="#bf92cc"/>
<circle cx="103.07" cy="606.25" r="0.34" fill="#a874be"/>
<circle cx="148.32" cy="598.93" r="0.39" fill="#bf92cc"/>
<circle cx="116.63" cy="607.08" r="0.48" fill="#9464b0"/>
<circle cx="113.68" cy="602.7" r="0.57" fill="#bf92cc"/>
<circle cx="100.2" cy="598.18" r="0.36" fill="#c99ad0"/>
<circle cx="117.58" cy="612.58" r="0.36" fill="#bf92cc"/>
<circle cx="145.92" cy="642.94" r="0.63" fill="#bf92cc"/>
<circle cx="139.71" cy="603.12" r="0.54" fill="#a874be"/>
<circle cx="70.38" cy="609.06" r="0.4" fill="#bf92cc"/>
<circle cx="125.74" cy="615.36" r="0.34" fill="#a874be"/>
<circle cx="111.91" cy="591.39" r="0.6" fill="#8a5aa8"/>
<circle cx="92.55" cy="589.63" r="0.6" fill="#8a5aa8"/>
<circle cx="82.81" cy="585.95" r="0.38" fill="#8a5aa8"/>
<circle cx="112.2" cy="606.1" r="0.38" fill="#8a5aa8"/>
<circle cx="132.72" cy="611.85" r="0.59" fill="#8a5aa8"/>
<circle cx="74.62" cy="607.05" r="0.54" fill="#8a5aa8"/>
<circle cx="123.65" cy="614.22" r="0.58" fill="#bf92cc"/>
<circle cx="113" cy="588.62" r="0.54" fill="#a874be"/>
<circle cx="118.68" cy="594.83" r="0.6" fill="#c99ad0"/>
<circle cx="93.06" cy="616.44" r="0.34" fill="#c99ad0"/>
<circle cx="91.73" cy="602.54" r="0.49" fill="#a874be"/>
<circle cx="87.64" cy="610.97" r="0.5" fill="#8a5aa8"/>
<circle cx="129.8" cy="606.3" r="0.49" fill="#bf92cc"/>
<circle cx="83.03" cy="588.14" r="0.33" fill="#9464b0"/>
<circle cx="119.6" cy="619.88" r="0.55" fill="#c99ad0"/>
<circle cx="140.69" cy="610.83" r="0.49" fill="#bf92cc"/>
<circle cx="138.48" cy="596.7" r="0.51" fill="#8a5aa8"/>
<circle cx="80.46" cy="606.81" r="0.31" fill="#9464b0"/>
<circle cx="127.13" cy="587.62" r="0.54" fill="#8a5aa8"/>
<circle cx="74.68" cy="601.66" r="0.33" fill="#8a5aa8"/>
<circle cx="138.44" cy="593.15" r="0.46" fill="#c99ad0"/>
<circle cx="132.41" cy="611.77" r="0.63" fill="#a874be"/>
<circle cx="87.5" cy="600.74" r="0.39" fill="#c99ad0"/>
<circle cx="125.19" cy="608.21" r="0.33" fill="#a874be"/>
<circle cx="97.63" cy="613.49" r="0.56" fill="#c99ad0"/>
<circle cx="86.65" cy="605.31" r="0.35" fill="#bf92cc"/>
<circle cx="130.69" cy="609.93" r="0.47" fill="#a874be"/>
<circle cx="127.36" cy="605.66" r="0.39" fill="#9464b0"/>
<circle cx="97.68" cy="591.82" r="0.43" fill="#8a5aa8"/>
<circle cx="115.94" cy="597.58" r="0.58" fill="#bf92cc"/>
<circle cx="139.26" cy="602.64" r="0.49" fill="#a874be"/>
<circle cx="131.71" cy="602.01" r="0.58" fill="#9464b0"/>
<circle cx="78" cy="609.15" r="0.61" fill="#c99ad0"/>
<circle cx="92.04" cy="590.55" r="0.59" fill="#c99ad0"/>
<circle cx="121.28" cy="613.57" r="0.31" fill="#9464b0"/>
<circle cx="143.84" cy="596.47" r="0.61" fill="#9464b0"/>
<circle cx="121.3" cy="590.67" r="0.38" fill="#bf92cc"/>
<circle cx="132.02" cy="602.86" r="0.38" fill="#c99ad0"/>
<circle cx="108.11" cy="588.49" r="0.54" fill="#a874be"/>
<circle cx="82.18" cy="617.42" r="0.32" fill="#9464b0"/>
<circle cx="86.34" cy="599.84" r="0.39" fill="#9464b0"/>
<circle cx="84.48" cy="584.61" r="0.38" fill="#bf92cc"/>
<circle cx="129.52" cy="611.55" r="0.57" fill="#bf92cc"/>
<circle cx="149.07" cy="597.06" r="0.41" fill="#9464b0"/>
<circle cx="87.77" cy="609.51" r="0.63" fill="#c99ad0"/>
<circle cx="110.66" cy="610.87" r="0.5" fill="#bf92cc"/>
<circle cx="135.74" cy="638.58" r="0.53" fill="#a874be"/>
<circle cx="114.44" cy="612.1" r="0.62" fill="#c99ad0"/>
<circle cx="70.71" cy="600.03" r="0.52" fill="#bf92cc"/>
<circle cx="136.94" cy="612.61" r="0.61" fill="#a874be"/>
<circle cx="104.46" cy="622.48" r="0.52" fill="#a874be"/>
<circle cx="105.06" cy="603.97" r="0.38" fill="#c99ad0"/>
<circle cx="75.39" cy="587.49" r="0.4" fill="#9464b0"/>
<circle cx="132.78" cy="602.82" r="0.54" fill="#c99ad0"/>
<circle cx="82.89" cy="590.07" r="0.65" fill="#9464b0"/>
<circle cx="93.74" cy="631.04" r="0.52" fill="#a874be"/>
<circle cx="120.55" cy="628.7" r="0.48" fill="#9464b0"/>
<circle cx="104.56" cy="598.19" r="0.41" fill="#a874be"/>
<circle cx="129.97" cy="601.22" r="0.51" fill="#9464b0"/>
<circle cx="121.74" cy="600.25" r="0.35" fill="#a874be"/>
<circle cx="117.9" cy="594.81" r="0.63" fill="#a874be"/>
<circle cx="141.25" cy="598.79" r="0.31" fill="#c99ad0"/>
<circle cx="76.49" cy="621.19" r="0.62" fill="#8a5aa8"/>
<circle cx="133.54" cy="608.74" r="0.55" fill="#c99ad0"/>
<circle cx="71.54" cy="606.98" r="0.58" fill="#a874be"/>
<circle cx="77.04" cy="586.21" r="0.38" fill="#c99ad0"/>
<circle cx="76.47" cy="590" r="0.51" fill="#a874be"/>
<circle cx="75.6" cy="601.86" r="0.45" fill="#bf92cc"/>
<circle cx="116.53" cy="603.24" r="0.5" fill="#9464b0"/>
<circle cx="147.53" cy="616.97" r="0.51" fill="#8a5aa8"/>
<circle cx="138.54" cy="590.59" r="0.5" fill="#9464b0"/>
<circle cx="87.06" cy="634.56" r="0.4" fill="#bf92cc"/>
<circle cx="115.61" cy="585.87" r="0.5" fill="#bf92cc"/>
<circle cx="93.75" cy="600.98" r="0.33" fill="#c99ad0"/>
<circle cx="133.61" cy="614.15" r="0.43" fill="#a874be"/>
<circle cx="94.46" cy="599.35" r="0.4" fill="#c99ad0"/>
<circle cx="147.9" cy="637.8" r="0.39" fill="#bf92cc"/>
<circle cx="149.2" cy="623.2" r="0.31" fill="#c99ad0"/>
<circle cx="133.6" cy="595.59" r="0.54" fill="#c99ad0"/>
<circle cx="73.42" cy="595.99" r="0.44" fill="#bf92cc"/>
<circle cx="103.73" cy="606.93" r="0.56" fill="#c99ad0"/>
<circle cx="121.63" cy="608.58" r="0.44" fill="#c99ad0"/>
<circle cx="101.42" cy="607.88" r="0.64" fill="#a874be"/>
<circle cx="136.62" cy="598.94" r="0.55" fill="#9464b0"/>
<circle cx="144.52" cy="634.27" r="0.61" fill="#8a5aa8"/>
<circle cx="106.46" cy="604.41" r="0.43" fill="#c99ad0"/>
<circle cx="133.43" cy="634.83" r="0.36" fill="#a874be"/>
<circle cx="96.72" cy="590.71" r="0.35" fill="#a874be"/>
<circle cx="113.74" cy="642.96" r="0.41" fill="#8a5aa8"/>
<circle cx="91.24" cy="608.13" r="0.63" fill="#9464b0"/>
<circle cx="87.46" cy="612.39" r="0.6" fill="#bf92cc"/>
<circle cx="99.79" cy="584.63" r="0.44" fill="#a874be"/>
<circle cx="105.6" cy="597.29" r="0.43" fill="#9464b0"/>
<circle cx="137.34" cy="585.85" r="0.58" fill="#c99ad0"/>
<circle cx="125.22" cy="617.37" r="0.61" fill="#a874be"/>
<circle cx="106.75" cy="605.2" r="0.37" fill="#a874be"/>
<circle cx="126.24" cy="618.76" r="0.51" fill="#8a5aa8"/>
<circle cx="78.11" cy="604.46" r="0.53" fill="#8a5aa8"/>
<circle cx="78.72" cy="621.53" r="0.56" fill="#a874be"/>
<circle cx="73.69" cy="634.52" r="0.36" fill="#9464b0"/>
<circle cx="76.04" cy="611.57" r="0.61" fill="#9464b0"/>
<circle cx="88.42" cy="592.84" r="0.51" fill="#9464b0"/>
<circle cx="88.88" cy="602.77" r="0.45" fill="#bf92cc"/>
<circle cx="136.88" cy="635.45" r="0.54" fill="#bf92cc"/>
<circle cx="116.08" cy="585.35" r="0.52" fill="#bf92cc"/>
<circle cx="111.84" cy="590.78" r="0.44" fill="#9464b0"/>
<circle cx="78.11" cy="628.2" r="0.31" fill="#c99ad0"/>
<circle cx="128.1" cy="612.59" r="0.32" fill="#8a5aa8"/>
<circle cx="143.05" cy="633.83" r="0.42" fill="#a874be"/>
<circle cx="107.2" cy="590.77" r="0.52" fill="#c99ad0"/>
<circle cx="96.35" cy="616.96" r="0.44" fill="#c99ad0"/>
<circle cx="140.43" cy="632.22" r="0.46" fill="#bf92cc"/>
<circle cx="113.85" cy="627.92" r="0.56" fill="#c99ad0"/>
<circle cx="126.35" cy="626.39" r="0.31" fill="#a874be"/>
<circle cx="100.27" cy="598.09" r="0.64" fill="#c99ad0"/>
<circle cx="104.88" cy="637.42" r="0.58" fill="#a874be"/>
<circle cx="83.89" cy="617.89" r="0.31" fill="#8a5aa8"/>
<circle cx="91.5" cy="613.99" r="0.36" fill="#9464b0"/>
<circle cx="136.76" cy="608.27" r="0.54" fill="#c99ad0"/>
<circle cx="129.32" cy="604.05" r="0.35" fill="#9464b0"/>
<circle cx="80.62" cy="602.69" r="0.5" fill="#9464b0"/>
<circle cx="81.37" cy="633.5" r="0.61" fill="#a874be"/>
<circle cx="82.21" cy="602.91" r="0.32" fill="#9464b0"/>
<circle cx="142.47" cy="599.99" r="0.57" fill="#a874be"/>
<circle cx="120.32" cy="634.22" r="0.64" fill="#8a5aa8"/>
<g filter="url(#soft2)">
<ellipse cx="76" cy="619.6" rx="5.2" ry="2.6" fill="#ef92d2" transform="rotate(30 76 619.6)"/>
<ellipse cx="83.4" cy="622.1" rx="6" ry="2.6" fill="#ef92d2" transform="rotate(28 83.4 622.1)"/>
<ellipse cx="90.6" cy="626.1" rx="6.5" ry="2.5" fill="#ef92d2" transform="rotate(30 90.6 626.1)"/>
<ellipse cx="77.7" cy="630.6" rx="5.5" ry="2.2" fill="#ef92d2" transform="rotate(22 77.7 630.6)"/>
<ellipse cx="93.9" cy="632.3" rx="6.5" ry="2.3" fill="#ef92d2" transform="rotate(20 93.9 632.3)"/>
<ellipse cx="80.2" cy="638" rx="6" ry="2" fill="#ef92d2" transform="rotate(12 80.2 638)"/>
<ellipse cx="102.7" cy="641.4" rx="6" ry="2.2" fill="#ef92d2" transform="rotate(15 102.7 641.4)"/>
<ellipse cx="87" cy="642.1" rx="5" ry="1.6" fill="#ef92d2" transform="rotate(8 87 642.1)"/>
<ellipse cx="99" cy="626.6" rx="3" ry="1.5" fill="#ef92d2" transform="rotate(30 99 626.6)"/>
</g>
<path d="M70.0,584.6 L149.4,584.6 L149.4,592.8 C130,591.1 110,587.1 71,587 Z" fill="#ffffff"/>
<path d="M71,589 C110,589.1 130,593.1 149.4,594.8" fill="none" stroke="#a868b8" stroke-width="3" opacity="0.75"/>
<path d="M71,587.2 C110,587.3 130,591.3 149.4,593" fill="none" stroke="#d02a86" stroke-width="1.0"/>
</g>
<rect x="70" y="524.6" width="79.4" height="119.6" fill="none" stroke="#555" stroke-width="0.9"/>
<line x1="70" y1="584.3" x2="149.4" y2="584.3" stroke="#555" stroke-width="0.9"/>
<text x="165.6" y="506.6" font-size="11" font-weight="bold" fill="#000">O</text>
<line x1="193.6" y1="536.4" x2="193.6" y2="606.65" stroke="#111" stroke-width="1.1"/>
<line x1="190.6" y1="538.3" x2="193.6" y2="538.3" stroke="#111" stroke-width="1.1"/>
<text x="187.8" y="541.39" font-size="8.62" text-anchor="end" stroke="#222" stroke-width="0.18" textLength="8.35" lengthAdjust="spacingAndGlyphs">20</text>
<line x1="190.6" y1="555.25" x2="193.6" y2="555.25" stroke="#111" stroke-width="1.1"/>
<text x="187.8" y="558.34" font-size="8.62" text-anchor="end" stroke="#222" stroke-width="0.18" textLength="8.35" lengthAdjust="spacingAndGlyphs">15</text>
<line x1="190.6" y1="572.2" x2="193.6" y2="572.2" stroke="#111" stroke-width="1.1"/>
<text x="187.8" y="575.29" font-size="8.62" text-anchor="end" stroke="#222" stroke-width="0.18" textLength="8.35" lengthAdjust="spacingAndGlyphs">10</text>
<line x1="190.6" y1="589.15" x2="193.6" y2="589.15" stroke="#111" stroke-width="1.1"/>
<text x="187.8" y="592.24" font-size="8.62" text-anchor="end" stroke="#222" stroke-width="0.18" textLength="4.17" lengthAdjust="spacingAndGlyphs">5</text>
<line x1="190.6" y1="606.1" x2="193.6" y2="606.1" stroke="#111" stroke-width="1.1"/>
<text x="187.8" y="609.19" font-size="8.62" text-anchor="end" stroke="#222" stroke-width="0.18" textLength="4.17" lengthAdjust="spacingAndGlyphs">0</text>
<line x1="193.05" y1="606.1" x2="220.6" y2="606.1" stroke="#111" stroke-width="1.1"/>
<line x1="200.9" y1="606.1" x2="200.9" y2="609.1" stroke="#111" stroke-width="1.1"/>
<line x1="213.45" y1="606.1" x2="213.45" y2="609.1" stroke="#111" stroke-width="1.1"/>
<line x1="200.9" y1="568.5" x2="200.9" y2="574.9" stroke="#444" stroke-width="0.9"/>
<line x1="199" y1="568.5" x2="202.8" y2="568.5" stroke="#444" stroke-width="0.9"/>
<line x1="199" y1="574.9" x2="202.8" y2="574.9" stroke="#444" stroke-width="0.9"/>
<rect x="196.3" y="574.9" width="9.2" height="31.2" fill="#e38b14"/>
<rect x="196.6" y="575.2" width="8.6" height="30.9" fill="none" stroke="#c97a10" stroke-width="0.6"/>
<line x1="213.45" y1="548.5" x2="213.45" y2="554" stroke="#444" stroke-width="0.9"/>
<line x1="211.55" y1="548.5" x2="215.35" y2="548.5" stroke="#444" stroke-width="0.9"/>
<line x1="211.55" y1="554" x2="215.35" y2="554" stroke="#444" stroke-width="0.9"/>
<rect x="208.6" y="554" width="9.7" height="52.1" fill="#62a843"/>
<rect x="208.9" y="554.3" width="9.1" height="51.8" fill="none" stroke="#55953a" stroke-width="0.6"/>
<text x="204.9" y="616.1" font-size="8.25" text-anchor="end" stroke="#222" stroke-width="0.18" textLength="23.95" lengthAdjust="spacingAndGlyphs" transform="rotate(-45 204.9 616.1)">B6.WT</text>
<text x="217.45" y="616.1" font-size="8.25" text-anchor="end" stroke="#222" stroke-width="0.18" textLength="34.42" lengthAdjust="spacingAndGlyphs" transform="rotate(-45 217.45 616.1)">sgp130Fc</text>
<path d="M206.8,537.25L206.8,540.35M205.46,538.02L208.14,539.57M208.14,538.02L205.46,539.57" stroke="#222" stroke-width="0.8" fill="none"/>
<line x1="200.4" y1="543.3" x2="213.6" y2="543.3" stroke="#222" stroke-width="0.9"/>
<text x="172.94" y="570.8" font-size="8.6" text-anchor="middle" stroke="#222" stroke-width="0.18" textLength="84.3" lengthAdjust="spacingAndGlyphs" transform="rotate(-90 172.94 570.8)">Total skin pathology score</text>
<line x1="259.5" y1="536" x2="259.5" y2="606.65" stroke="#111" stroke-width="1.1"/>
<line x1="256.5" y1="538.8" x2="259.5" y2="538.8" stroke="#111" stroke-width="1.1"/>
<text x="253.7" y="541.89" font-size="8.62" text-anchor="end" stroke="#222" stroke-width="0.18" textLength="4.17" lengthAdjust="spacingAndGlyphs">5</text>
<line x1="256.5" y1="552.26" x2="259.5" y2="552.26" stroke="#111" stroke-width="1.1"/>
<text x="253.7" y="555.35" font-size="8.62" text-anchor="end" stroke="#222" stroke-width="0.18" textLength="4.17" lengthAdjust="spacingAndGlyphs">4</text>
<line x1="256.5" y1="565.72" x2="259.5" y2="565.72" stroke="#111" stroke-width="1.1"/>
<text x="253.7" y="568.81" font-size="8.62" text-anchor="end" stroke="#222" stroke-width="0.18" textLength="4.17" lengthAdjust="spacingAndGlyphs">3</text>
<line x1="256.5" y1="579.18" x2="259.5" y2="579.18" stroke="#111" stroke-width="1.1"/>
<text x="253.7" y="582.27" font-size="8.62" text-anchor="end" stroke="#222" stroke-width="0.18" textLength="4.17" lengthAdjust="spacingAndGlyphs">2</text>
<line x1="256.5" y1="592.64" x2="259.5" y2="592.64" stroke="#111" stroke-width="1.1"/>
<text x="253.7" y="595.73" font-size="8.62" text-anchor="end" stroke="#222" stroke-width="0.18" textLength="4.17" lengthAdjust="spacingAndGlyphs">1</text>
<line x1="256.5" y1="606.1" x2="259.5" y2="606.1" stroke="#111" stroke-width="1.1"/>
<text x="253.7" y="609.19" font-size="8.62" text-anchor="end" stroke="#222" stroke-width="0.18" textLength="4.17" lengthAdjust="spacingAndGlyphs">0</text>
<line x1="258.95" y1="606.1" x2="286.5" y2="606.1" stroke="#111" stroke-width="1.1"/>
<line x1="267.2" y1="606.1" x2="267.2" y2="609.1" stroke="#111" stroke-width="1.1"/>
<line x1="279.5" y1="606.1" x2="279.5" y2="609.1" stroke="#111" stroke-width="1.1"/>
<line x1="267.2" y1="573.6" x2="267.2" y2="577.8" stroke="#444" stroke-width="0.9"/>
<line x1="265.3" y1="573.6" x2="269.1" y2="573.6" stroke="#444" stroke-width="0.9"/>
<line x1="265.3" y1="577.8" x2="269.1" y2="577.8" stroke="#444" stroke-width="0.9"/>
<rect x="262.6" y="577.8" width="9.2" height="28.3" fill="#e38b14"/>
<rect x="262.9" y="578.1" width="8.6" height="28" fill="none" stroke="#c97a10" stroke-width="0.6"/>
<line x1="279.5" y1="554" x2="279.5" y2="558" stroke="#444" stroke-width="0.9"/>
<line x1="277.6" y1="554" x2="281.4" y2="554" stroke="#444" stroke-width="0.9"/>
<line x1="277.6" y1="558" x2="281.4" y2="558" stroke="#444" stroke-width="0.9"/>
<rect x="274.9" y="558" width="9.2" height="48.1" fill="#62a843"/>
<rect x="275.2" y="558.3" width="8.6" height="47.8" fill="none" stroke="#55953a" stroke-width="0.6"/>
<text x="271.2" y="616.1" font-size="8.25" text-anchor="end" stroke="#222" stroke-width="0.18" textLength="23.95" lengthAdjust="spacingAndGlyphs" transform="rotate(-45 271.2 616.1)">B6.WT</text>
<text x="283.5" y="616.1" font-size="8.25" text-anchor="end" stroke="#222" stroke-width="0.18" textLength="34.42" lengthAdjust="spacingAndGlyphs" transform="rotate(-45 283.5 616.1)">sgp130Fc</text>
<path d="M272.05,538.45L272.05,541.55M270.71,539.23L273.39,540.77M273.39,539.23L270.71,540.77M275.15,538.45L275.15,541.55M273.81,539.23L276.49,540.77M276.49,539.23L273.81,540.77" stroke="#222" stroke-width="0.8" fill="none"/>
<line x1="266.3" y1="543.7" x2="280" y2="543.7" stroke="#222" stroke-width="0.9"/>
<text x="243.74" y="570.8" font-size="8.6" text-anchor="middle" stroke="#222" stroke-width="0.18" textLength="71.5" lengthAdjust="spacingAndGlyphs" transform="rotate(-90 243.74 570.8)">Dermal inflammation</text>
<line x1="326" y1="536.1" x2="326" y2="606.85" stroke="#111" stroke-width="1.1"/>
<line x1="323" y1="538.8" x2="326" y2="538.8" stroke="#111" stroke-width="1.1"/>
<text x="320.2" y="541.89" font-size="8.62" text-anchor="end" stroke="#222" stroke-width="0.18" textLength="4.17" lengthAdjust="spacingAndGlyphs">3</text>
<line x1="323" y1="561.3" x2="326" y2="561.3" stroke="#111" stroke-width="1.1"/>
<text x="320.2" y="564.39" font-size="8.62" text-anchor="end" stroke="#222" stroke-width="0.18" textLength="4.17" lengthAdjust="spacingAndGlyphs">2</text>
<line x1="323" y1="583.8" x2="326" y2="583.8" stroke="#111" stroke-width="1.1"/>
<text x="320.2" y="586.89" font-size="8.62" text-anchor="end" stroke="#222" stroke-width="0.18" textLength="4.17" lengthAdjust="spacingAndGlyphs">1</text>
<line x1="323" y1="606.3" x2="326" y2="606.3" stroke="#111" stroke-width="1.1"/>
<text x="320.2" y="609.39" font-size="8.62" text-anchor="end" stroke="#222" stroke-width="0.18" textLength="4.17" lengthAdjust="spacingAndGlyphs">0</text>
<line x1="325.45" y1="606.3" x2="352.7" y2="606.3" stroke="#111" stroke-width="1.1"/>
<line x1="333.7" y1="606.3" x2="333.7" y2="609.3" stroke="#111" stroke-width="1.1"/>
<line x1="345.9" y1="606.3" x2="345.9" y2="609.3" stroke="#111" stroke-width="1.1"/>
<line x1="333.7" y1="569.4" x2="333.7" y2="574.7" stroke="#444" stroke-width="0.9"/>
<line x1="331.8" y1="569.4" x2="335.6" y2="569.4" stroke="#444" stroke-width="0.9"/>
<line x1="331.8" y1="574.7" x2="335.6" y2="574.7" stroke="#444" stroke-width="0.9"/>
<rect x="329.2" y="574.7" width="9" height="31.6" fill="#e38b14"/>
<rect x="329.5" y="575" width="8.4" height="31.3" fill="none" stroke="#c97a10" stroke-width="0.6"/>
<line x1="345.9" y1="542.3" x2="345.9" y2="548.3" stroke="#444" stroke-width="0.9"/>
<line x1="344" y1="542.3" x2="347.8" y2="542.3" stroke="#444" stroke-width="0.9"/>
<line x1="344" y1="548.3" x2="347.8" y2="548.3" stroke="#444" stroke-width="0.9"/>
<rect x="341.4" y="548.3" width="9" height="58" fill="#62a843"/>
<rect x="341.7" y="548.6" width="8.4" height="57.7" fill="none" stroke="#55953a" stroke-width="0.6"/>
<text x="337.7" y="616.3" font-size="8.25" text-anchor="end" stroke="#222" stroke-width="0.18" textLength="23.95" lengthAdjust="spacingAndGlyphs" transform="rotate(-45 337.7 616.3)">B6.WT</text>
<text x="349.9" y="616.3" font-size="8.25" text-anchor="end" stroke="#222" stroke-width="0.18" textLength="34.42" lengthAdjust="spacingAndGlyphs" transform="rotate(-45 349.9 616.3)">sgp130Fc</text>
<path d="M339.5,532.65L339.5,535.75M338.16,533.43L340.84,534.98M340.84,533.43L338.16,534.98" stroke="#222" stroke-width="0.8" fill="none"/>
<line x1="333.5" y1="538.6" x2="346.1" y2="538.6" stroke="#222" stroke-width="0.9"/>
<text x="309.84" y="570.9" font-size="8.6" text-anchor="middle" stroke="#222" stroke-width="0.18" textLength="82.8" lengthAdjust="spacingAndGlyphs" transform="rotate(-90 309.84 570.9)">Epidermal inflammation</text>
<text x="368.8" y="506.4" font-size="11" font-weight="bold" fill="#000">P</text>
<line x1="396.8" y1="536.5" x2="396.8" y2="606.75" stroke="#111" stroke-width="1.1"/>
<line x1="393.8" y1="538.85" x2="396.8" y2="538.85" stroke="#111" stroke-width="1.1"/>
<text x="391" y="541.94" font-size="8.62" text-anchor="end" stroke="#222" stroke-width="0.18" textLength="8.35" lengthAdjust="spacingAndGlyphs">15</text>
<line x1="393.8" y1="561.3" x2="396.8" y2="561.3" stroke="#111" stroke-width="1.1"/>
<text x="391" y="564.39" font-size="8.62" text-anchor="end" stroke="#222" stroke-width="0.18" textLength="8.35" lengthAdjust="spacingAndGlyphs">10</text>
<line x1="393.8" y1="583.75" x2="396.8" y2="583.75" stroke="#111" stroke-width="1.1"/>
<text x="391" y="586.84" font-size="8.62" text-anchor="end" stroke="#222" stroke-width="0.18" textLength="4.17" lengthAdjust="spacingAndGlyphs">5</text>
<line x1="393.8" y1="606.2" x2="396.8" y2="606.2" stroke="#111" stroke-width="1.1"/>
<text x="391" y="609.29" font-size="8.62" text-anchor="end" stroke="#222" stroke-width="0.18" textLength="4.17" lengthAdjust="spacingAndGlyphs">0</text>
<line x1="396.25" y1="606.2" x2="422.2" y2="606.2" stroke="#111" stroke-width="1.1"/>
<line x1="404.45" y1="606.2" x2="404.45" y2="609.2" stroke="#111" stroke-width="1.1"/>
<line x1="416.45" y1="606.2" x2="416.45" y2="609.2" stroke="#111" stroke-width="1.1"/>
<line x1="404.45" y1="555.4" x2="404.45" y2="558.8" stroke="#444" stroke-width="0.9"/>
<line x1="402.55" y1="555.4" x2="406.35" y2="555.4" stroke="#444" stroke-width="0.9"/>
<line x1="402.55" y1="558.8" x2="406.35" y2="558.8" stroke="#444" stroke-width="0.9"/>
<rect x="399.8" y="558.8" width="9.3" height="47.4" fill="#e38b14"/>
<rect x="400.1" y="559.1" width="8.7" height="47.1" fill="none" stroke="#c97a10" stroke-width="0.6"/>
<line x1="416.45" y1="560.5" x2="416.45" y2="562.8" stroke="#444" stroke-width="0.9"/>
<line x1="414.55" y1="560.5" x2="418.35" y2="560.5" stroke="#444" stroke-width="0.9"/>
<line x1="414.55" y1="562.8" x2="418.35" y2="562.8" stroke="#444" stroke-width="0.9"/>
<rect x="411.8" y="562.8" width="9.3" height="43.4" fill="#62a843"/>
<rect x="412.1" y="563.1" width="8.7" height="43.1" fill="none" stroke="#55953a" stroke-width="0.6"/>
<text x="408.45" y="616.2" font-size="8.25" text-anchor="end" stroke="#222" stroke-width="0.18" textLength="23.95" lengthAdjust="spacingAndGlyphs" transform="rotate(-45 408.45 616.2)">B6.WT</text>
<text x="420.45" y="616.2" font-size="8.25" text-anchor="end" stroke="#222" stroke-width="0.18" textLength="34.42" lengthAdjust="spacingAndGlyphs" transform="rotate(-45 420.45 616.2)">sgp130Fc</text>
<text x="376.04" y="571.5" font-size="8.6" text-anchor="middle" stroke="#222" stroke-width="0.18" textLength="69" lengthAdjust="spacingAndGlyphs" transform="rotate(-90 376.04 571.5)">Liver pathology score</text>
<line x1="456.8" y1="536.5" x2="456.8" y2="607.15" stroke="#111" stroke-width="1.1"/>
<line x1="453.8" y1="548.52" x2="456.8" y2="548.52" stroke="#111" stroke-width="1.1"/>
<text x="451" y="551.61" font-size="8.62" text-anchor="end" stroke="#222" stroke-width="0.18" textLength="4.17" lengthAdjust="spacingAndGlyphs">6</text>
<line x1="453.8" y1="567.88" x2="456.8" y2="567.88" stroke="#111" stroke-width="1.1"/>
<text x="451" y="570.97" font-size="8.62" text-anchor="end" stroke="#222" stroke-width="0.18" textLength="4.17" lengthAdjust="spacingAndGlyphs">4</text>
<line x1="453.8" y1="587.24" x2="456.8" y2="587.24" stroke="#111" stroke-width="1.1"/>
<text x="451" y="590.33" font-size="8.62" text-anchor="end" stroke="#222" stroke-width="0.18" textLength="4.17" lengthAdjust="spacingAndGlyphs">2</text>
<line x1="453.8" y1="606.6" x2="456.8" y2="606.6" stroke="#111" stroke-width="1.1"/>
<text x="451" y="609.69" font-size="8.62" text-anchor="end" stroke="#222" stroke-width="0.18" textLength="4.17" lengthAdjust="spacingAndGlyphs">0</text>
<line x1="456.25" y1="606.6" x2="482.2" y2="606.6" stroke="#111" stroke-width="1.1"/>
<line x1="464.45" y1="606.6" x2="464.45" y2="609.6" stroke="#111" stroke-width="1.1"/>
<line x1="476.9" y1="606.6" x2="476.9" y2="609.6" stroke="#111" stroke-width="1.1"/>
<line x1="464.45" y1="577.3" x2="464.45" y2="582.6" stroke="#444" stroke-width="0.9"/>
<line x1="462.55" y1="577.3" x2="466.35" y2="577.3" stroke="#444" stroke-width="0.9"/>
<line x1="462.55" y1="582.6" x2="466.35" y2="582.6" stroke="#444" stroke-width="0.9"/>
<rect x="459.8" y="582.6" width="9.3" height="24" fill="#e38b14"/>
<rect x="460.1" y="582.9" width="8.7" height="23.7" fill="none" stroke="#c97a10" stroke-width="0.6"/>
<line x1="476.9" y1="553.1" x2="476.9" y2="568.1" stroke="#444" stroke-width="0.9"/>
<line x1="475" y1="553.1" x2="478.8" y2="553.1" stroke="#444" stroke-width="0.9"/>
<line x1="475" y1="568.1" x2="478.8" y2="568.1" stroke="#444" stroke-width="0.9"/>
<rect x="472.3" y="568.1" width="9.2" height="38.5" fill="#62a843"/>
<rect x="472.6" y="568.4" width="8.6" height="38.2" fill="none" stroke="#55953a" stroke-width="0.6"/>
<text x="468.45" y="616.6" font-size="8.25" text-anchor="end" stroke="#222" stroke-width="0.18" textLength="23.95" lengthAdjust="spacingAndGlyphs" transform="rotate(-45 468.45 616.6)">B6.WT</text>
<text x="480.9" y="616.6" font-size="8.25" text-anchor="end" stroke="#222" stroke-width="0.18" textLength="34.42" lengthAdjust="spacingAndGlyphs" transform="rotate(-45 480.9 616.6)">sgp130Fc</text>
<text x="441.84" y="571.5" font-size="8.6" text-anchor="middle" stroke="#222" stroke-width="0.18" textLength="69" lengthAdjust="spacingAndGlyphs" transform="rotate(-90 441.84 571.5)">Lung pathology score</text>
<rect x="0.5" y="0.5" width="519" height="653" fill="none" stroke="#000" stroke-width="1.2"/>
</svg>
</body></html>
